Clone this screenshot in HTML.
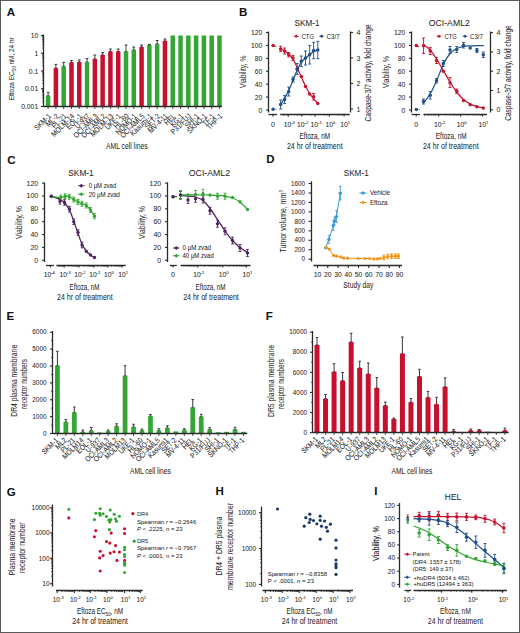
<!DOCTYPE html>
<html><head><meta charset="utf-8"><style>
html,body{margin:0;padding:0;background:#fff;}
svg{display:block;}
text{font-family:"Liberation Sans",sans-serif;stroke:#262626;stroke-width:0.04px;}
</style></head><body>
<svg width="520" height="633" viewBox="0 0 520 633">
<rect x="0" y="0" width="520" height="633" fill="#fff"/>
<text x="6.80" y="16.20" font-size="11.5" text-anchor="start" fill="#111" font-weight="bold">A</text>
<line x1="48.10" y1="92.30" x2="48.10" y2="95.80" stroke="#2a2a2a" stroke-width="0.9"/>
<line x1="46.70" y1="92.30" x2="49.50" y2="92.30" stroke="#2a2a2a" stroke-width="0.9"/>
<line x1="46.70" y1="95.80" x2="49.50" y2="95.80" stroke="#2a2a2a" stroke-width="0.9"/>
<rect x="45.85" y="95.80" width="4.50" height="10.70" fill="#34a634"/>
<line x1="48.10" y1="106.50" x2="48.10" y2="109.00" stroke="#2a2a2a" stroke-width="0.8"/>
<text x="51.50" y="116.70" font-size="7.6" text-anchor="end" fill="#262626" textLength="19.97" lengthAdjust="spacingAndGlyphs" transform="rotate(-45 51.50 116.70)">SKM-1</text>
<line x1="55.89" y1="64.40" x2="55.89" y2="68.10" stroke="#2a2a2a" stroke-width="0.9"/>
<line x1="54.49" y1="64.40" x2="57.29" y2="64.40" stroke="#2a2a2a" stroke-width="0.9"/>
<line x1="54.49" y1="68.10" x2="57.29" y2="68.10" stroke="#2a2a2a" stroke-width="0.9"/>
<rect x="53.64" y="68.10" width="4.50" height="38.40" fill="#c8102e"/>
<line x1="55.89" y1="106.50" x2="55.89" y2="109.00" stroke="#2a2a2a" stroke-width="0.8"/>
<text x="59.29" y="116.70" font-size="7.6" text-anchor="end" fill="#262626" textLength="14.89" lengthAdjust="spacingAndGlyphs" transform="rotate(-45 59.29 116.70)">ML-2</text>
<line x1="63.68" y1="62.30" x2="63.68" y2="66.30" stroke="#2a2a2a" stroke-width="0.9"/>
<line x1="62.28" y1="62.30" x2="65.08" y2="62.30" stroke="#2a2a2a" stroke-width="0.9"/>
<line x1="62.28" y1="66.30" x2="65.08" y2="66.30" stroke="#2a2a2a" stroke-width="0.9"/>
<rect x="61.43" y="66.30" width="4.50" height="40.20" fill="#34a634"/>
<line x1="63.68" y1="106.50" x2="63.68" y2="109.00" stroke="#2a2a2a" stroke-width="0.8"/>
<text x="67.08" y="116.70" font-size="7.6" text-anchor="end" fill="#262626" textLength="17.44" lengthAdjust="spacingAndGlyphs" transform="rotate(-45 67.08 116.70)">PL-21</text>
<line x1="71.47" y1="60.50" x2="71.47" y2="62.50" stroke="#2a2a2a" stroke-width="0.9"/>
<line x1="70.07" y1="60.50" x2="72.87" y2="60.50" stroke="#2a2a2a" stroke-width="0.9"/>
<line x1="70.07" y1="62.50" x2="72.87" y2="62.50" stroke="#2a2a2a" stroke-width="0.9"/>
<rect x="69.22" y="62.50" width="4.50" height="44.00" fill="#c8102e"/>
<line x1="71.47" y1="106.50" x2="71.47" y2="109.00" stroke="#2a2a2a" stroke-width="0.8"/>
<text x="74.87" y="116.70" font-size="7.6" text-anchor="end" fill="#262626" textLength="29.05" lengthAdjust="spacingAndGlyphs" transform="rotate(-45 74.87 116.70)">MOLM-14</text>
<line x1="79.26" y1="60.00" x2="79.26" y2="62.10" stroke="#2a2a2a" stroke-width="0.9"/>
<line x1="77.86" y1="60.00" x2="80.66" y2="60.00" stroke="#2a2a2a" stroke-width="0.9"/>
<line x1="77.86" y1="62.10" x2="80.66" y2="62.10" stroke="#2a2a2a" stroke-width="0.9"/>
<rect x="77.01" y="62.10" width="4.50" height="44.40" fill="#c8102e"/>
<line x1="79.26" y1="106.50" x2="79.26" y2="109.00" stroke="#2a2a2a" stroke-width="0.8"/>
<text x="82.66" y="116.70" font-size="7.6" text-anchor="end" fill="#262626" textLength="18.89" lengthAdjust="spacingAndGlyphs" transform="rotate(-45 82.66 116.70)">EOL-1</text>
<line x1="87.05" y1="58.50" x2="87.05" y2="62.10" stroke="#2a2a2a" stroke-width="0.9"/>
<line x1="85.65" y1="58.50" x2="88.45" y2="58.50" stroke="#2a2a2a" stroke-width="0.9"/>
<line x1="85.65" y1="62.10" x2="88.45" y2="62.10" stroke="#2a2a2a" stroke-width="0.9"/>
<rect x="84.80" y="62.10" width="4.50" height="44.40" fill="#34a634"/>
<line x1="87.05" y1="106.50" x2="87.05" y2="109.00" stroke="#2a2a2a" stroke-width="0.8"/>
<text x="90.45" y="116.70" font-size="7.6" text-anchor="end" fill="#262626" textLength="17.80" lengthAdjust="spacingAndGlyphs" transform="rotate(-45 90.45 116.70)">U-937</text>
<line x1="94.84" y1="55.00" x2="94.84" y2="59.00" stroke="#2a2a2a" stroke-width="0.9"/>
<line x1="93.44" y1="55.00" x2="96.24" y2="55.00" stroke="#2a2a2a" stroke-width="0.9"/>
<line x1="93.44" y1="59.00" x2="96.24" y2="59.00" stroke="#2a2a2a" stroke-width="0.9"/>
<rect x="92.59" y="59.00" width="4.50" height="47.50" fill="#c8102e"/>
<line x1="94.84" y1="106.50" x2="94.84" y2="109.00" stroke="#2a2a2a" stroke-width="0.8"/>
<text x="98.24" y="116.70" font-size="7.6" text-anchor="end" fill="#262626" textLength="30.87" lengthAdjust="spacingAndGlyphs" transform="rotate(-45 98.24 116.70)">OCI-AML3</text>
<line x1="102.63" y1="52.50" x2="102.63" y2="55.00" stroke="#2a2a2a" stroke-width="0.9"/>
<line x1="101.23" y1="52.50" x2="104.03" y2="52.50" stroke="#2a2a2a" stroke-width="0.9"/>
<line x1="101.23" y1="55.00" x2="104.03" y2="55.00" stroke="#2a2a2a" stroke-width="0.9"/>
<rect x="100.38" y="55.00" width="4.50" height="51.50" fill="#c8102e"/>
<line x1="102.63" y1="106.50" x2="102.63" y2="109.00" stroke="#2a2a2a" stroke-width="0.8"/>
<text x="106.03" y="116.70" font-size="7.6" text-anchor="end" fill="#262626" textLength="30.87" lengthAdjust="spacingAndGlyphs" transform="rotate(-45 106.03 116.70)">OCI-AML2</text>
<line x1="110.42" y1="49.00" x2="110.42" y2="51.50" stroke="#2a2a2a" stroke-width="0.9"/>
<line x1="109.02" y1="49.00" x2="111.82" y2="49.00" stroke="#2a2a2a" stroke-width="0.9"/>
<line x1="109.02" y1="51.50" x2="111.82" y2="51.50" stroke="#2a2a2a" stroke-width="0.9"/>
<rect x="108.17" y="51.50" width="4.50" height="55.00" fill="#c8102e"/>
<line x1="110.42" y1="106.50" x2="110.42" y2="109.00" stroke="#2a2a2a" stroke-width="0.8"/>
<text x="113.82" y="116.70" font-size="7.6" text-anchor="end" fill="#262626" textLength="29.05" lengthAdjust="spacingAndGlyphs" transform="rotate(-45 113.82 116.70)">MOLM-13</text>
<line x1="118.21" y1="49.00" x2="118.21" y2="51.50" stroke="#2a2a2a" stroke-width="0.9"/>
<line x1="116.81" y1="49.00" x2="119.61" y2="49.00" stroke="#2a2a2a" stroke-width="0.9"/>
<line x1="116.81" y1="51.50" x2="119.61" y2="51.50" stroke="#2a2a2a" stroke-width="0.9"/>
<rect x="115.96" y="51.50" width="4.50" height="55.00" fill="#c8102e"/>
<line x1="118.21" y1="106.50" x2="118.21" y2="109.00" stroke="#2a2a2a" stroke-width="0.8"/>
<text x="121.61" y="116.70" font-size="7.6" text-anchor="end" fill="#262626" textLength="19.25" lengthAdjust="spacingAndGlyphs" transform="rotate(-45 121.61 116.70)">UKE-1</text>
<line x1="126.00" y1="45.00" x2="126.00" y2="51.50" stroke="#2a2a2a" stroke-width="0.9"/>
<line x1="124.60" y1="45.00" x2="127.40" y2="45.00" stroke="#2a2a2a" stroke-width="0.9"/>
<line x1="124.60" y1="51.50" x2="127.40" y2="51.50" stroke="#2a2a2a" stroke-width="0.9"/>
<rect x="123.75" y="51.50" width="4.50" height="55.00" fill="#34a634"/>
<line x1="126.00" y1="106.50" x2="126.00" y2="109.00" stroke="#2a2a2a" stroke-width="0.8"/>
<text x="129.40" y="116.70" font-size="7.6" text-anchor="end" fill="#262626" textLength="17.80" lengthAdjust="spacingAndGlyphs" transform="rotate(-45 129.40 116.70)">HL-60</text>
<line x1="133.79" y1="47.00" x2="133.79" y2="50.00" stroke="#2a2a2a" stroke-width="0.9"/>
<line x1="132.39" y1="47.00" x2="135.19" y2="47.00" stroke="#2a2a2a" stroke-width="0.9"/>
<line x1="132.39" y1="50.00" x2="135.19" y2="50.00" stroke="#2a2a2a" stroke-width="0.9"/>
<rect x="131.54" y="50.00" width="4.50" height="56.50" fill="#34a634"/>
<line x1="133.79" y1="106.50" x2="133.79" y2="109.00" stroke="#2a2a2a" stroke-width="0.8"/>
<text x="137.19" y="116.70" font-size="7.6" text-anchor="end" fill="#262626" textLength="26.14" lengthAdjust="spacingAndGlyphs" transform="rotate(-45 137.19 116.70)">NOMO-1</text>
<line x1="141.58" y1="45.00" x2="141.58" y2="47.00" stroke="#2a2a2a" stroke-width="0.9"/>
<line x1="140.18" y1="45.00" x2="142.98" y2="45.00" stroke="#2a2a2a" stroke-width="0.9"/>
<line x1="140.18" y1="47.00" x2="142.98" y2="47.00" stroke="#2a2a2a" stroke-width="0.9"/>
<rect x="139.33" y="47.00" width="4.50" height="59.50" fill="#c8102e"/>
<line x1="141.58" y1="106.50" x2="141.58" y2="109.00" stroke="#2a2a2a" stroke-width="0.8"/>
<text x="144.98" y="116.70" font-size="7.6" text-anchor="end" fill="#262626" textLength="30.87" lengthAdjust="spacingAndGlyphs" transform="rotate(-45 144.98 116.70)">OCI-AML5</text>
<line x1="149.37" y1="44.30" x2="149.37" y2="45.00" stroke="#2a2a2a" stroke-width="0.9"/>
<line x1="147.97" y1="44.30" x2="150.77" y2="44.30" stroke="#2a2a2a" stroke-width="0.9"/>
<line x1="147.97" y1="45.00" x2="150.77" y2="45.00" stroke="#2a2a2a" stroke-width="0.9"/>
<rect x="147.12" y="45.00" width="4.50" height="61.50" fill="#34a634"/>
<line x1="149.37" y1="106.50" x2="149.37" y2="109.00" stroke="#2a2a2a" stroke-width="0.8"/>
<text x="152.77" y="116.70" font-size="7.6" text-anchor="end" fill="#262626" textLength="27.60" lengthAdjust="spacingAndGlyphs" transform="rotate(-45 152.77 116.70)">Kasumi-1</text>
<line x1="157.16" y1="40.50" x2="157.16" y2="44.00" stroke="#2a2a2a" stroke-width="0.9"/>
<line x1="155.76" y1="40.50" x2="158.56" y2="40.50" stroke="#2a2a2a" stroke-width="0.9"/>
<line x1="155.76" y1="44.00" x2="158.56" y2="44.00" stroke="#2a2a2a" stroke-width="0.9"/>
<rect x="154.91" y="44.00" width="4.50" height="62.50" fill="#34a634"/>
<line x1="157.16" y1="106.50" x2="157.16" y2="109.00" stroke="#2a2a2a" stroke-width="0.8"/>
<text x="160.56" y="116.70" font-size="7.6" text-anchor="end" fill="#262626" textLength="18.16" lengthAdjust="spacingAndGlyphs" transform="rotate(-45 160.56 116.70)">SET-2</text>
<line x1="164.95" y1="39.00" x2="164.95" y2="41.00" stroke="#2a2a2a" stroke-width="0.9"/>
<line x1="163.55" y1="39.00" x2="166.35" y2="39.00" stroke="#2a2a2a" stroke-width="0.9"/>
<line x1="163.55" y1="41.00" x2="166.35" y2="41.00" stroke="#2a2a2a" stroke-width="0.9"/>
<rect x="162.70" y="41.00" width="4.50" height="65.50" fill="#c8102e"/>
<line x1="164.95" y1="106.50" x2="164.95" y2="109.00" stroke="#2a2a2a" stroke-width="0.8"/>
<text x="168.35" y="116.70" font-size="7.6" text-anchor="end" fill="#262626" textLength="24.21" lengthAdjust="spacingAndGlyphs" transform="rotate(-45 168.35 116.70)">MV-4-11</text>
<rect x="170.49" y="35.50" width="4.50" height="71.00" fill="#34a634"/>
<line x1="172.74" y1="106.50" x2="172.74" y2="109.00" stroke="#2a2a2a" stroke-width="0.8"/>
<text x="176.14" y="116.70" font-size="7.6" text-anchor="end" fill="#262626" textLength="12.71" lengthAdjust="spacingAndGlyphs" transform="rotate(-45 176.14 116.70)">HEL</text>
<rect x="178.28" y="35.50" width="4.50" height="71.00" fill="#34a634"/>
<line x1="180.53" y1="106.50" x2="180.53" y2="109.00" stroke="#2a2a2a" stroke-width="0.8"/>
<text x="183.93" y="116.70" font-size="7.6" text-anchor="end" fill="#262626" textLength="15.25" lengthAdjust="spacingAndGlyphs" transform="rotate(-45 183.93 116.70)">KG-1</text>
<rect x="186.07" y="35.50" width="4.50" height="71.00" fill="#34a634"/>
<line x1="188.32" y1="106.50" x2="188.32" y2="109.00" stroke="#2a2a2a" stroke-width="0.8"/>
<text x="191.72" y="116.70" font-size="7.6" text-anchor="end" fill="#262626" textLength="25.43" lengthAdjust="spacingAndGlyphs" transform="rotate(-45 191.72 116.70)">P31/FUJ</text>
<rect x="193.86" y="35.50" width="4.50" height="71.00" fill="#34a634"/>
<line x1="196.11" y1="106.50" x2="196.11" y2="109.00" stroke="#2a2a2a" stroke-width="0.8"/>
<text x="199.51" y="116.70" font-size="7.6" text-anchor="end" fill="#262626" textLength="16.71" lengthAdjust="spacingAndGlyphs" transform="rotate(-45 199.51 116.70)">SHI-1</text>
<rect x="201.65" y="35.50" width="4.50" height="71.00" fill="#34a634"/>
<line x1="203.90" y1="106.50" x2="203.90" y2="109.00" stroke="#2a2a2a" stroke-width="0.8"/>
<text x="207.30" y="116.70" font-size="7.6" text-anchor="end" fill="#262626" textLength="24.33" lengthAdjust="spacingAndGlyphs" transform="rotate(-45 207.30 116.70)">SKNO-1</text>
<rect x="209.44" y="35.50" width="4.50" height="71.00" fill="#34a634"/>
<line x1="211.69" y1="106.50" x2="211.69" y2="109.00" stroke="#2a2a2a" stroke-width="0.8"/>
<text x="215.09" y="116.70" font-size="7.6" text-anchor="end" fill="#262626" textLength="13.80" lengthAdjust="spacingAndGlyphs" transform="rotate(-45 215.09 116.70)">TF-1</text>
<rect x="217.23" y="35.50" width="4.50" height="71.00" fill="#34a634"/>
<line x1="219.48" y1="106.50" x2="219.48" y2="109.00" stroke="#2a2a2a" stroke-width="0.8"/>
<text x="222.88" y="116.70" font-size="7.6" text-anchor="end" fill="#262626" textLength="18.88" lengthAdjust="spacingAndGlyphs" transform="rotate(-45 222.88 116.70)">THP-1</text>
<line x1="43.50" y1="34.50" x2="43.50" y2="107.00" stroke="#2a2a2a" stroke-width="1.3"/>
<line x1="43.50" y1="106.50" x2="222.00" y2="106.50" stroke="#2a2a2a" stroke-width="1.3"/>
<line x1="41.00" y1="106.50" x2="43.50" y2="106.50" stroke="#2a2a2a" stroke-width="1.1"/>
<text x="38.20" y="109.00" font-size="6.8" text-anchor="end" fill="#262626">0.001</text>
<line x1="42.20" y1="101.16" x2="43.50" y2="101.16" stroke="#2a2a2a" stroke-width="0.8"/>
<line x1="42.20" y1="98.03" x2="43.50" y2="98.03" stroke="#2a2a2a" stroke-width="0.8"/>
<line x1="42.20" y1="95.81" x2="43.50" y2="95.81" stroke="#2a2a2a" stroke-width="0.8"/>
<line x1="42.20" y1="94.09" x2="43.50" y2="94.09" stroke="#2a2a2a" stroke-width="0.8"/>
<line x1="42.20" y1="92.69" x2="43.50" y2="92.69" stroke="#2a2a2a" stroke-width="0.8"/>
<line x1="42.20" y1="91.50" x2="43.50" y2="91.50" stroke="#2a2a2a" stroke-width="0.8"/>
<line x1="42.20" y1="90.47" x2="43.50" y2="90.47" stroke="#2a2a2a" stroke-width="0.8"/>
<line x1="42.20" y1="89.56" x2="43.50" y2="89.56" stroke="#2a2a2a" stroke-width="0.8"/>
<line x1="41.00" y1="88.75" x2="43.50" y2="88.75" stroke="#2a2a2a" stroke-width="1.1"/>
<text x="38.20" y="91.25" font-size="6.8" text-anchor="end" fill="#262626">0.01</text>
<line x1="42.20" y1="83.41" x2="43.50" y2="83.41" stroke="#2a2a2a" stroke-width="0.8"/>
<line x1="42.20" y1="80.28" x2="43.50" y2="80.28" stroke="#2a2a2a" stroke-width="0.8"/>
<line x1="42.20" y1="78.06" x2="43.50" y2="78.06" stroke="#2a2a2a" stroke-width="0.8"/>
<line x1="42.20" y1="76.34" x2="43.50" y2="76.34" stroke="#2a2a2a" stroke-width="0.8"/>
<line x1="42.20" y1="74.94" x2="43.50" y2="74.94" stroke="#2a2a2a" stroke-width="0.8"/>
<line x1="42.20" y1="73.75" x2="43.50" y2="73.75" stroke="#2a2a2a" stroke-width="0.8"/>
<line x1="42.20" y1="72.72" x2="43.50" y2="72.72" stroke="#2a2a2a" stroke-width="0.8"/>
<line x1="42.20" y1="71.81" x2="43.50" y2="71.81" stroke="#2a2a2a" stroke-width="0.8"/>
<line x1="41.00" y1="71.00" x2="43.50" y2="71.00" stroke="#2a2a2a" stroke-width="1.1"/>
<text x="38.20" y="73.50" font-size="6.8" text-anchor="end" fill="#262626">0.1</text>
<line x1="42.20" y1="65.66" x2="43.50" y2="65.66" stroke="#2a2a2a" stroke-width="0.8"/>
<line x1="42.20" y1="62.53" x2="43.50" y2="62.53" stroke="#2a2a2a" stroke-width="0.8"/>
<line x1="42.20" y1="60.31" x2="43.50" y2="60.31" stroke="#2a2a2a" stroke-width="0.8"/>
<line x1="42.20" y1="58.59" x2="43.50" y2="58.59" stroke="#2a2a2a" stroke-width="0.8"/>
<line x1="42.20" y1="57.19" x2="43.50" y2="57.19" stroke="#2a2a2a" stroke-width="0.8"/>
<line x1="42.20" y1="56.00" x2="43.50" y2="56.00" stroke="#2a2a2a" stroke-width="0.8"/>
<line x1="42.20" y1="54.97" x2="43.50" y2="54.97" stroke="#2a2a2a" stroke-width="0.8"/>
<line x1="42.20" y1="54.06" x2="43.50" y2="54.06" stroke="#2a2a2a" stroke-width="0.8"/>
<line x1="41.00" y1="53.25" x2="43.50" y2="53.25" stroke="#2a2a2a" stroke-width="1.1"/>
<text x="38.20" y="55.75" font-size="6.8" text-anchor="end" fill="#262626">1</text>
<line x1="42.20" y1="47.91" x2="43.50" y2="47.91" stroke="#2a2a2a" stroke-width="0.8"/>
<line x1="42.20" y1="44.78" x2="43.50" y2="44.78" stroke="#2a2a2a" stroke-width="0.8"/>
<line x1="42.20" y1="42.56" x2="43.50" y2="42.56" stroke="#2a2a2a" stroke-width="0.8"/>
<line x1="42.20" y1="40.84" x2="43.50" y2="40.84" stroke="#2a2a2a" stroke-width="0.8"/>
<line x1="42.20" y1="39.44" x2="43.50" y2="39.44" stroke="#2a2a2a" stroke-width="0.8"/>
<line x1="42.20" y1="38.25" x2="43.50" y2="38.25" stroke="#2a2a2a" stroke-width="0.8"/>
<line x1="42.20" y1="37.22" x2="43.50" y2="37.22" stroke="#2a2a2a" stroke-width="0.8"/>
<line x1="42.20" y1="36.31" x2="43.50" y2="36.31" stroke="#2a2a2a" stroke-width="0.8"/>
<line x1="41.00" y1="35.50" x2="43.50" y2="35.50" stroke="#2a2a2a" stroke-width="1.1"/>
<text x="38.20" y="38.00" font-size="6.8" text-anchor="end" fill="#262626">10</text>
<text x="14.30" y="68.80" font-size="7.8" text-anchor="middle" fill="#262626" textLength="63.00" lengthAdjust="spacingAndGlyphs" transform="rotate(-90 14.30 68.80)" class="rt">Eftoza EC<tspan font-size="5.6" dy="1.8">50</tspan><tspan dy="-1.8"> nM, 24 hr</tspan></text>
<text x="126.80" y="148.60" font-size="8.6" text-anchor="middle" fill="#262626" textLength="41.50" lengthAdjust="spacingAndGlyphs">AML cell lines</text>
<text x="239.00" y="16.20" font-size="11.5" text-anchor="start" fill="#111" font-weight="bold">B</text>
<line x1="268.50" y1="31.50" x2="268.50" y2="112.50" stroke="#2a2a2a" stroke-width="1.3"/>
<line x1="350.50" y1="31.50" x2="350.50" y2="112.50" stroke="#2a2a2a" stroke-width="1.3"/>
<line x1="266.00" y1="110.00" x2="268.50" y2="110.00" stroke="#2a2a2a" stroke-width="1.1"/>
<text x="262.30" y="112.50" font-size="6.8" text-anchor="end" fill="#262626">0</text>
<line x1="266.00" y1="97.08" x2="268.50" y2="97.08" stroke="#2a2a2a" stroke-width="1.1"/>
<text x="262.30" y="99.58" font-size="6.8" text-anchor="end" fill="#262626">20</text>
<line x1="266.00" y1="84.17" x2="268.50" y2="84.17" stroke="#2a2a2a" stroke-width="1.1"/>
<text x="262.30" y="86.67" font-size="6.8" text-anchor="end" fill="#262626">40</text>
<line x1="266.00" y1="71.25" x2="268.50" y2="71.25" stroke="#2a2a2a" stroke-width="1.1"/>
<text x="262.30" y="73.75" font-size="6.8" text-anchor="end" fill="#262626">60</text>
<line x1="266.00" y1="58.34" x2="268.50" y2="58.34" stroke="#2a2a2a" stroke-width="1.1"/>
<text x="262.30" y="60.84" font-size="6.8" text-anchor="end" fill="#262626">80</text>
<line x1="266.00" y1="45.42" x2="268.50" y2="45.42" stroke="#2a2a2a" stroke-width="1.1"/>
<text x="262.30" y="47.92" font-size="6.8" text-anchor="end" fill="#262626">100</text>
<line x1="266.00" y1="32.50" x2="268.50" y2="32.50" stroke="#2a2a2a" stroke-width="1.1"/>
<text x="262.30" y="35.00" font-size="6.8" text-anchor="end" fill="#262626">120</text>
<line x1="350.50" y1="109.00" x2="353.00" y2="109.00" stroke="#2a2a2a" stroke-width="1.1"/>
<text x="356.50" y="111.50" font-size="7" text-anchor="start" fill="#262626">1</text>
<line x1="350.50" y1="83.50" x2="353.00" y2="83.50" stroke="#2a2a2a" stroke-width="1.1"/>
<text x="356.50" y="86.00" font-size="7" text-anchor="start" fill="#262626">2</text>
<line x1="350.50" y1="58.00" x2="353.00" y2="58.00" stroke="#2a2a2a" stroke-width="1.1"/>
<text x="356.50" y="60.50" font-size="7" text-anchor="start" fill="#262626">3</text>
<line x1="350.50" y1="32.50" x2="353.00" y2="32.50" stroke="#2a2a2a" stroke-width="1.1"/>
<text x="356.50" y="35.00" font-size="7" text-anchor="start" fill="#262626">4</text>
<line x1="268.50" y1="114.50" x2="277.10" y2="114.50" stroke="#2a2a2a" stroke-width="1.3"/>
<line x1="280.20" y1="114.50" x2="349.80" y2="114.50" stroke="#2a2a2a" stroke-width="1.3"/>
<line x1="273.00" y1="114.00" x2="273.00" y2="116.50" stroke="#2a2a2a" stroke-width="1.1"/>
<text x="273.00" y="126.80" font-size="7" text-anchor="middle" fill="#262626">0</text>
<line x1="288.30" y1="114.00" x2="288.30" y2="116.50" stroke="#2a2a2a" stroke-width="1.1"/>
<text x="289.30" y="126.80" font-size="6.8" text-anchor="middle" fill="#262626">10<tspan font-size="4.22" dy="-2.6">-3</tspan></text>
<line x1="301.70" y1="114.00" x2="301.70" y2="116.50" stroke="#2a2a2a" stroke-width="1.1"/>
<text x="302.70" y="126.80" font-size="6.8" text-anchor="middle" fill="#262626">10<tspan font-size="4.22" dy="-2.6">-2</tspan></text>
<line x1="315.10" y1="114.00" x2="315.10" y2="116.50" stroke="#2a2a2a" stroke-width="1.1"/>
<text x="316.10" y="126.80" font-size="6.8" text-anchor="middle" fill="#262626">10<tspan font-size="4.22" dy="-2.6">-1</tspan></text>
<line x1="329.40" y1="114.00" x2="329.40" y2="116.50" stroke="#2a2a2a" stroke-width="1.1"/>
<text x="330.40" y="126.80" font-size="6.8" text-anchor="middle" fill="#262626">10<tspan font-size="4.22" dy="-2.6">0</tspan></text>
<line x1="344.10" y1="114.00" x2="344.10" y2="116.50" stroke="#2a2a2a" stroke-width="1.1"/>
<text x="345.10" y="126.80" font-size="6.8" text-anchor="middle" fill="#262626">10<tspan font-size="4.22" dy="-2.6">1</tspan></text>
<line x1="284.10" y1="114.00" x2="284.10" y2="115.60" stroke="#2a2a2a" stroke-width="0.8"/>
<line x1="287.40" y1="114.00" x2="287.40" y2="115.60" stroke="#2a2a2a" stroke-width="0.8"/>
<line x1="297.60" y1="114.00" x2="297.60" y2="115.60" stroke="#2a2a2a" stroke-width="0.8"/>
<line x1="300.90" y1="114.00" x2="300.90" y2="115.60" stroke="#2a2a2a" stroke-width="0.8"/>
<line x1="311.10" y1="114.00" x2="311.10" y2="115.60" stroke="#2a2a2a" stroke-width="0.8"/>
<line x1="314.40" y1="114.00" x2="314.40" y2="115.60" stroke="#2a2a2a" stroke-width="0.8"/>
<line x1="324.60" y1="114.00" x2="324.60" y2="115.60" stroke="#2a2a2a" stroke-width="0.8"/>
<line x1="327.90" y1="114.00" x2="327.90" y2="115.60" stroke="#2a2a2a" stroke-width="0.8"/>
<line x1="338.10" y1="114.00" x2="338.10" y2="115.60" stroke="#2a2a2a" stroke-width="0.8"/>
<line x1="341.40" y1="114.00" x2="341.40" y2="115.60" stroke="#2a2a2a" stroke-width="0.8"/>
<text x="307.00" y="25.90" font-size="8.8" text-anchor="middle" fill="#262626" textLength="25.00" lengthAdjust="spacingAndGlyphs" stroke="#262626" stroke-width="0.25">SKM-1</text>
<path d="M280.60,48.90 C281.27,49.25 283.25,50.12 284.60,51.00 C285.95,51.88 287.30,52.87 288.70,54.20 C290.10,55.53 291.58,56.78 293.00,59.00 C294.42,61.22 295.82,64.50 297.20,67.50 C298.58,70.50 299.92,73.92 301.30,77.00 C302.68,80.08 304.10,83.25 305.50,86.00 C306.90,88.75 308.35,91.37 309.70,93.50 C311.05,95.63 312.25,97.15 313.60,98.80 C314.95,100.45 317.10,102.63 317.80,103.40" fill="none" stroke="#c8102e" stroke-width="1.25"/>
<path d="M280.60,104.60 C281.27,103.57 283.25,100.73 284.60,98.40 C285.95,96.07 287.30,93.58 288.70,90.60 C290.10,87.62 291.58,83.92 293.00,80.50 C294.42,77.08 295.82,73.13 297.20,70.10 C298.58,67.07 299.92,64.28 301.30,62.30 C302.68,60.32 304.10,59.52 305.50,58.20 C306.90,56.88 308.35,55.50 309.70,54.40 C311.05,53.30 312.25,52.32 313.60,51.60 C314.95,50.88 317.10,50.35 317.80,50.10" fill="none" stroke="#1f4f8c" stroke-width="1.25"/>
<line x1="280.60" y1="46.20" x2="280.60" y2="51.50" stroke="#c8102e" stroke-width="0.9"/>
<line x1="279.10" y1="46.20" x2="282.10" y2="46.20" stroke="#c8102e" stroke-width="0.9"/>
<line x1="279.10" y1="51.50" x2="282.10" y2="51.50" stroke="#c8102e" stroke-width="0.9"/>
<line x1="284.60" y1="48.00" x2="284.60" y2="54.00" stroke="#c8102e" stroke-width="0.9"/>
<line x1="283.10" y1="48.00" x2="286.10" y2="48.00" stroke="#c8102e" stroke-width="0.9"/>
<line x1="283.10" y1="54.00" x2="286.10" y2="54.00" stroke="#c8102e" stroke-width="0.9"/>
<line x1="288.70" y1="52.50" x2="288.70" y2="57.00" stroke="#c8102e" stroke-width="0.9"/>
<line x1="287.20" y1="52.50" x2="290.20" y2="52.50" stroke="#c8102e" stroke-width="0.9"/>
<line x1="287.20" y1="57.00" x2="290.20" y2="57.00" stroke="#c8102e" stroke-width="0.9"/>
<line x1="293.00" y1="55.50" x2="293.00" y2="60.50" stroke="#c8102e" stroke-width="0.9"/>
<line x1="291.50" y1="55.50" x2="294.50" y2="55.50" stroke="#c8102e" stroke-width="0.9"/>
<line x1="291.50" y1="60.50" x2="294.50" y2="60.50" stroke="#c8102e" stroke-width="0.9"/>
<line x1="313.60" y1="93.50" x2="313.60" y2="100.00" stroke="#c8102e" stroke-width="0.9"/>
<line x1="312.10" y1="93.50" x2="315.10" y2="93.50" stroke="#c8102e" stroke-width="0.9"/>
<line x1="312.10" y1="100.00" x2="315.10" y2="100.00" stroke="#c8102e" stroke-width="0.9"/>
<line x1="280.60" y1="100.00" x2="280.60" y2="109.00" stroke="#1f4f8c" stroke-width="0.9"/>
<line x1="279.10" y1="100.00" x2="282.10" y2="100.00" stroke="#1f4f8c" stroke-width="0.9"/>
<line x1="279.10" y1="109.00" x2="282.10" y2="109.00" stroke="#1f4f8c" stroke-width="0.9"/>
<line x1="284.60" y1="95.50" x2="284.60" y2="103.50" stroke="#1f4f8c" stroke-width="0.9"/>
<line x1="283.10" y1="95.50" x2="286.10" y2="95.50" stroke="#1f4f8c" stroke-width="0.9"/>
<line x1="283.10" y1="103.50" x2="286.10" y2="103.50" stroke="#1f4f8c" stroke-width="0.9"/>
<line x1="288.70" y1="87.00" x2="288.70" y2="96.00" stroke="#1f4f8c" stroke-width="0.9"/>
<line x1="287.20" y1="87.00" x2="290.20" y2="87.00" stroke="#1f4f8c" stroke-width="0.9"/>
<line x1="287.20" y1="96.00" x2="290.20" y2="96.00" stroke="#1f4f8c" stroke-width="0.9"/>
<line x1="293.00" y1="77.00" x2="293.00" y2="82.00" stroke="#1f4f8c" stroke-width="0.9"/>
<line x1="291.50" y1="77.00" x2="294.50" y2="77.00" stroke="#1f4f8c" stroke-width="0.9"/>
<line x1="291.50" y1="82.00" x2="294.50" y2="82.00" stroke="#1f4f8c" stroke-width="0.9"/>
<line x1="297.20" y1="63.50" x2="297.20" y2="74.50" stroke="#1f4f8c" stroke-width="0.9"/>
<line x1="295.70" y1="63.50" x2="298.70" y2="63.50" stroke="#1f4f8c" stroke-width="0.9"/>
<line x1="295.70" y1="74.50" x2="298.70" y2="74.50" stroke="#1f4f8c" stroke-width="0.9"/>
<line x1="301.30" y1="56.00" x2="301.30" y2="66.50" stroke="#1f4f8c" stroke-width="0.9"/>
<line x1="299.80" y1="56.00" x2="302.80" y2="56.00" stroke="#1f4f8c" stroke-width="0.9"/>
<line x1="299.80" y1="66.50" x2="302.80" y2="66.50" stroke="#1f4f8c" stroke-width="0.9"/>
<line x1="305.50" y1="51.00" x2="305.50" y2="65.00" stroke="#1f4f8c" stroke-width="0.9"/>
<line x1="304.00" y1="51.00" x2="307.00" y2="51.00" stroke="#1f4f8c" stroke-width="0.9"/>
<line x1="304.00" y1="65.00" x2="307.00" y2="65.00" stroke="#1f4f8c" stroke-width="0.9"/>
<line x1="309.70" y1="45.40" x2="309.70" y2="64.00" stroke="#1f4f8c" stroke-width="0.9"/>
<line x1="308.20" y1="45.40" x2="311.20" y2="45.40" stroke="#1f4f8c" stroke-width="0.9"/>
<line x1="308.20" y1="64.00" x2="311.20" y2="64.00" stroke="#1f4f8c" stroke-width="0.9"/>
<line x1="313.60" y1="42.30" x2="313.60" y2="58.70" stroke="#1f4f8c" stroke-width="0.9"/>
<line x1="312.10" y1="42.30" x2="315.10" y2="42.30" stroke="#1f4f8c" stroke-width="0.9"/>
<line x1="312.10" y1="58.70" x2="315.10" y2="58.70" stroke="#1f4f8c" stroke-width="0.9"/>
<line x1="317.80" y1="41.40" x2="317.80" y2="58.70" stroke="#1f4f8c" stroke-width="0.9"/>
<line x1="316.30" y1="41.40" x2="319.30" y2="41.40" stroke="#1f4f8c" stroke-width="0.9"/>
<line x1="316.30" y1="58.70" x2="319.30" y2="58.70" stroke="#1f4f8c" stroke-width="0.9"/>
<circle cx="273.10" cy="45.40" r="1.75" fill="#c8102e"/>
<circle cx="280.60" cy="48.90" r="1.75" fill="#c8102e"/>
<circle cx="284.60" cy="51.00" r="1.75" fill="#c8102e"/>
<circle cx="288.70" cy="54.80" r="1.75" fill="#c8102e"/>
<circle cx="293.00" cy="57.90" r="1.75" fill="#c8102e"/>
<circle cx="297.20" cy="69.10" r="1.75" fill="#c8102e"/>
<circle cx="301.30" cy="76.40" r="1.75" fill="#c8102e"/>
<circle cx="305.50" cy="86.40" r="1.75" fill="#c8102e"/>
<circle cx="309.70" cy="93.90" r="1.75" fill="#c8102e"/>
<circle cx="313.60" cy="96.80" r="1.75" fill="#c8102e"/>
<circle cx="317.80" cy="103.40" r="1.75" fill="#c8102e"/>
<circle cx="273.10" cy="109.30" r="1.75" fill="#1f4f8c"/>
<circle cx="280.60" cy="104.60" r="1.75" fill="#1f4f8c"/>
<circle cx="284.60" cy="99.40" r="1.75" fill="#1f4f8c"/>
<circle cx="288.70" cy="91.60" r="1.75" fill="#1f4f8c"/>
<circle cx="293.00" cy="79.50" r="1.75" fill="#1f4f8c"/>
<circle cx="297.20" cy="69.10" r="1.75" fill="#1f4f8c"/>
<circle cx="301.30" cy="61.30" r="1.75" fill="#1f4f8c"/>
<circle cx="305.50" cy="57.90" r="1.75" fill="#1f4f8c"/>
<circle cx="309.70" cy="54.40" r="1.75" fill="#1f4f8c"/>
<circle cx="313.60" cy="50.60" r="1.75" fill="#1f4f8c"/>
<circle cx="317.80" cy="50.10" r="1.75" fill="#1f4f8c"/>
<line x1="273.10" y1="45.40" x2="276.10" y2="46.60" stroke="#c8102e" stroke-width="1.0"/>
<line x1="275.60" y1="109.30" x2="276.60" y2="109.30" stroke="#1f4f8c" stroke-width="1.0"/>
<line x1="293.70" y1="36.30" x2="298.70" y2="36.30" stroke="#c8102e" stroke-width="0.8"/>
<path d="M294.40,36.3 L296.20,34.5 L298.00,36.3 L296.20,38.1 Z" fill="#c8102e"/>
<text x="301.70" y="38.60" font-size="6.3" text-anchor="start" fill="#262626" textLength="12.20" lengthAdjust="spacingAndGlyphs">CTG</text>
<line x1="319.10" y1="36.30" x2="324.10" y2="36.30" stroke="#1f4f8c" stroke-width="0.8"/>
<path d="M319.80,36.3 L321.60,34.5 L323.40,36.3 L321.60,38.1 Z" fill="#1f4f8c"/>
<text x="326.60" y="38.60" font-size="6.3" text-anchor="start" fill="#262626" textLength="13.00" lengthAdjust="spacingAndGlyphs">C3/7</text>
<line x1="411.50" y1="31.50" x2="411.50" y2="112.50" stroke="#2a2a2a" stroke-width="1.3"/>
<line x1="490.50" y1="31.50" x2="490.50" y2="112.50" stroke="#2a2a2a" stroke-width="1.3"/>
<line x1="409.00" y1="110.00" x2="411.50" y2="110.00" stroke="#2a2a2a" stroke-width="1.1"/>
<text x="405.30" y="112.50" font-size="6.8" text-anchor="end" fill="#262626">0</text>
<line x1="409.00" y1="97.08" x2="411.50" y2="97.08" stroke="#2a2a2a" stroke-width="1.1"/>
<text x="405.30" y="99.58" font-size="6.8" text-anchor="end" fill="#262626">20</text>
<line x1="409.00" y1="84.17" x2="411.50" y2="84.17" stroke="#2a2a2a" stroke-width="1.1"/>
<text x="405.30" y="86.67" font-size="6.8" text-anchor="end" fill="#262626">40</text>
<line x1="409.00" y1="71.25" x2="411.50" y2="71.25" stroke="#2a2a2a" stroke-width="1.1"/>
<text x="405.30" y="73.75" font-size="6.8" text-anchor="end" fill="#262626">60</text>
<line x1="409.00" y1="58.34" x2="411.50" y2="58.34" stroke="#2a2a2a" stroke-width="1.1"/>
<text x="405.30" y="60.84" font-size="6.8" text-anchor="end" fill="#262626">80</text>
<line x1="409.00" y1="45.42" x2="411.50" y2="45.42" stroke="#2a2a2a" stroke-width="1.1"/>
<text x="405.30" y="47.92" font-size="6.8" text-anchor="end" fill="#262626">100</text>
<line x1="409.00" y1="32.50" x2="411.50" y2="32.50" stroke="#2a2a2a" stroke-width="1.1"/>
<text x="405.30" y="35.00" font-size="6.8" text-anchor="end" fill="#262626">120</text>
<line x1="490.50" y1="109.80" x2="493.00" y2="109.80" stroke="#2a2a2a" stroke-width="1.1"/>
<text x="496.50" y="112.30" font-size="7" text-anchor="start" fill="#262626">0</text>
<line x1="490.50" y1="90.50" x2="493.00" y2="90.50" stroke="#2a2a2a" stroke-width="1.1"/>
<text x="496.50" y="93.00" font-size="7" text-anchor="start" fill="#262626">1</text>
<line x1="490.50" y1="71.20" x2="493.00" y2="71.20" stroke="#2a2a2a" stroke-width="1.1"/>
<text x="496.50" y="73.70" font-size="7" text-anchor="start" fill="#262626">2</text>
<line x1="490.50" y1="51.90" x2="493.00" y2="51.90" stroke="#2a2a2a" stroke-width="1.1"/>
<text x="496.50" y="54.40" font-size="7" text-anchor="start" fill="#262626">3</text>
<line x1="490.50" y1="32.60" x2="493.00" y2="32.60" stroke="#2a2a2a" stroke-width="1.1"/>
<text x="496.50" y="35.10" font-size="7" text-anchor="start" fill="#262626">4</text>
<line x1="411.50" y1="114.50" x2="420.00" y2="114.50" stroke="#2a2a2a" stroke-width="1.3"/>
<line x1="423.50" y1="114.50" x2="487.00" y2="114.50" stroke="#2a2a2a" stroke-width="1.3"/>
<line x1="416.20" y1="114.00" x2="416.20" y2="116.50" stroke="#2a2a2a" stroke-width="1.1"/>
<text x="416.20" y="126.80" font-size="7" text-anchor="middle" fill="#262626">0</text>
<line x1="438.70" y1="114.00" x2="438.70" y2="116.50" stroke="#2a2a2a" stroke-width="1.1"/>
<text x="439.70" y="126.80" font-size="6.8" text-anchor="middle" fill="#262626">10<tspan font-size="4.22" dy="-2.6">-1</tspan></text>
<line x1="460.70" y1="114.00" x2="460.70" y2="116.50" stroke="#2a2a2a" stroke-width="1.1"/>
<text x="461.70" y="126.80" font-size="6.8" text-anchor="middle" fill="#262626">10<tspan font-size="4.22" dy="-2.6">0</tspan></text>
<line x1="482.50" y1="114.00" x2="482.50" y2="116.50" stroke="#2a2a2a" stroke-width="1.1"/>
<text x="483.50" y="126.80" font-size="6.8" text-anchor="middle" fill="#262626">10<tspan font-size="4.22" dy="-2.6">1</tspan></text>
<line x1="424.50" y1="114.00" x2="424.50" y2="115.60" stroke="#2a2a2a" stroke-width="0.8"/>
<line x1="428.50" y1="114.00" x2="428.50" y2="115.60" stroke="#2a2a2a" stroke-width="0.8"/>
<line x1="431.20" y1="114.00" x2="431.20" y2="115.60" stroke="#2a2a2a" stroke-width="0.8"/>
<line x1="433.40" y1="114.00" x2="433.40" y2="115.60" stroke="#2a2a2a" stroke-width="0.8"/>
<line x1="435.50" y1="114.00" x2="435.50" y2="115.60" stroke="#2a2a2a" stroke-width="0.8"/>
<line x1="446.00" y1="114.00" x2="446.00" y2="115.60" stroke="#2a2a2a" stroke-width="0.8"/>
<line x1="450.60" y1="114.00" x2="450.60" y2="115.60" stroke="#2a2a2a" stroke-width="0.8"/>
<line x1="453.70" y1="114.00" x2="453.70" y2="115.60" stroke="#2a2a2a" stroke-width="0.8"/>
<line x1="456.20" y1="114.00" x2="456.20" y2="115.60" stroke="#2a2a2a" stroke-width="0.8"/>
<line x1="458.20" y1="114.00" x2="458.20" y2="115.60" stroke="#2a2a2a" stroke-width="0.8"/>
<line x1="468.50" y1="114.00" x2="468.50" y2="115.60" stroke="#2a2a2a" stroke-width="0.8"/>
<line x1="473.00" y1="114.00" x2="473.00" y2="115.60" stroke="#2a2a2a" stroke-width="0.8"/>
<line x1="476.30" y1="114.00" x2="476.30" y2="115.60" stroke="#2a2a2a" stroke-width="0.8"/>
<line x1="478.80" y1="114.00" x2="478.80" y2="115.60" stroke="#2a2a2a" stroke-width="0.8"/>
<line x1="480.80" y1="114.00" x2="480.80" y2="115.60" stroke="#2a2a2a" stroke-width="0.8"/>
<text x="449.30" y="25.90" font-size="8.8" text-anchor="middle" fill="#262626" textLength="41.00" lengthAdjust="spacingAndGlyphs" stroke="#262626" stroke-width="0.25">OCI-AML2</text>
<path d="M423.50,44.50 C424.62,45.42 428.03,47.58 430.20,50.00 C432.37,52.42 434.32,55.58 436.50,59.00 C438.68,62.42 441.05,66.67 443.30,70.50 C445.55,74.33 447.77,78.42 450.00,82.00 C452.23,85.58 454.45,89.08 456.70,92.00 C458.95,94.92 461.25,97.50 463.50,99.50 C465.75,101.50 467.97,102.82 470.20,104.00 C472.43,105.18 474.72,105.97 476.90,106.60 C479.08,107.23 482.23,107.60 483.30,107.80" fill="none" stroke="#c8102e" stroke-width="1.25"/>
<path d="M423.50,103.00 C424.62,101.50 428.03,97.67 430.20,94.00 C432.37,90.33 434.32,85.92 436.50,81.00 C438.68,76.08 441.05,69.08 443.30,64.50 C445.55,59.92 447.77,56.17 450.00,53.50 C452.23,50.83 454.45,49.67 456.70,48.50 C458.95,47.33 461.25,46.93 463.50,46.50 C465.75,46.07 467.97,46.05 470.20,45.90 C472.43,45.75 474.60,45.67 476.90,45.60 C479.20,45.53 482.82,45.52 484.00,45.50" fill="none" stroke="#1f4f8c" stroke-width="1.25"/>
<line x1="423.50" y1="38.00" x2="423.50" y2="53.50" stroke="#c8102e" stroke-width="0.9"/>
<line x1="422.00" y1="38.00" x2="425.00" y2="38.00" stroke="#c8102e" stroke-width="0.9"/>
<line x1="422.00" y1="53.50" x2="425.00" y2="53.50" stroke="#c8102e" stroke-width="0.9"/>
<line x1="430.20" y1="47.50" x2="430.20" y2="54.50" stroke="#c8102e" stroke-width="0.9"/>
<line x1="428.70" y1="47.50" x2="431.70" y2="47.50" stroke="#c8102e" stroke-width="0.9"/>
<line x1="428.70" y1="54.50" x2="431.70" y2="54.50" stroke="#c8102e" stroke-width="0.9"/>
<line x1="436.50" y1="57.50" x2="436.50" y2="63.50" stroke="#c8102e" stroke-width="0.9"/>
<line x1="435.00" y1="57.50" x2="438.00" y2="57.50" stroke="#c8102e" stroke-width="0.9"/>
<line x1="435.00" y1="63.50" x2="438.00" y2="63.50" stroke="#c8102e" stroke-width="0.9"/>
<line x1="450.00" y1="77.50" x2="450.00" y2="87.50" stroke="#c8102e" stroke-width="0.9"/>
<line x1="448.50" y1="77.50" x2="451.50" y2="77.50" stroke="#c8102e" stroke-width="0.9"/>
<line x1="448.50" y1="87.50" x2="451.50" y2="87.50" stroke="#c8102e" stroke-width="0.9"/>
<line x1="456.70" y1="89.00" x2="456.70" y2="93.50" stroke="#c8102e" stroke-width="0.9"/>
<line x1="455.20" y1="89.00" x2="458.20" y2="89.00" stroke="#c8102e" stroke-width="0.9"/>
<line x1="455.20" y1="93.50" x2="458.20" y2="93.50" stroke="#c8102e" stroke-width="0.9"/>
<line x1="423.50" y1="99.00" x2="423.50" y2="104.00" stroke="#1f4f8c" stroke-width="0.9"/>
<line x1="422.00" y1="99.00" x2="425.00" y2="99.00" stroke="#1f4f8c" stroke-width="0.9"/>
<line x1="422.00" y1="104.00" x2="425.00" y2="104.00" stroke="#1f4f8c" stroke-width="0.9"/>
<line x1="430.20" y1="91.50" x2="430.20" y2="99.00" stroke="#1f4f8c" stroke-width="0.9"/>
<line x1="428.70" y1="91.50" x2="431.70" y2="91.50" stroke="#1f4f8c" stroke-width="0.9"/>
<line x1="428.70" y1="99.00" x2="431.70" y2="99.00" stroke="#1f4f8c" stroke-width="0.9"/>
<line x1="436.50" y1="78.50" x2="436.50" y2="83.00" stroke="#1f4f8c" stroke-width="0.9"/>
<line x1="435.00" y1="78.50" x2="438.00" y2="78.50" stroke="#1f4f8c" stroke-width="0.9"/>
<line x1="435.00" y1="83.00" x2="438.00" y2="83.00" stroke="#1f4f8c" stroke-width="0.9"/>
<line x1="443.30" y1="60.50" x2="443.30" y2="66.50" stroke="#1f4f8c" stroke-width="0.9"/>
<line x1="441.80" y1="60.50" x2="444.80" y2="60.50" stroke="#1f4f8c" stroke-width="0.9"/>
<line x1="441.80" y1="66.50" x2="444.80" y2="66.50" stroke="#1f4f8c" stroke-width="0.9"/>
<line x1="450.00" y1="46.50" x2="450.00" y2="53.50" stroke="#1f4f8c" stroke-width="0.9"/>
<line x1="448.50" y1="46.50" x2="451.50" y2="46.50" stroke="#1f4f8c" stroke-width="0.9"/>
<line x1="448.50" y1="53.50" x2="451.50" y2="53.50" stroke="#1f4f8c" stroke-width="0.9"/>
<line x1="456.70" y1="46.50" x2="456.70" y2="52.50" stroke="#1f4f8c" stroke-width="0.9"/>
<line x1="455.20" y1="46.50" x2="458.20" y2="46.50" stroke="#1f4f8c" stroke-width="0.9"/>
<line x1="455.20" y1="52.50" x2="458.20" y2="52.50" stroke="#1f4f8c" stroke-width="0.9"/>
<line x1="463.50" y1="42.50" x2="463.50" y2="48.00" stroke="#1f4f8c" stroke-width="0.9"/>
<line x1="462.00" y1="42.50" x2="465.00" y2="42.50" stroke="#1f4f8c" stroke-width="0.9"/>
<line x1="462.00" y1="48.00" x2="465.00" y2="48.00" stroke="#1f4f8c" stroke-width="0.9"/>
<line x1="476.90" y1="48.50" x2="476.90" y2="52.70" stroke="#1f4f8c" stroke-width="0.9"/>
<line x1="475.40" y1="48.50" x2="478.40" y2="48.50" stroke="#1f4f8c" stroke-width="0.9"/>
<line x1="475.40" y1="52.70" x2="478.40" y2="52.70" stroke="#1f4f8c" stroke-width="0.9"/>
<line x1="483.30" y1="52.00" x2="483.30" y2="57.50" stroke="#1f4f8c" stroke-width="0.9"/>
<line x1="481.80" y1="52.00" x2="484.80" y2="52.00" stroke="#1f4f8c" stroke-width="0.9"/>
<line x1="481.80" y1="57.50" x2="484.80" y2="57.50" stroke="#1f4f8c" stroke-width="0.9"/>
<circle cx="416.30" cy="45.60" r="1.75" fill="#c8102e"/>
<circle cx="423.50" cy="45.80" r="1.75" fill="#c8102e"/>
<circle cx="430.20" cy="51.00" r="1.75" fill="#c8102e"/>
<circle cx="436.50" cy="60.60" r="1.75" fill="#c8102e"/>
<circle cx="443.30" cy="71.20" r="1.75" fill="#c8102e"/>
<circle cx="450.00" cy="82.70" r="1.75" fill="#c8102e"/>
<circle cx="456.70" cy="91.30" r="1.75" fill="#c8102e"/>
<circle cx="463.50" cy="100.60" r="1.75" fill="#c8102e"/>
<circle cx="470.20" cy="104.80" r="1.75" fill="#c8102e"/>
<circle cx="476.90" cy="106.70" r="1.75" fill="#c8102e"/>
<circle cx="483.30" cy="108.10" r="1.75" fill="#c8102e"/>
<circle cx="416.30" cy="109.60" r="1.75" fill="#1f4f8c"/>
<circle cx="423.50" cy="101.50" r="1.75" fill="#1f4f8c"/>
<circle cx="430.20" cy="95.20" r="1.75" fill="#1f4f8c"/>
<circle cx="436.50" cy="80.80" r="1.75" fill="#1f4f8c"/>
<circle cx="443.30" cy="63.50" r="1.75" fill="#1f4f8c"/>
<circle cx="450.00" cy="50.00" r="1.75" fill="#1f4f8c"/>
<circle cx="456.70" cy="49.40" r="1.75" fill="#1f4f8c"/>
<circle cx="463.50" cy="45.20" r="1.75" fill="#1f4f8c"/>
<circle cx="470.20" cy="48.10" r="1.75" fill="#1f4f8c"/>
<circle cx="476.90" cy="50.60" r="1.75" fill="#1f4f8c"/>
<circle cx="483.30" cy="54.80" r="1.75" fill="#1f4f8c"/>
<line x1="416.30" y1="45.60" x2="419.30" y2="46.80" stroke="#c8102e" stroke-width="1.0"/>
<line x1="418.80" y1="109.60" x2="419.80" y2="109.60" stroke="#1f4f8c" stroke-width="1.0"/>
<line x1="436.50" y1="36.30" x2="441.50" y2="36.30" stroke="#c8102e" stroke-width="0.8"/>
<path d="M437.20,36.3 L439.00,34.5 L440.80,36.3 L439.00,38.1 Z" fill="#c8102e"/>
<text x="444.50" y="38.60" font-size="6.3" text-anchor="start" fill="#262626" textLength="12.20" lengthAdjust="spacingAndGlyphs">CTG</text>
<line x1="462.50" y1="36.30" x2="467.50" y2="36.30" stroke="#1f4f8c" stroke-width="0.8"/>
<path d="M463.20,36.3 L465.00,34.5 L466.80,36.3 L465.00,38.1 Z" fill="#1f4f8c"/>
<text x="470.00" y="38.60" font-size="6.3" text-anchor="start" fill="#262626" textLength="13.00" lengthAdjust="spacingAndGlyphs">C3/7</text>
<text x="245.70" y="71.80" font-size="8.8" text-anchor="middle" fill="#262626" textLength="32.40" lengthAdjust="spacingAndGlyphs" transform="rotate(-90 245.70 71.80)" class="rt">Viability, %</text>
<text x="389.20" y="72.00" font-size="8.8" text-anchor="middle" fill="#262626" textLength="32.20" lengthAdjust="spacingAndGlyphs" transform="rotate(-90 389.20 72.00)" class="rt">Viability, %</text>
<text x="371.00" y="73.00" font-size="8.8" text-anchor="middle" fill="#262626" textLength="97.00" lengthAdjust="spacingAndGlyphs" transform="rotate(-90 371.00 73.00)" class="rt">Caspase-3/7 activity, fold change</text>
<text x="510.60" y="73.00" font-size="8.8" text-anchor="middle" fill="#262626" textLength="95.50" lengthAdjust="spacingAndGlyphs" transform="rotate(-90 510.60 73.00)" class="rt">Caspase-3/7 activity, fold change</text>
<text x="314.80" y="138.80" font-size="8.6" text-anchor="middle" fill="#262626" textLength="30.80" lengthAdjust="spacingAndGlyphs">Eftoza, nM</text>
<text x="314.80" y="148.50" font-size="8.6" text-anchor="middle" fill="#262626" textLength="55.70" lengthAdjust="spacingAndGlyphs">24 hr of treatment</text>
<text x="451.20" y="138.80" font-size="8.6" text-anchor="middle" fill="#262626" textLength="30.80" lengthAdjust="spacingAndGlyphs">Eftoza, nM</text>
<text x="450.80" y="148.50" font-size="8.6" text-anchor="middle" fill="#262626" textLength="55.70" lengthAdjust="spacingAndGlyphs">24 hr of treatment</text>
<text x="7.20" y="164.40" font-size="11.5" text-anchor="start" fill="#111" font-weight="bold">C</text>
<line x1="44.50" y1="182.50" x2="44.50" y2="262.00" stroke="#2a2a2a" stroke-width="1.3"/>
<line x1="42.00" y1="260.30" x2="44.50" y2="260.30" stroke="#2a2a2a" stroke-width="1.1"/>
<text x="38.20" y="262.80" font-size="7" text-anchor="end" fill="#262626">0</text>
<line x1="42.00" y1="247.43" x2="44.50" y2="247.43" stroke="#2a2a2a" stroke-width="1.1"/>
<text x="38.20" y="249.93" font-size="7" text-anchor="end" fill="#262626">20</text>
<line x1="42.00" y1="234.56" x2="44.50" y2="234.56" stroke="#2a2a2a" stroke-width="1.1"/>
<text x="38.20" y="237.06" font-size="7" text-anchor="end" fill="#262626">40</text>
<line x1="42.00" y1="221.69" x2="44.50" y2="221.69" stroke="#2a2a2a" stroke-width="1.1"/>
<text x="38.20" y="224.19" font-size="7" text-anchor="end" fill="#262626">60</text>
<line x1="42.00" y1="208.82" x2="44.50" y2="208.82" stroke="#2a2a2a" stroke-width="1.1"/>
<text x="38.20" y="211.32" font-size="7" text-anchor="end" fill="#262626">80</text>
<line x1="42.00" y1="195.95" x2="44.50" y2="195.95" stroke="#2a2a2a" stroke-width="1.1"/>
<text x="38.20" y="198.45" font-size="7" text-anchor="end" fill="#262626">100</text>
<line x1="42.00" y1="183.08" x2="44.50" y2="183.08" stroke="#2a2a2a" stroke-width="1.1"/>
<text x="38.20" y="185.58" font-size="7" text-anchor="end" fill="#262626">120</text>
<line x1="167.50" y1="182.50" x2="167.50" y2="262.00" stroke="#2a2a2a" stroke-width="1.3"/>
<line x1="165.00" y1="260.30" x2="167.50" y2="260.30" stroke="#2a2a2a" stroke-width="1.1"/>
<text x="161.20" y="262.80" font-size="7" text-anchor="end" fill="#262626">0</text>
<line x1="165.00" y1="247.43" x2="167.50" y2="247.43" stroke="#2a2a2a" stroke-width="1.1"/>
<text x="161.20" y="249.93" font-size="7" text-anchor="end" fill="#262626">20</text>
<line x1="165.00" y1="234.56" x2="167.50" y2="234.56" stroke="#2a2a2a" stroke-width="1.1"/>
<text x="161.20" y="237.06" font-size="7" text-anchor="end" fill="#262626">40</text>
<line x1="165.00" y1="221.69" x2="167.50" y2="221.69" stroke="#2a2a2a" stroke-width="1.1"/>
<text x="161.20" y="224.19" font-size="7" text-anchor="end" fill="#262626">60</text>
<line x1="165.00" y1="208.82" x2="167.50" y2="208.82" stroke="#2a2a2a" stroke-width="1.1"/>
<text x="161.20" y="211.32" font-size="7" text-anchor="end" fill="#262626">80</text>
<line x1="165.00" y1="195.95" x2="167.50" y2="195.95" stroke="#2a2a2a" stroke-width="1.1"/>
<text x="161.20" y="198.45" font-size="7" text-anchor="end" fill="#262626">100</text>
<line x1="165.00" y1="183.08" x2="167.50" y2="183.08" stroke="#2a2a2a" stroke-width="1.1"/>
<text x="161.20" y="185.58" font-size="7" text-anchor="end" fill="#262626">120</text>
<text x="81.00" y="175.90" font-size="8.8" text-anchor="middle" fill="#262626" textLength="25.50" lengthAdjust="spacingAndGlyphs" stroke="#262626" stroke-width="0.25">SKM-1</text>
<text x="209.40" y="176.00" font-size="8.8" text-anchor="middle" fill="#262626" textLength="41.20" lengthAdjust="spacingAndGlyphs" stroke="#262626" stroke-width="0.25">OCI-AML2</text>
<text x="22.10" y="222.50" font-size="8.8" text-anchor="middle" fill="#262626" textLength="33.00" lengthAdjust="spacingAndGlyphs" transform="rotate(-90 22.10 222.50)" class="rt">Viability, %</text>
<text x="144.90" y="222.50" font-size="8.8" text-anchor="middle" fill="#262626" textLength="33.00" lengthAdjust="spacingAndGlyphs" transform="rotate(-90 144.90 222.50)" class="rt">Viability, %</text>
<line x1="46.00" y1="265.50" x2="53.80" y2="265.50" stroke="#2a2a2a" stroke-width="1.3"/>
<line x1="56.40" y1="265.50" x2="125.60" y2="265.50" stroke="#2a2a2a" stroke-width="1.3"/>
<line x1="50.40" y1="265.00" x2="50.40" y2="267.50" stroke="#2a2a2a" stroke-width="1.1"/>
<text x="49.30" y="276.50" font-size="6.8" text-anchor="middle" fill="#262626">10<tspan font-size="4.22" dy="-2.6">-4</tspan></text>
<line x1="64.20" y1="265.00" x2="64.20" y2="267.50" stroke="#2a2a2a" stroke-width="1.1"/>
<text x="65.20" y="276.50" font-size="6.8" text-anchor="middle" fill="#262626">10<tspan font-size="4.22" dy="-2.6">-3</tspan></text>
<line x1="58.23" y1="265.00" x2="58.23" y2="266.60" stroke="#2a2a2a" stroke-width="0.8"/>
<line x1="59.68" y1="265.00" x2="59.68" y2="266.60" stroke="#2a2a2a" stroke-width="0.8"/>
<line x1="60.87" y1="265.00" x2="60.87" y2="266.60" stroke="#2a2a2a" stroke-width="0.8"/>
<line x1="61.88" y1="265.00" x2="61.88" y2="266.60" stroke="#2a2a2a" stroke-width="0.8"/>
<line x1="62.75" y1="265.00" x2="62.75" y2="266.60" stroke="#2a2a2a" stroke-width="0.8"/>
<line x1="63.51" y1="265.00" x2="63.51" y2="266.60" stroke="#2a2a2a" stroke-width="0.8"/>
<line x1="78.90" y1="265.00" x2="78.90" y2="267.50" stroke="#2a2a2a" stroke-width="1.1"/>
<text x="79.90" y="276.50" font-size="6.8" text-anchor="middle" fill="#262626">10<tspan font-size="4.22" dy="-2.6">-2</tspan></text>
<line x1="68.42" y1="265.00" x2="68.42" y2="266.60" stroke="#2a2a2a" stroke-width="0.8"/>
<line x1="71.06" y1="265.00" x2="71.06" y2="266.60" stroke="#2a2a2a" stroke-width="0.8"/>
<line x1="72.93" y1="265.00" x2="72.93" y2="266.60" stroke="#2a2a2a" stroke-width="0.8"/>
<line x1="74.38" y1="265.00" x2="74.38" y2="266.60" stroke="#2a2a2a" stroke-width="0.8"/>
<line x1="75.57" y1="265.00" x2="75.57" y2="266.60" stroke="#2a2a2a" stroke-width="0.8"/>
<line x1="76.58" y1="265.00" x2="76.58" y2="266.60" stroke="#2a2a2a" stroke-width="0.8"/>
<line x1="77.45" y1="265.00" x2="77.45" y2="266.60" stroke="#2a2a2a" stroke-width="0.8"/>
<line x1="78.21" y1="265.00" x2="78.21" y2="266.60" stroke="#2a2a2a" stroke-width="0.8"/>
<line x1="94.00" y1="265.00" x2="94.00" y2="267.50" stroke="#2a2a2a" stroke-width="1.1"/>
<text x="95.00" y="276.50" font-size="6.8" text-anchor="middle" fill="#262626">10<tspan font-size="4.22" dy="-2.6">-1</tspan></text>
<line x1="83.52" y1="265.00" x2="83.52" y2="266.60" stroke="#2a2a2a" stroke-width="0.8"/>
<line x1="86.16" y1="265.00" x2="86.16" y2="266.60" stroke="#2a2a2a" stroke-width="0.8"/>
<line x1="88.03" y1="265.00" x2="88.03" y2="266.60" stroke="#2a2a2a" stroke-width="0.8"/>
<line x1="89.48" y1="265.00" x2="89.48" y2="266.60" stroke="#2a2a2a" stroke-width="0.8"/>
<line x1="90.67" y1="265.00" x2="90.67" y2="266.60" stroke="#2a2a2a" stroke-width="0.8"/>
<line x1="91.68" y1="265.00" x2="91.68" y2="266.60" stroke="#2a2a2a" stroke-width="0.8"/>
<line x1="92.55" y1="265.00" x2="92.55" y2="266.60" stroke="#2a2a2a" stroke-width="0.8"/>
<line x1="93.31" y1="265.00" x2="93.31" y2="266.60" stroke="#2a2a2a" stroke-width="0.8"/>
<line x1="107.90" y1="265.00" x2="107.90" y2="267.50" stroke="#2a2a2a" stroke-width="1.1"/>
<text x="108.90" y="276.50" font-size="6.8" text-anchor="middle" fill="#262626">10<tspan font-size="4.22" dy="-2.6">0</tspan></text>
<line x1="97.42" y1="265.00" x2="97.42" y2="266.60" stroke="#2a2a2a" stroke-width="0.8"/>
<line x1="100.06" y1="265.00" x2="100.06" y2="266.60" stroke="#2a2a2a" stroke-width="0.8"/>
<line x1="101.93" y1="265.00" x2="101.93" y2="266.60" stroke="#2a2a2a" stroke-width="0.8"/>
<line x1="103.38" y1="265.00" x2="103.38" y2="266.60" stroke="#2a2a2a" stroke-width="0.8"/>
<line x1="104.57" y1="265.00" x2="104.57" y2="266.60" stroke="#2a2a2a" stroke-width="0.8"/>
<line x1="105.58" y1="265.00" x2="105.58" y2="266.60" stroke="#2a2a2a" stroke-width="0.8"/>
<line x1="106.45" y1="265.00" x2="106.45" y2="266.60" stroke="#2a2a2a" stroke-width="0.8"/>
<line x1="107.21" y1="265.00" x2="107.21" y2="266.60" stroke="#2a2a2a" stroke-width="0.8"/>
<line x1="122.10" y1="265.00" x2="122.10" y2="267.50" stroke="#2a2a2a" stroke-width="1.1"/>
<text x="123.10" y="276.50" font-size="6.8" text-anchor="middle" fill="#262626">10<tspan font-size="4.22" dy="-2.6">1</tspan></text>
<line x1="111.62" y1="265.00" x2="111.62" y2="266.60" stroke="#2a2a2a" stroke-width="0.8"/>
<line x1="114.26" y1="265.00" x2="114.26" y2="266.60" stroke="#2a2a2a" stroke-width="0.8"/>
<line x1="116.13" y1="265.00" x2="116.13" y2="266.60" stroke="#2a2a2a" stroke-width="0.8"/>
<line x1="117.58" y1="265.00" x2="117.58" y2="266.60" stroke="#2a2a2a" stroke-width="0.8"/>
<line x1="118.77" y1="265.00" x2="118.77" y2="266.60" stroke="#2a2a2a" stroke-width="0.8"/>
<line x1="119.78" y1="265.00" x2="119.78" y2="266.60" stroke="#2a2a2a" stroke-width="0.8"/>
<line x1="120.65" y1="265.00" x2="120.65" y2="266.60" stroke="#2a2a2a" stroke-width="0.8"/>
<line x1="121.41" y1="265.00" x2="121.41" y2="266.60" stroke="#2a2a2a" stroke-width="0.8"/>
<text x="84.50" y="289.60" font-size="8.6" text-anchor="middle" fill="#262626" textLength="30.00" lengthAdjust="spacingAndGlyphs">Eftoza, nM</text>
<text x="84.90" y="299.50" font-size="8.6" text-anchor="middle" fill="#262626" textLength="55.70" lengthAdjust="spacingAndGlyphs">24 hr of treatment</text>
<path d="M51.25,196.25 C52.71,196.79 57.79,198.46 60.00,199.50 C62.21,200.54 62.92,200.75 64.50,202.50 C66.08,204.25 67.96,206.92 69.50,210.00 C71.04,213.08 72.33,217.08 73.75,221.00 C75.17,224.92 76.62,229.67 78.00,233.50 C79.38,237.33 80.62,241.08 82.00,244.00 C83.38,246.92 84.83,249.17 86.25,251.00 C87.67,252.83 89.12,253.92 90.50,255.00 C91.88,256.08 93.83,257.08 94.50,257.50" fill="none" stroke="#4e225f" stroke-width="1.25"/>
<path d="M51.25,196.25 C52.83,196.46 58.46,197.50 60.75,197.50 C63.04,197.50 63.58,196.38 65.00,196.25 C66.42,196.12 67.79,196.21 69.25,196.75 C70.71,197.29 72.29,198.62 73.75,199.50 C75.21,200.38 76.62,201.29 78.00,202.00 C79.38,202.71 80.62,203.17 82.00,203.75 C83.38,204.33 84.83,204.46 86.25,205.50 C87.67,206.54 89.12,208.21 90.50,210.00 C91.88,211.79 93.83,215.21 94.50,216.25" fill="none" stroke="#34a634" stroke-width="1.25"/>
<line x1="60.75" y1="195.00" x2="60.75" y2="200.00" stroke="#34a634" stroke-width="0.9"/>
<line x1="59.35" y1="195.00" x2="62.15" y2="195.00" stroke="#34a634" stroke-width="0.9"/>
<line x1="59.35" y1="200.00" x2="62.15" y2="200.00" stroke="#34a634" stroke-width="0.9"/>
<line x1="65.00" y1="193.75" x2="65.00" y2="198.75" stroke="#34a634" stroke-width="0.9"/>
<line x1="63.60" y1="193.75" x2="66.40" y2="193.75" stroke="#34a634" stroke-width="0.9"/>
<line x1="63.60" y1="198.75" x2="66.40" y2="198.75" stroke="#34a634" stroke-width="0.9"/>
<line x1="69.25" y1="194.25" x2="69.25" y2="199.25" stroke="#34a634" stroke-width="0.9"/>
<line x1="67.85" y1="194.25" x2="70.65" y2="194.25" stroke="#34a634" stroke-width="0.9"/>
<line x1="67.85" y1="199.25" x2="70.65" y2="199.25" stroke="#34a634" stroke-width="0.9"/>
<line x1="73.75" y1="197.00" x2="73.75" y2="202.00" stroke="#34a634" stroke-width="0.9"/>
<line x1="72.35" y1="197.00" x2="75.15" y2="197.00" stroke="#34a634" stroke-width="0.9"/>
<line x1="72.35" y1="202.00" x2="75.15" y2="202.00" stroke="#34a634" stroke-width="0.9"/>
<line x1="78.00" y1="199.50" x2="78.00" y2="204.50" stroke="#34a634" stroke-width="0.9"/>
<line x1="76.60" y1="199.50" x2="79.40" y2="199.50" stroke="#34a634" stroke-width="0.9"/>
<line x1="76.60" y1="204.50" x2="79.40" y2="204.50" stroke="#34a634" stroke-width="0.9"/>
<line x1="82.00" y1="201.25" x2="82.00" y2="206.25" stroke="#34a634" stroke-width="0.9"/>
<line x1="80.60" y1="201.25" x2="83.40" y2="201.25" stroke="#34a634" stroke-width="0.9"/>
<line x1="80.60" y1="206.25" x2="83.40" y2="206.25" stroke="#34a634" stroke-width="0.9"/>
<line x1="86.25" y1="203.00" x2="86.25" y2="208.00" stroke="#34a634" stroke-width="0.9"/>
<line x1="84.85" y1="203.00" x2="87.65" y2="203.00" stroke="#34a634" stroke-width="0.9"/>
<line x1="84.85" y1="208.00" x2="87.65" y2="208.00" stroke="#34a634" stroke-width="0.9"/>
<line x1="90.50" y1="207.50" x2="90.50" y2="212.50" stroke="#34a634" stroke-width="0.9"/>
<line x1="89.10" y1="207.50" x2="91.90" y2="207.50" stroke="#34a634" stroke-width="0.9"/>
<line x1="89.10" y1="212.50" x2="91.90" y2="212.50" stroke="#34a634" stroke-width="0.9"/>
<line x1="94.50" y1="213.75" x2="94.50" y2="218.75" stroke="#34a634" stroke-width="0.9"/>
<line x1="93.10" y1="213.75" x2="95.90" y2="213.75" stroke="#34a634" stroke-width="0.9"/>
<line x1="93.10" y1="218.75" x2="95.90" y2="218.75" stroke="#34a634" stroke-width="0.9"/>
<line x1="60.00" y1="198.45" x2="60.00" y2="204.05" stroke="#4e225f" stroke-width="0.9"/>
<line x1="58.60" y1="198.45" x2="61.40" y2="198.45" stroke="#4e225f" stroke-width="0.9"/>
<line x1="58.60" y1="204.05" x2="61.40" y2="204.05" stroke="#4e225f" stroke-width="0.9"/>
<line x1="64.50" y1="199.70" x2="64.50" y2="205.30" stroke="#4e225f" stroke-width="0.9"/>
<line x1="63.10" y1="199.70" x2="65.90" y2="199.70" stroke="#4e225f" stroke-width="0.9"/>
<line x1="63.10" y1="205.30" x2="65.90" y2="205.30" stroke="#4e225f" stroke-width="0.9"/>
<line x1="69.50" y1="206.45" x2="69.50" y2="212.05" stroke="#4e225f" stroke-width="0.9"/>
<line x1="68.10" y1="206.45" x2="70.90" y2="206.45" stroke="#4e225f" stroke-width="0.9"/>
<line x1="68.10" y1="212.05" x2="70.90" y2="212.05" stroke="#4e225f" stroke-width="0.9"/>
<line x1="73.75" y1="218.95" x2="73.75" y2="224.55" stroke="#4e225f" stroke-width="0.9"/>
<line x1="72.35" y1="218.95" x2="75.15" y2="218.95" stroke="#4e225f" stroke-width="0.9"/>
<line x1="72.35" y1="224.55" x2="75.15" y2="224.55" stroke="#4e225f" stroke-width="0.9"/>
<line x1="78.00" y1="229.70" x2="78.00" y2="235.30" stroke="#4e225f" stroke-width="0.9"/>
<line x1="76.60" y1="229.70" x2="79.40" y2="229.70" stroke="#4e225f" stroke-width="0.9"/>
<line x1="76.60" y1="235.30" x2="79.40" y2="235.30" stroke="#4e225f" stroke-width="0.9"/>
<line x1="82.00" y1="242.20" x2="82.00" y2="247.80" stroke="#4e225f" stroke-width="0.9"/>
<line x1="80.60" y1="242.20" x2="83.40" y2="242.20" stroke="#4e225f" stroke-width="0.9"/>
<line x1="80.60" y1="247.80" x2="83.40" y2="247.80" stroke="#4e225f" stroke-width="0.9"/>
<circle cx="51.25" cy="196.25" r="1.65" fill="#34a634"/>
<circle cx="60.75" cy="197.50" r="1.65" fill="#34a634"/>
<circle cx="65.00" cy="196.25" r="1.65" fill="#34a634"/>
<circle cx="69.25" cy="196.75" r="1.65" fill="#34a634"/>
<circle cx="73.75" cy="199.50" r="1.65" fill="#34a634"/>
<circle cx="78.00" cy="202.00" r="1.65" fill="#34a634"/>
<circle cx="82.00" cy="203.75" r="1.65" fill="#34a634"/>
<circle cx="86.25" cy="205.50" r="1.65" fill="#34a634"/>
<circle cx="90.50" cy="210.00" r="1.65" fill="#34a634"/>
<circle cx="94.50" cy="216.25" r="1.65" fill="#34a634"/>
<circle cx="51.25" cy="196.25" r="1.65" fill="#4e225f"/>
<circle cx="60.00" cy="201.25" r="1.65" fill="#4e225f"/>
<circle cx="64.50" cy="202.50" r="1.65" fill="#4e225f"/>
<circle cx="69.50" cy="209.25" r="1.65" fill="#4e225f"/>
<circle cx="73.75" cy="221.75" r="1.65" fill="#4e225f"/>
<circle cx="78.00" cy="232.50" r="1.65" fill="#4e225f"/>
<circle cx="82.00" cy="245.00" r="1.65" fill="#4e225f"/>
<circle cx="86.25" cy="251.25" r="1.65" fill="#4e225f"/>
<circle cx="90.50" cy="255.00" r="1.65" fill="#4e225f"/>
<circle cx="94.50" cy="257.50" r="1.65" fill="#4e225f"/>
<line x1="78.00" y1="185.70" x2="84.50" y2="185.70" stroke="#4e225f" stroke-width="1.0"/>
<path d="M79.25,185.70 L81.25,183.70 L83.25,185.70 L81.25,187.70 Z" fill="#4e225f"/>
<text x="88.70" y="188.10" font-size="6.3" text-anchor="start" fill="#262626" textLength="27.50" lengthAdjust="spacingAndGlyphs">0 μM zvad</text>
<line x1="78.00" y1="194.20" x2="84.50" y2="194.20" stroke="#34a634" stroke-width="1.0"/>
<path d="M79.25,194.20 L81.25,192.20 L83.25,194.20 L81.25,196.20 Z" fill="#34a634"/>
<text x="88.70" y="196.60" font-size="6.3" text-anchor="start" fill="#262626" textLength="31.30" lengthAdjust="spacingAndGlyphs">20 μM zvad</text>
<line x1="169.80" y1="265.50" x2="176.80" y2="265.50" stroke="#2a2a2a" stroke-width="1.3"/>
<line x1="180.60" y1="265.50" x2="250.60" y2="265.50" stroke="#2a2a2a" stroke-width="1.3"/>
<line x1="173.00" y1="265.00" x2="173.00" y2="267.50" stroke="#2a2a2a" stroke-width="1.1"/>
<text x="173.00" y="276.50" font-size="7" text-anchor="middle" fill="#262626">0</text>
<line x1="197.80" y1="265.00" x2="197.80" y2="267.50" stroke="#2a2a2a" stroke-width="1.1"/>
<text x="198.80" y="276.50" font-size="6.8" text-anchor="middle" fill="#262626">10<tspan font-size="4.22" dy="-2.6">-1</tspan></text>
<line x1="222.70" y1="265.00" x2="222.70" y2="267.50" stroke="#2a2a2a" stroke-width="1.1"/>
<text x="223.70" y="276.50" font-size="6.8" text-anchor="middle" fill="#262626">10<tspan font-size="4.22" dy="-2.6">0</tspan></text>
<line x1="246.50" y1="265.00" x2="246.50" y2="267.50" stroke="#2a2a2a" stroke-width="1.1"/>
<text x="247.50" y="276.50" font-size="6.8" text-anchor="middle" fill="#262626">10<tspan font-size="4.22" dy="-2.6">1</tspan></text>
<line x1="184.03" y1="265.00" x2="184.03" y2="266.60" stroke="#2a2a2a" stroke-width="0.8"/>
<line x1="187.13" y1="265.00" x2="187.13" y2="266.60" stroke="#2a2a2a" stroke-width="0.8"/>
<line x1="189.53" y1="265.00" x2="189.53" y2="266.60" stroke="#2a2a2a" stroke-width="0.8"/>
<line x1="191.50" y1="265.00" x2="191.50" y2="266.60" stroke="#2a2a2a" stroke-width="0.8"/>
<line x1="193.16" y1="265.00" x2="193.16" y2="266.60" stroke="#2a2a2a" stroke-width="0.8"/>
<line x1="194.60" y1="265.00" x2="194.60" y2="266.60" stroke="#2a2a2a" stroke-width="0.8"/>
<line x1="195.87" y1="265.00" x2="195.87" y2="266.60" stroke="#2a2a2a" stroke-width="0.8"/>
<line x1="204.47" y1="265.00" x2="204.47" y2="266.60" stroke="#2a2a2a" stroke-width="0.8"/>
<line x1="208.83" y1="265.00" x2="208.83" y2="266.60" stroke="#2a2a2a" stroke-width="0.8"/>
<line x1="211.93" y1="265.00" x2="211.93" y2="266.60" stroke="#2a2a2a" stroke-width="0.8"/>
<line x1="214.33" y1="265.00" x2="214.33" y2="266.60" stroke="#2a2a2a" stroke-width="0.8"/>
<line x1="216.30" y1="265.00" x2="216.30" y2="266.60" stroke="#2a2a2a" stroke-width="0.8"/>
<line x1="217.96" y1="265.00" x2="217.96" y2="266.60" stroke="#2a2a2a" stroke-width="0.8"/>
<line x1="219.40" y1="265.00" x2="219.40" y2="266.60" stroke="#2a2a2a" stroke-width="0.8"/>
<line x1="220.67" y1="265.00" x2="220.67" y2="266.60" stroke="#2a2a2a" stroke-width="0.8"/>
<line x1="229.27" y1="265.00" x2="229.27" y2="266.60" stroke="#2a2a2a" stroke-width="0.8"/>
<line x1="233.63" y1="265.00" x2="233.63" y2="266.60" stroke="#2a2a2a" stroke-width="0.8"/>
<line x1="236.73" y1="265.00" x2="236.73" y2="266.60" stroke="#2a2a2a" stroke-width="0.8"/>
<line x1="239.13" y1="265.00" x2="239.13" y2="266.60" stroke="#2a2a2a" stroke-width="0.8"/>
<line x1="241.10" y1="265.00" x2="241.10" y2="266.60" stroke="#2a2a2a" stroke-width="0.8"/>
<line x1="242.76" y1="265.00" x2="242.76" y2="266.60" stroke="#2a2a2a" stroke-width="0.8"/>
<line x1="244.20" y1="265.00" x2="244.20" y2="266.60" stroke="#2a2a2a" stroke-width="0.8"/>
<line x1="245.47" y1="265.00" x2="245.47" y2="266.60" stroke="#2a2a2a" stroke-width="0.8"/>
<text x="210.50" y="289.60" font-size="8.6" text-anchor="middle" fill="#262626" textLength="30.00" lengthAdjust="spacingAndGlyphs">Eftoza, nM</text>
<text x="211.00" y="299.50" font-size="8.6" text-anchor="middle" fill="#262626" textLength="55.70" lengthAdjust="spacingAndGlyphs">24 hr of treatment</text>
<path d="M180.50,195.50 C181.75,195.58 185.50,195.75 188.00,196.00 C190.50,196.25 193.00,196.25 195.50,197.00 C198.00,197.75 200.58,198.58 203.00,200.50 C205.42,202.42 207.58,205.33 210.00,208.50 C212.42,211.67 215.00,215.75 217.50,219.50 C220.00,223.25 222.50,227.50 225.00,231.00 C227.50,234.50 230.00,237.75 232.50,240.50 C235.00,243.25 237.50,245.50 240.00,247.50 C242.50,249.50 246.25,251.67 247.50,252.50" fill="none" stroke="#4e225f" stroke-width="1.25"/>
<path d="M180.50,194.80 C181.75,194.80 185.50,194.80 188.00,194.80 C190.50,194.80 193.00,194.80 195.50,194.80 C198.00,194.80 200.58,194.77 203.00,194.80 C205.42,194.83 207.58,194.90 210.00,195.00 C212.42,195.10 215.00,195.20 217.50,195.40 C220.00,195.60 222.50,195.77 225.00,196.20 C227.50,196.63 230.00,197.03 232.50,198.00 C235.00,198.97 237.50,200.08 240.00,202.00 C242.50,203.92 246.25,208.25 247.50,209.50" fill="none" stroke="#34a634" stroke-width="1.25"/>
<line x1="180.50" y1="191.50" x2="180.50" y2="198.50" stroke="#4e225f" stroke-width="0.9"/>
<line x1="179.10" y1="191.50" x2="181.90" y2="191.50" stroke="#4e225f" stroke-width="0.9"/>
<line x1="179.10" y1="198.50" x2="181.90" y2="198.50" stroke="#4e225f" stroke-width="0.9"/>
<line x1="188.00" y1="196.50" x2="188.00" y2="203.50" stroke="#4e225f" stroke-width="0.9"/>
<line x1="186.60" y1="196.50" x2="189.40" y2="196.50" stroke="#4e225f" stroke-width="0.9"/>
<line x1="186.60" y1="203.50" x2="189.40" y2="203.50" stroke="#4e225f" stroke-width="0.9"/>
<line x1="195.50" y1="195.25" x2="195.50" y2="202.25" stroke="#4e225f" stroke-width="0.9"/>
<line x1="194.10" y1="195.25" x2="196.90" y2="195.25" stroke="#4e225f" stroke-width="0.9"/>
<line x1="194.10" y1="202.25" x2="196.90" y2="202.25" stroke="#4e225f" stroke-width="0.9"/>
<line x1="203.00" y1="196.00" x2="203.00" y2="203.00" stroke="#4e225f" stroke-width="0.9"/>
<line x1="201.60" y1="196.00" x2="204.40" y2="196.00" stroke="#4e225f" stroke-width="0.9"/>
<line x1="201.60" y1="203.00" x2="204.40" y2="203.00" stroke="#4e225f" stroke-width="0.9"/>
<line x1="210.00" y1="207.25" x2="210.00" y2="214.25" stroke="#4e225f" stroke-width="0.9"/>
<line x1="208.60" y1="207.25" x2="211.40" y2="207.25" stroke="#4e225f" stroke-width="0.9"/>
<line x1="208.60" y1="214.25" x2="211.40" y2="214.25" stroke="#4e225f" stroke-width="0.9"/>
<line x1="217.50" y1="220.25" x2="217.50" y2="227.25" stroke="#4e225f" stroke-width="0.9"/>
<line x1="216.10" y1="220.25" x2="218.90" y2="220.25" stroke="#4e225f" stroke-width="0.9"/>
<line x1="216.10" y1="227.25" x2="218.90" y2="227.25" stroke="#4e225f" stroke-width="0.9"/>
<line x1="225.00" y1="227.75" x2="225.00" y2="234.75" stroke="#4e225f" stroke-width="0.9"/>
<line x1="223.60" y1="227.75" x2="226.40" y2="227.75" stroke="#4e225f" stroke-width="0.9"/>
<line x1="223.60" y1="234.75" x2="226.40" y2="234.75" stroke="#4e225f" stroke-width="0.9"/>
<line x1="232.50" y1="237.00" x2="232.50" y2="244.00" stroke="#4e225f" stroke-width="0.9"/>
<line x1="231.10" y1="237.00" x2="233.90" y2="237.00" stroke="#4e225f" stroke-width="0.9"/>
<line x1="231.10" y1="244.00" x2="233.90" y2="244.00" stroke="#4e225f" stroke-width="0.9"/>
<line x1="240.00" y1="244.50" x2="240.00" y2="251.50" stroke="#4e225f" stroke-width="0.9"/>
<line x1="238.60" y1="244.50" x2="241.40" y2="244.50" stroke="#4e225f" stroke-width="0.9"/>
<line x1="238.60" y1="251.50" x2="241.40" y2="251.50" stroke="#4e225f" stroke-width="0.9"/>
<line x1="247.50" y1="249.50" x2="247.50" y2="256.50" stroke="#4e225f" stroke-width="0.9"/>
<line x1="246.10" y1="249.50" x2="248.90" y2="249.50" stroke="#4e225f" stroke-width="0.9"/>
<line x1="246.10" y1="256.50" x2="248.90" y2="256.50" stroke="#4e225f" stroke-width="0.9"/>
<line x1="180.50" y1="190.50" x2="180.50" y2="199.50" stroke="#34a634" stroke-width="0.9"/>
<line x1="179.10" y1="190.50" x2="181.90" y2="190.50" stroke="#34a634" stroke-width="0.9"/>
<line x1="179.10" y1="199.50" x2="181.90" y2="199.50" stroke="#34a634" stroke-width="0.9"/>
<line x1="195.50" y1="190.50" x2="195.50" y2="198.50" stroke="#34a634" stroke-width="0.9"/>
<line x1="194.10" y1="190.50" x2="196.90" y2="190.50" stroke="#34a634" stroke-width="0.9"/>
<line x1="194.10" y1="198.50" x2="196.90" y2="198.50" stroke="#34a634" stroke-width="0.9"/>
<line x1="203.00" y1="189.25" x2="203.00" y2="198.25" stroke="#34a634" stroke-width="0.9"/>
<line x1="201.60" y1="189.25" x2="204.40" y2="189.25" stroke="#34a634" stroke-width="0.9"/>
<line x1="201.60" y1="198.25" x2="204.40" y2="198.25" stroke="#34a634" stroke-width="0.9"/>
<line x1="217.50" y1="193.25" x2="217.50" y2="199.25" stroke="#34a634" stroke-width="0.9"/>
<line x1="216.10" y1="193.25" x2="218.90" y2="193.25" stroke="#34a634" stroke-width="0.9"/>
<line x1="216.10" y1="199.25" x2="218.90" y2="199.25" stroke="#34a634" stroke-width="0.9"/>
<line x1="225.00" y1="193.25" x2="225.00" y2="199.25" stroke="#34a634" stroke-width="0.9"/>
<line x1="223.60" y1="193.25" x2="226.40" y2="193.25" stroke="#34a634" stroke-width="0.9"/>
<line x1="223.60" y1="199.25" x2="226.40" y2="199.25" stroke="#34a634" stroke-width="0.9"/>
<circle cx="173.00" cy="196.75" r="1.65" fill="#34a634"/>
<circle cx="180.50" cy="195.00" r="1.65" fill="#34a634"/>
<circle cx="188.00" cy="195.00" r="1.65" fill="#34a634"/>
<circle cx="195.50" cy="194.50" r="1.65" fill="#34a634"/>
<circle cx="203.00" cy="193.75" r="1.65" fill="#34a634"/>
<circle cx="210.00" cy="195.00" r="1.65" fill="#34a634"/>
<circle cx="217.50" cy="196.25" r="1.65" fill="#34a634"/>
<circle cx="225.00" cy="196.25" r="1.65" fill="#34a634"/>
<circle cx="232.50" cy="197.50" r="1.65" fill="#34a634"/>
<circle cx="240.00" cy="201.75" r="1.65" fill="#34a634"/>
<circle cx="247.50" cy="209.50" r="1.65" fill="#34a634"/>
<circle cx="173.00" cy="196.75" r="1.65" fill="#4e225f"/>
<circle cx="180.50" cy="195.00" r="1.65" fill="#4e225f"/>
<circle cx="188.00" cy="200.00" r="1.65" fill="#4e225f"/>
<circle cx="195.50" cy="198.75" r="1.65" fill="#4e225f"/>
<circle cx="203.00" cy="199.50" r="1.65" fill="#4e225f"/>
<circle cx="210.00" cy="210.75" r="1.65" fill="#4e225f"/>
<circle cx="217.50" cy="223.75" r="1.65" fill="#4e225f"/>
<circle cx="225.00" cy="231.25" r="1.65" fill="#4e225f"/>
<circle cx="232.50" cy="240.50" r="1.65" fill="#4e225f"/>
<circle cx="240.00" cy="248.00" r="1.65" fill="#4e225f"/>
<circle cx="247.50" cy="253.00" r="1.65" fill="#4e225f"/>
<line x1="173.00" y1="196.75" x2="177.00" y2="196.50" stroke="#333" stroke-width="1.0"/>
<line x1="173.00" y1="248.00" x2="179.50" y2="248.00" stroke="#4e225f" stroke-width="1.0"/>
<path d="M174.25,248.00 L176.25,246.00 L178.25,248.00 L176.25,250.00 Z" fill="#4e225f"/>
<text x="182.50" y="250.40" font-size="6.3" text-anchor="start" fill="#262626" textLength="28.50" lengthAdjust="spacingAndGlyphs">0 μM zvad</text>
<line x1="173.00" y1="255.75" x2="179.50" y2="255.75" stroke="#34a634" stroke-width="1.0"/>
<path d="M174.25,255.75 L176.25,253.75 L178.25,255.75 L176.25,257.75 Z" fill="#34a634"/>
<text x="182.50" y="258.20" font-size="6.3" text-anchor="start" fill="#262626" textLength="31.30" lengthAdjust="spacingAndGlyphs">40 μM zvad</text>
<text x="266.20" y="163.20" font-size="11.5" text-anchor="start" fill="#111" font-weight="bold">D</text>
<text x="356.20" y="175.50" font-size="8.8" text-anchor="middle" fill="#262626" textLength="25.00" lengthAdjust="spacingAndGlyphs" stroke="#262626" stroke-width="0.25">SKM-1</text>
<line x1="311.50" y1="181.20" x2="311.50" y2="261.50" stroke="#2a2a2a" stroke-width="1.3"/>
<line x1="308.50" y1="259.20" x2="311.70" y2="259.20" stroke="#2a2a2a" stroke-width="1.1"/>
<text x="305.00" y="261.40" font-size="6.3" text-anchor="end" fill="#262626">0</text>
<line x1="308.50" y1="249.74" x2="311.70" y2="249.74" stroke="#2a2a2a" stroke-width="1.1"/>
<text x="305.00" y="251.94" font-size="6.3" text-anchor="end" fill="#262626">200</text>
<line x1="308.50" y1="240.28" x2="311.70" y2="240.28" stroke="#2a2a2a" stroke-width="1.1"/>
<text x="305.00" y="242.48" font-size="6.3" text-anchor="end" fill="#262626">400</text>
<line x1="308.50" y1="230.82" x2="311.70" y2="230.82" stroke="#2a2a2a" stroke-width="1.1"/>
<text x="305.00" y="233.02" font-size="6.3" text-anchor="end" fill="#262626">600</text>
<line x1="308.50" y1="221.36" x2="311.70" y2="221.36" stroke="#2a2a2a" stroke-width="1.1"/>
<text x="305.00" y="223.56" font-size="6.3" text-anchor="end" fill="#262626">800</text>
<line x1="308.50" y1="211.90" x2="311.70" y2="211.90" stroke="#2a2a2a" stroke-width="1.1"/>
<text x="305.00" y="214.10" font-size="6.3" text-anchor="end" fill="#262626">1000</text>
<line x1="308.50" y1="202.44" x2="311.70" y2="202.44" stroke="#2a2a2a" stroke-width="1.1"/>
<text x="305.00" y="204.64" font-size="6.3" text-anchor="end" fill="#262626">1200</text>
<line x1="308.50" y1="192.98" x2="311.70" y2="192.98" stroke="#2a2a2a" stroke-width="1.1"/>
<text x="305.00" y="195.18" font-size="6.3" text-anchor="end" fill="#262626">1400</text>
<line x1="308.50" y1="183.52" x2="311.70" y2="183.52" stroke="#2a2a2a" stroke-width="1.1"/>
<text x="305.00" y="185.72" font-size="6.3" text-anchor="end" fill="#262626">1600</text>
<text x="285.65" y="221.5" font-size="9.2" text-anchor="middle" fill="#262626" transform="rotate(-90 285.65 221.5)" textLength="62" lengthAdjust="spacingAndGlyphs">Tumor volume, mm<tspan font-size="5" dy="-3">3</tspan></text>
<line x1="313.50" y1="265.50" x2="402.00" y2="265.50" stroke="#2a2a2a" stroke-width="1.3"/>
<line x1="317.50" y1="265.50" x2="317.50" y2="268.00" stroke="#2a2a2a" stroke-width="1.1"/>
<text x="317.50" y="277.00" font-size="6.8" text-anchor="middle" fill="#262626">10</text>
<line x1="327.75" y1="265.50" x2="327.75" y2="268.00" stroke="#2a2a2a" stroke-width="1.1"/>
<text x="327.75" y="277.00" font-size="6.8" text-anchor="middle" fill="#262626">20</text>
<line x1="338.00" y1="265.50" x2="338.00" y2="268.00" stroke="#2a2a2a" stroke-width="1.1"/>
<text x="338.00" y="277.00" font-size="6.8" text-anchor="middle" fill="#262626">30</text>
<line x1="348.25" y1="265.50" x2="348.25" y2="268.00" stroke="#2a2a2a" stroke-width="1.1"/>
<text x="348.25" y="277.00" font-size="6.8" text-anchor="middle" fill="#262626">40</text>
<line x1="358.50" y1="265.50" x2="358.50" y2="268.00" stroke="#2a2a2a" stroke-width="1.1"/>
<text x="358.50" y="277.00" font-size="6.8" text-anchor="middle" fill="#262626">50</text>
<line x1="368.75" y1="265.50" x2="368.75" y2="268.00" stroke="#2a2a2a" stroke-width="1.1"/>
<text x="368.75" y="277.00" font-size="6.8" text-anchor="middle" fill="#262626">60</text>
<line x1="379.00" y1="265.50" x2="379.00" y2="268.00" stroke="#2a2a2a" stroke-width="1.1"/>
<text x="379.00" y="277.00" font-size="6.8" text-anchor="middle" fill="#262626">70</text>
<line x1="389.25" y1="265.50" x2="389.25" y2="268.00" stroke="#2a2a2a" stroke-width="1.1"/>
<text x="389.25" y="277.00" font-size="6.8" text-anchor="middle" fill="#262626">80</text>
<line x1="399.50" y1="265.50" x2="399.50" y2="268.00" stroke="#2a2a2a" stroke-width="1.1"/>
<text x="399.50" y="277.00" font-size="6.8" text-anchor="middle" fill="#262626">90</text>
<text x="358.30" y="288.30" font-size="9.4" text-anchor="middle" fill="#262626" textLength="30.00" lengthAdjust="spacingAndGlyphs">Study day</text>
<polyline points="325.70,247.70 328.90,239.40 333.30,225.50 334.50,221.00 336.50,216.60 340.30,193.20" fill="none" stroke="#3a9ad9" stroke-width="1.0" stroke-linejoin="round"/>
<line x1="328.90" y1="235.40" x2="328.90" y2="243.40" stroke="#3a9ad9" stroke-width="0.8"/>
<line x1="327.70" y1="235.40" x2="330.10" y2="235.40" stroke="#3a9ad9" stroke-width="0.8"/>
<line x1="327.70" y1="243.40" x2="330.10" y2="243.40" stroke="#3a9ad9" stroke-width="0.8"/>
<line x1="333.30" y1="220.50" x2="333.30" y2="230.50" stroke="#3a9ad9" stroke-width="0.8"/>
<line x1="332.10" y1="220.50" x2="334.50" y2="220.50" stroke="#3a9ad9" stroke-width="0.8"/>
<line x1="332.10" y1="230.50" x2="334.50" y2="230.50" stroke="#3a9ad9" stroke-width="0.8"/>
<line x1="334.50" y1="217.00" x2="334.50" y2="225.00" stroke="#3a9ad9" stroke-width="0.8"/>
<line x1="333.30" y1="217.00" x2="335.70" y2="217.00" stroke="#3a9ad9" stroke-width="0.8"/>
<line x1="333.30" y1="225.00" x2="335.70" y2="225.00" stroke="#3a9ad9" stroke-width="0.8"/>
<line x1="336.50" y1="210.60" x2="336.50" y2="222.60" stroke="#3a9ad9" stroke-width="0.8"/>
<line x1="335.30" y1="210.60" x2="337.70" y2="210.60" stroke="#3a9ad9" stroke-width="0.8"/>
<line x1="335.30" y1="222.60" x2="337.70" y2="222.60" stroke="#3a9ad9" stroke-width="0.8"/>
<line x1="340.30" y1="193.20" x2="340.30" y2="193.20" stroke="#3a9ad9" stroke-width="0.8"/>
<line x1="339.10" y1="193.20" x2="341.50" y2="193.20" stroke="#3a9ad9" stroke-width="0.8"/>
<line x1="339.10" y1="193.20" x2="341.50" y2="193.20" stroke="#3a9ad9" stroke-width="0.8"/>
<line x1="340.30" y1="186.30" x2="340.30" y2="200.00" stroke="#3a9ad9" stroke-width="0.9"/>
<line x1="338.90" y1="186.30" x2="341.70" y2="186.30" stroke="#3a9ad9" stroke-width="0.9"/>
<line x1="338.90" y1="200.00" x2="341.70" y2="200.00" stroke="#3a9ad9" stroke-width="0.9"/>
<circle cx="325.70" cy="247.70" r="1.7" fill="#3a9ad9"/>
<circle cx="328.90" cy="239.40" r="1.7" fill="#3a9ad9"/>
<circle cx="333.30" cy="225.50" r="1.7" fill="#3a9ad9"/>
<circle cx="334.50" cy="221.00" r="1.7" fill="#3a9ad9"/>
<circle cx="336.50" cy="216.60" r="1.7" fill="#3a9ad9"/>
<circle cx="340.30" cy="193.20" r="1.7" fill="#3a9ad9"/>
<polyline points="326.20,247.20 329.20,249.20 333.50,255.40 336.60,256.20 340.80,256.90 343.80,258.20 347.70,258.20 358.20,258.50 364.90,258.50 369.50,258.50 373.80,258.90 377.20,258.90 380.00,258.50 383.80,257.40 387.70,256.50 391.50,256.20 395.40,256.20 398.50,256.20" fill="none" stroke="#f0961e" stroke-width="1.0" stroke-linejoin="round"/>
<circle cx="326.20" cy="247.20" r="1.6" fill="#f0961e"/>
<circle cx="329.20" cy="249.20" r="1.6" fill="#f0961e"/>
<circle cx="333.50" cy="255.40" r="1.6" fill="#f0961e"/>
<circle cx="336.60" cy="256.20" r="1.6" fill="#f0961e"/>
<circle cx="340.80" cy="256.90" r="1.6" fill="#f0961e"/>
<circle cx="343.80" cy="258.20" r="1.6" fill="#f0961e"/>
<circle cx="347.70" cy="258.20" r="1.6" fill="#f0961e"/>
<circle cx="358.20" cy="258.50" r="1.6" fill="#f0961e"/>
<circle cx="364.90" cy="258.50" r="1.6" fill="#f0961e"/>
<circle cx="369.50" cy="258.50" r="1.6" fill="#f0961e"/>
<circle cx="373.80" cy="258.90" r="1.6" fill="#f0961e"/>
<circle cx="377.20" cy="258.90" r="1.6" fill="#f0961e"/>
<circle cx="380.00" cy="258.50" r="1.6" fill="#f0961e"/>
<circle cx="383.80" cy="257.40" r="1.6" fill="#f0961e"/>
<circle cx="387.70" cy="256.50" r="1.6" fill="#f0961e"/>
<circle cx="391.50" cy="256.20" r="1.6" fill="#f0961e"/>
<circle cx="395.40" cy="256.20" r="1.6" fill="#f0961e"/>
<circle cx="398.50" cy="256.20" r="1.6" fill="#f0961e"/>
<line x1="383.80" y1="255.10" x2="383.80" y2="259.70" stroke="#f0961e" stroke-width="1.0"/>
<line x1="382.50" y1="255.10" x2="385.10" y2="255.10" stroke="#f0961e" stroke-width="1.0"/>
<line x1="382.50" y1="259.70" x2="385.10" y2="259.70" stroke="#f0961e" stroke-width="1.0"/>
<line x1="387.70" y1="254.20" x2="387.70" y2="258.80" stroke="#f0961e" stroke-width="1.0"/>
<line x1="386.40" y1="254.20" x2="389.00" y2="254.20" stroke="#f0961e" stroke-width="1.0"/>
<line x1="386.40" y1="258.80" x2="389.00" y2="258.80" stroke="#f0961e" stroke-width="1.0"/>
<line x1="391.50" y1="253.90" x2="391.50" y2="258.50" stroke="#f0961e" stroke-width="1.0"/>
<line x1="390.20" y1="253.90" x2="392.80" y2="253.90" stroke="#f0961e" stroke-width="1.0"/>
<line x1="390.20" y1="258.50" x2="392.80" y2="258.50" stroke="#f0961e" stroke-width="1.0"/>
<line x1="395.40" y1="253.90" x2="395.40" y2="258.50" stroke="#f0961e" stroke-width="1.0"/>
<line x1="394.10" y1="253.90" x2="396.70" y2="253.90" stroke="#f0961e" stroke-width="1.0"/>
<line x1="394.10" y1="258.50" x2="396.70" y2="258.50" stroke="#f0961e" stroke-width="1.0"/>
<line x1="398.50" y1="253.90" x2="398.50" y2="258.50" stroke="#f0961e" stroke-width="1.0"/>
<line x1="397.20" y1="253.90" x2="399.80" y2="253.90" stroke="#f0961e" stroke-width="1.0"/>
<line x1="397.20" y1="258.50" x2="399.80" y2="258.50" stroke="#f0961e" stroke-width="1.0"/>
<line x1="359.50" y1="193.00" x2="366.50" y2="193.00" stroke="#3a9ad9" stroke-width="1.0"/>
<path d="M361.00,193.00 L363.00,191.00 L365.00,193.00 L363.00,195.00 Z" fill="#3a9ad9"/>
<text x="370.00" y="195.30" font-size="6.3" text-anchor="start" fill="#262626" textLength="20.00" lengthAdjust="spacingAndGlyphs">Vehicle</text>
<line x1="359.50" y1="202.50" x2="366.50" y2="202.50" stroke="#f0961e" stroke-width="1.0"/>
<path d="M361.00,202.50 L363.00,200.50 L365.00,202.50 L363.00,204.50 Z" fill="#f0961e"/>
<text x="370.00" y="204.80" font-size="6.3" text-anchor="start" fill="#262626" textLength="17.50" lengthAdjust="spacingAndGlyphs">Eftoza</text>
<text x="6.50" y="320.30" font-size="11.5" text-anchor="start" fill="#111" font-weight="bold">E</text>
<text x="265.80" y="320.30" font-size="11.5" text-anchor="start" fill="#111" font-weight="bold">F</text>
<line x1="57.40" y1="351.25" x2="57.40" y2="365.50" stroke="#3a3a3a" stroke-width="1.0"/>
<line x1="56.10" y1="351.25" x2="58.70" y2="351.25" stroke="#3a3a3a" stroke-width="1.0"/>
<line x1="56.10" y1="365.50" x2="58.70" y2="365.50" stroke="#3a3a3a" stroke-width="1.0"/>
<rect x="55.02" y="365.50" width="4.75" height="68.00" fill="#34a634"/>
<line x1="57.40" y1="433.50" x2="57.40" y2="436.00" stroke="#2a2a2a" stroke-width="0.8"/>
<text x="58.70" y="440.80" font-size="7.5" text-anchor="end" fill="#262626" textLength="19.71" lengthAdjust="spacingAndGlyphs" transform="rotate(-45 58.70 440.80)">SKM-1</text>
<line x1="65.86" y1="419.50" x2="65.86" y2="422.00" stroke="#3a3a3a" stroke-width="1.0"/>
<line x1="64.56" y1="419.50" x2="67.16" y2="419.50" stroke="#3a3a3a" stroke-width="1.0"/>
<line x1="64.56" y1="422.00" x2="67.16" y2="422.00" stroke="#3a3a3a" stroke-width="1.0"/>
<rect x="63.48" y="422.00" width="4.75" height="11.50" fill="#34a634"/>
<line x1="65.86" y1="433.50" x2="65.86" y2="436.00" stroke="#2a2a2a" stroke-width="0.8"/>
<text x="67.16" y="440.80" font-size="7.5" text-anchor="end" fill="#262626" textLength="12.55" lengthAdjust="spacingAndGlyphs" transform="rotate(-45 67.16 440.80)">ML2</text>
<line x1="74.32" y1="407.00" x2="74.32" y2="412.50" stroke="#3a3a3a" stroke-width="1.0"/>
<line x1="73.02" y1="407.00" x2="75.62" y2="407.00" stroke="#3a3a3a" stroke-width="1.0"/>
<line x1="73.02" y1="412.50" x2="75.62" y2="412.50" stroke="#3a3a3a" stroke-width="1.0"/>
<rect x="71.94" y="412.50" width="4.75" height="21.00" fill="#34a634"/>
<line x1="74.32" y1="433.50" x2="74.32" y2="436.00" stroke="#2a2a2a" stroke-width="0.8"/>
<text x="75.62" y="440.80" font-size="7.5" text-anchor="end" fill="#262626" textLength="17.21" lengthAdjust="spacingAndGlyphs" transform="rotate(-45 75.62 440.80)">PL-21</text>
<line x1="82.78" y1="430.00" x2="82.78" y2="432.00" stroke="#3a3a3a" stroke-width="1.0"/>
<line x1="81.48" y1="430.00" x2="84.08" y2="430.00" stroke="#3a3a3a" stroke-width="1.0"/>
<line x1="81.48" y1="432.00" x2="84.08" y2="432.00" stroke="#3a3a3a" stroke-width="1.0"/>
<rect x="80.41" y="432.00" width="4.75" height="1.50" fill="#34a634"/>
<line x1="82.78" y1="433.50" x2="82.78" y2="436.00" stroke="#2a2a2a" stroke-width="0.8"/>
<text x="84.08" y="440.80" font-size="7.5" text-anchor="end" fill="#262626" textLength="26.52" lengthAdjust="spacingAndGlyphs" transform="rotate(-45 84.08 440.80)">MOLM14</text>
<line x1="91.24" y1="427.50" x2="91.24" y2="430.50" stroke="#3a3a3a" stroke-width="1.0"/>
<line x1="89.94" y1="427.50" x2="92.54" y2="427.50" stroke="#3a3a3a" stroke-width="1.0"/>
<line x1="89.94" y1="430.50" x2="92.54" y2="430.50" stroke="#3a3a3a" stroke-width="1.0"/>
<rect x="88.87" y="430.50" width="4.75" height="3.00" fill="#34a634"/>
<line x1="91.24" y1="433.50" x2="91.24" y2="436.00" stroke="#2a2a2a" stroke-width="0.8"/>
<text x="92.54" y="440.80" font-size="7.5" text-anchor="end" fill="#262626" textLength="18.64" lengthAdjust="spacingAndGlyphs" transform="rotate(-45 92.54 440.80)">EOL-1</text>
<rect x="97.33" y="432.50" width="4.75" height="1.00" fill="#34a634"/>
<line x1="99.70" y1="433.50" x2="99.70" y2="436.00" stroke="#2a2a2a" stroke-width="0.8"/>
<text x="101.00" y="440.80" font-size="7.5" text-anchor="end" fill="#262626" textLength="17.57" lengthAdjust="spacingAndGlyphs" transform="rotate(-45 101.00 440.80)">U-937</text>
<line x1="108.16" y1="430.00" x2="108.16" y2="431.25" stroke="#3a3a3a" stroke-width="1.0"/>
<line x1="106.86" y1="430.00" x2="109.46" y2="430.00" stroke="#3a3a3a" stroke-width="1.0"/>
<line x1="106.86" y1="431.25" x2="109.46" y2="431.25" stroke="#3a3a3a" stroke-width="1.0"/>
<rect x="105.78" y="431.25" width="4.75" height="2.25" fill="#34a634"/>
<line x1="108.16" y1="433.50" x2="108.16" y2="436.00" stroke="#2a2a2a" stroke-width="0.8"/>
<text x="109.46" y="440.80" font-size="7.5" text-anchor="end" fill="#262626" textLength="30.46" lengthAdjust="spacingAndGlyphs" transform="rotate(-45 109.46 440.80)">OCI-AML3</text>
<line x1="116.62" y1="423.75" x2="116.62" y2="426.25" stroke="#3a3a3a" stroke-width="1.0"/>
<line x1="115.32" y1="423.75" x2="117.92" y2="423.75" stroke="#3a3a3a" stroke-width="1.0"/>
<line x1="115.32" y1="426.25" x2="117.92" y2="426.25" stroke="#3a3a3a" stroke-width="1.0"/>
<rect x="114.25" y="426.25" width="4.75" height="7.25" fill="#34a634"/>
<line x1="116.62" y1="433.50" x2="116.62" y2="436.00" stroke="#2a2a2a" stroke-width="0.8"/>
<text x="117.92" y="440.80" font-size="7.5" text-anchor="end" fill="#262626" textLength="30.46" lengthAdjust="spacingAndGlyphs" transform="rotate(-45 117.92 440.80)">OCI-AML2</text>
<line x1="125.08" y1="365.75" x2="125.08" y2="375.75" stroke="#3a3a3a" stroke-width="1.0"/>
<line x1="123.78" y1="365.75" x2="126.38" y2="365.75" stroke="#3a3a3a" stroke-width="1.0"/>
<line x1="123.78" y1="375.75" x2="126.38" y2="375.75" stroke="#3a3a3a" stroke-width="1.0"/>
<rect x="122.71" y="375.75" width="4.75" height="57.75" fill="#34a634"/>
<line x1="125.08" y1="433.50" x2="125.08" y2="436.00" stroke="#2a2a2a" stroke-width="0.8"/>
<text x="126.38" y="440.80" font-size="7.5" text-anchor="end" fill="#262626" textLength="26.52" lengthAdjust="spacingAndGlyphs" transform="rotate(-45 126.38 440.80)">MOLM13</text>
<line x1="133.54" y1="424.25" x2="133.54" y2="427.00" stroke="#3a3a3a" stroke-width="1.0"/>
<line x1="132.24" y1="424.25" x2="134.84" y2="424.25" stroke="#3a3a3a" stroke-width="1.0"/>
<line x1="132.24" y1="427.00" x2="134.84" y2="427.00" stroke="#3a3a3a" stroke-width="1.0"/>
<rect x="131.17" y="427.00" width="4.75" height="6.50" fill="#34a634"/>
<line x1="133.54" y1="433.50" x2="133.54" y2="436.00" stroke="#2a2a2a" stroke-width="0.8"/>
<text x="134.84" y="440.80" font-size="7.5" text-anchor="end" fill="#262626" textLength="19.00" lengthAdjust="spacingAndGlyphs" transform="rotate(-45 134.84 440.80)">UKE-1</text>
<line x1="142.00" y1="429.00" x2="142.00" y2="430.50" stroke="#3a3a3a" stroke-width="1.0"/>
<line x1="140.70" y1="429.00" x2="143.30" y2="429.00" stroke="#3a3a3a" stroke-width="1.0"/>
<line x1="140.70" y1="430.50" x2="143.30" y2="430.50" stroke="#3a3a3a" stroke-width="1.0"/>
<rect x="139.62" y="430.50" width="4.75" height="3.00" fill="#34a634"/>
<line x1="142.00" y1="433.50" x2="142.00" y2="436.00" stroke="#2a2a2a" stroke-width="0.8"/>
<text x="143.30" y="440.80" font-size="7.5" text-anchor="end" fill="#262626" textLength="17.57" lengthAdjust="spacingAndGlyphs" transform="rotate(-45 143.30 440.80)">HL-60</text>
<line x1="150.46" y1="414.50" x2="150.46" y2="416.25" stroke="#3a3a3a" stroke-width="1.0"/>
<line x1="149.16" y1="414.50" x2="151.76" y2="414.50" stroke="#3a3a3a" stroke-width="1.0"/>
<line x1="149.16" y1="416.25" x2="151.76" y2="416.25" stroke="#3a3a3a" stroke-width="1.0"/>
<rect x="148.09" y="416.25" width="4.75" height="17.25" fill="#34a634"/>
<line x1="150.46" y1="433.50" x2="150.46" y2="436.00" stroke="#2a2a2a" stroke-width="0.8"/>
<text x="151.76" y="440.80" font-size="7.5" text-anchor="end" fill="#262626" textLength="25.80" lengthAdjust="spacingAndGlyphs" transform="rotate(-45 151.76 440.80)">NOMO-1</text>
<line x1="158.92" y1="428.75" x2="158.92" y2="430.50" stroke="#3a3a3a" stroke-width="1.0"/>
<line x1="157.62" y1="428.75" x2="160.22" y2="428.75" stroke="#3a3a3a" stroke-width="1.0"/>
<line x1="157.62" y1="430.50" x2="160.22" y2="430.50" stroke="#3a3a3a" stroke-width="1.0"/>
<rect x="156.55" y="430.50" width="4.75" height="3.00" fill="#34a634"/>
<line x1="158.92" y1="433.50" x2="158.92" y2="436.00" stroke="#2a2a2a" stroke-width="0.8"/>
<text x="160.22" y="440.80" font-size="7.5" text-anchor="end" fill="#262626" textLength="30.46" lengthAdjust="spacingAndGlyphs" transform="rotate(-45 160.22 440.80)">OCI-AML5</text>
<line x1="167.38" y1="425.75" x2="167.38" y2="428.00" stroke="#3a3a3a" stroke-width="1.0"/>
<line x1="166.08" y1="425.75" x2="168.68" y2="425.75" stroke="#3a3a3a" stroke-width="1.0"/>
<line x1="166.08" y1="428.00" x2="168.68" y2="428.00" stroke="#3a3a3a" stroke-width="1.0"/>
<rect x="165.01" y="428.00" width="4.75" height="5.50" fill="#34a634"/>
<line x1="167.38" y1="433.50" x2="167.38" y2="436.00" stroke="#2a2a2a" stroke-width="0.8"/>
<text x="168.68" y="440.80" font-size="7.5" text-anchor="end" fill="#262626" textLength="25.09" lengthAdjust="spacingAndGlyphs" transform="rotate(-45 168.68 440.80)">Kasumi1</text>
<rect x="173.47" y="431.40" width="4.75" height="2.10" fill="#34a634"/>
<line x1="175.84" y1="433.50" x2="175.84" y2="436.00" stroke="#2a2a2a" stroke-width="0.8"/>
<text x="177.14" y="440.80" font-size="7.5" text-anchor="end" fill="#262626" textLength="17.92" lengthAdjust="spacingAndGlyphs" transform="rotate(-45 177.14 440.80)">SET-2</text>
<line x1="184.30" y1="428.80" x2="184.30" y2="430.00" stroke="#3a3a3a" stroke-width="1.0"/>
<line x1="183.00" y1="428.80" x2="185.60" y2="428.80" stroke="#3a3a3a" stroke-width="1.0"/>
<line x1="183.00" y1="430.00" x2="185.60" y2="430.00" stroke="#3a3a3a" stroke-width="1.0"/>
<rect x="181.93" y="430.00" width="4.75" height="3.50" fill="#34a634"/>
<line x1="184.30" y1="433.50" x2="184.30" y2="436.00" stroke="#2a2a2a" stroke-width="0.8"/>
<text x="185.60" y="440.80" font-size="7.5" text-anchor="end" fill="#262626" textLength="23.90" lengthAdjust="spacingAndGlyphs" transform="rotate(-45 185.60 440.80)">MV-4-11</text>
<line x1="192.76" y1="399.50" x2="192.76" y2="407.40" stroke="#3a3a3a" stroke-width="1.0"/>
<line x1="191.46" y1="399.50" x2="194.06" y2="399.50" stroke="#3a3a3a" stroke-width="1.0"/>
<line x1="191.46" y1="407.40" x2="194.06" y2="407.40" stroke="#3a3a3a" stroke-width="1.0"/>
<rect x="190.39" y="407.40" width="4.75" height="26.10" fill="#34a634"/>
<line x1="192.76" y1="433.50" x2="192.76" y2="436.00" stroke="#2a2a2a" stroke-width="0.8"/>
<text x="194.06" y="440.80" font-size="7.5" text-anchor="end" fill="#262626" textLength="12.55" lengthAdjust="spacingAndGlyphs" transform="rotate(-45 194.06 440.80)">HEL</text>
<line x1="201.22" y1="414.30" x2="201.22" y2="416.60" stroke="#3a3a3a" stroke-width="1.0"/>
<line x1="199.92" y1="414.30" x2="202.52" y2="414.30" stroke="#3a3a3a" stroke-width="1.0"/>
<line x1="199.92" y1="416.60" x2="202.52" y2="416.60" stroke="#3a3a3a" stroke-width="1.0"/>
<rect x="198.85" y="416.60" width="4.75" height="16.90" fill="#34a634"/>
<line x1="201.22" y1="433.50" x2="201.22" y2="436.00" stroke="#2a2a2a" stroke-width="0.8"/>
<text x="202.52" y="440.80" font-size="7.5" text-anchor="end" fill="#262626" textLength="15.05" lengthAdjust="spacingAndGlyphs" transform="rotate(-45 202.52 440.80)">KG-1</text>
<line x1="209.68" y1="427.70" x2="209.68" y2="429.50" stroke="#3a3a3a" stroke-width="1.0"/>
<line x1="208.38" y1="427.70" x2="210.98" y2="427.70" stroke="#3a3a3a" stroke-width="1.0"/>
<line x1="208.38" y1="429.50" x2="210.98" y2="429.50" stroke="#3a3a3a" stroke-width="1.0"/>
<rect x="207.31" y="429.50" width="4.75" height="4.00" fill="#34a634"/>
<line x1="209.68" y1="433.50" x2="209.68" y2="436.00" stroke="#2a2a2a" stroke-width="0.8"/>
<text x="210.98" y="440.80" font-size="7.5" text-anchor="end" fill="#262626" textLength="25.09" lengthAdjust="spacingAndGlyphs" transform="rotate(-45 210.98 440.80)">P31/FUJ</text>
<rect x="215.77" y="432.30" width="4.75" height="1.20" fill="#34a634"/>
<line x1="218.14" y1="433.50" x2="218.14" y2="436.00" stroke="#2a2a2a" stroke-width="0.8"/>
<text x="219.44" y="440.80" font-size="7.5" text-anchor="end" fill="#262626" textLength="16.49" lengthAdjust="spacingAndGlyphs" transform="rotate(-45 219.44 440.80)">SHI-1</text>
<rect x="224.23" y="431.80" width="4.75" height="1.70" fill="#34a634"/>
<line x1="226.60" y1="433.50" x2="226.60" y2="436.00" stroke="#2a2a2a" stroke-width="0.8"/>
<text x="227.90" y="440.80" font-size="7.5" text-anchor="end" fill="#262626" textLength="24.01" lengthAdjust="spacingAndGlyphs" transform="rotate(-45 227.90 440.80)">SKNO-1</text>
<line x1="235.06" y1="427.20" x2="235.06" y2="429.50" stroke="#3a3a3a" stroke-width="1.0"/>
<line x1="233.76" y1="427.20" x2="236.36" y2="427.20" stroke="#3a3a3a" stroke-width="1.0"/>
<line x1="233.76" y1="429.50" x2="236.36" y2="429.50" stroke="#3a3a3a" stroke-width="1.0"/>
<rect x="232.69" y="429.50" width="4.75" height="4.00" fill="#34a634"/>
<line x1="235.06" y1="433.50" x2="235.06" y2="436.00" stroke="#2a2a2a" stroke-width="0.8"/>
<text x="236.36" y="440.80" font-size="7.5" text-anchor="end" fill="#262626" textLength="13.61" lengthAdjust="spacingAndGlyphs" transform="rotate(-45 236.36 440.80)">TF-1</text>
<rect x="241.15" y="431.80" width="4.75" height="1.70" fill="#34a634"/>
<line x1="243.52" y1="433.50" x2="243.52" y2="436.00" stroke="#2a2a2a" stroke-width="0.8"/>
<text x="244.82" y="440.80" font-size="7.5" text-anchor="end" fill="#262626" textLength="18.63" lengthAdjust="spacingAndGlyphs" transform="rotate(-45 244.82 440.80)">THP-1</text>
<line x1="52.50" y1="331.00" x2="52.50" y2="434.00" stroke="#2a2a2a" stroke-width="1.3"/>
<line x1="52.50" y1="433.50" x2="247.30" y2="433.50" stroke="#2a2a2a" stroke-width="1.3"/>
<line x1="50.00" y1="433.50" x2="52.50" y2="433.50" stroke="#2a2a2a" stroke-width="1.1"/>
<text x="46.50" y="435.70" font-size="6.4" text-anchor="end" fill="#262626">0</text>
<line x1="50.00" y1="416.63" x2="52.50" y2="416.63" stroke="#2a2a2a" stroke-width="1.1"/>
<text x="46.50" y="418.83" font-size="6.4" text-anchor="end" fill="#262626">1000</text>
<line x1="50.00" y1="399.76" x2="52.50" y2="399.76" stroke="#2a2a2a" stroke-width="1.1"/>
<text x="46.50" y="401.96" font-size="6.4" text-anchor="end" fill="#262626">2000</text>
<line x1="50.00" y1="382.89" x2="52.50" y2="382.89" stroke="#2a2a2a" stroke-width="1.1"/>
<text x="46.50" y="385.09" font-size="6.4" text-anchor="end" fill="#262626">3000</text>
<line x1="50.00" y1="366.02" x2="52.50" y2="366.02" stroke="#2a2a2a" stroke-width="1.1"/>
<text x="46.50" y="368.22" font-size="6.4" text-anchor="end" fill="#262626">4000</text>
<line x1="50.00" y1="349.15" x2="52.50" y2="349.15" stroke="#2a2a2a" stroke-width="1.1"/>
<text x="46.50" y="351.35" font-size="6.4" text-anchor="end" fill="#262626">5000</text>
<line x1="50.00" y1="332.28" x2="52.50" y2="332.28" stroke="#2a2a2a" stroke-width="1.1"/>
<text x="46.50" y="334.48" font-size="6.4" text-anchor="end" fill="#262626">6000</text>
<line x1="51.00" y1="425.07" x2="52.50" y2="425.07" stroke="#2a2a2a" stroke-width="0.8"/>
<line x1="51.00" y1="408.20" x2="52.50" y2="408.20" stroke="#2a2a2a" stroke-width="0.8"/>
<line x1="51.00" y1="391.33" x2="52.50" y2="391.33" stroke="#2a2a2a" stroke-width="0.8"/>
<line x1="51.00" y1="374.46" x2="52.50" y2="374.46" stroke="#2a2a2a" stroke-width="0.8"/>
<line x1="51.00" y1="357.59" x2="52.50" y2="357.59" stroke="#2a2a2a" stroke-width="0.8"/>
<line x1="51.00" y1="340.72" x2="52.50" y2="340.72" stroke="#2a2a2a" stroke-width="0.8"/>
<line x1="317.00" y1="337.50" x2="317.00" y2="345.00" stroke="#3a3a3a" stroke-width="1.0"/>
<line x1="315.70" y1="337.50" x2="318.30" y2="337.50" stroke="#3a3a3a" stroke-width="1.0"/>
<line x1="315.70" y1="345.00" x2="318.30" y2="345.00" stroke="#3a3a3a" stroke-width="1.0"/>
<rect x="314.50" y="345.00" width="5.00" height="87.50" fill="#c8102e"/>
<line x1="317.00" y1="432.50" x2="317.00" y2="435.00" stroke="#2a2a2a" stroke-width="0.8"/>
<text x="318.30" y="439.80" font-size="7.5" text-anchor="end" fill="#262626" textLength="19.71" lengthAdjust="spacingAndGlyphs" transform="rotate(-45 318.30 439.80)">SKM-1</text>
<line x1="325.54" y1="394.50" x2="325.54" y2="398.75" stroke="#3a3a3a" stroke-width="1.0"/>
<line x1="324.24" y1="394.50" x2="326.84" y2="394.50" stroke="#3a3a3a" stroke-width="1.0"/>
<line x1="324.24" y1="398.75" x2="326.84" y2="398.75" stroke="#3a3a3a" stroke-width="1.0"/>
<rect x="323.04" y="398.75" width="5.00" height="33.75" fill="#c8102e"/>
<line x1="325.54" y1="432.50" x2="325.54" y2="435.00" stroke="#2a2a2a" stroke-width="0.8"/>
<text x="326.84" y="439.80" font-size="7.5" text-anchor="end" fill="#262626" textLength="12.55" lengthAdjust="spacingAndGlyphs" transform="rotate(-45 326.84 439.80)">ML2</text>
<line x1="334.08" y1="363.75" x2="334.08" y2="371.75" stroke="#3a3a3a" stroke-width="1.0"/>
<line x1="332.78" y1="363.75" x2="335.38" y2="363.75" stroke="#3a3a3a" stroke-width="1.0"/>
<line x1="332.78" y1="371.75" x2="335.38" y2="371.75" stroke="#3a3a3a" stroke-width="1.0"/>
<rect x="331.58" y="371.75" width="5.00" height="60.75" fill="#c8102e"/>
<line x1="334.08" y1="432.50" x2="334.08" y2="435.00" stroke="#2a2a2a" stroke-width="0.8"/>
<text x="335.38" y="439.80" font-size="7.5" text-anchor="end" fill="#262626" textLength="17.21" lengthAdjust="spacingAndGlyphs" transform="rotate(-45 335.38 439.80)">PL-21</text>
<line x1="342.62" y1="372.50" x2="342.62" y2="380.75" stroke="#3a3a3a" stroke-width="1.0"/>
<line x1="341.32" y1="372.50" x2="343.92" y2="372.50" stroke="#3a3a3a" stroke-width="1.0"/>
<line x1="341.32" y1="380.75" x2="343.92" y2="380.75" stroke="#3a3a3a" stroke-width="1.0"/>
<rect x="340.12" y="380.75" width="5.00" height="51.75" fill="#c8102e"/>
<line x1="342.62" y1="432.50" x2="342.62" y2="435.00" stroke="#2a2a2a" stroke-width="0.8"/>
<text x="343.92" y="439.80" font-size="7.5" text-anchor="end" fill="#262626" textLength="26.52" lengthAdjust="spacingAndGlyphs" transform="rotate(-45 343.92 439.80)">MOLM14</text>
<line x1="351.16" y1="333.25" x2="351.16" y2="342.00" stroke="#3a3a3a" stroke-width="1.0"/>
<line x1="349.86" y1="333.25" x2="352.46" y2="333.25" stroke="#3a3a3a" stroke-width="1.0"/>
<line x1="349.86" y1="342.00" x2="352.46" y2="342.00" stroke="#3a3a3a" stroke-width="1.0"/>
<rect x="348.66" y="342.00" width="5.00" height="90.50" fill="#c8102e"/>
<line x1="351.16" y1="432.50" x2="351.16" y2="435.00" stroke="#2a2a2a" stroke-width="0.8"/>
<text x="352.46" y="439.80" font-size="7.5" text-anchor="end" fill="#262626" textLength="18.64" lengthAdjust="spacingAndGlyphs" transform="rotate(-45 352.46 439.80)">EOL-1</text>
<line x1="359.70" y1="361.25" x2="359.70" y2="368.00" stroke="#3a3a3a" stroke-width="1.0"/>
<line x1="358.40" y1="361.25" x2="361.00" y2="361.25" stroke="#3a3a3a" stroke-width="1.0"/>
<line x1="358.40" y1="368.00" x2="361.00" y2="368.00" stroke="#3a3a3a" stroke-width="1.0"/>
<rect x="357.20" y="368.00" width="5.00" height="64.50" fill="#c8102e"/>
<line x1="359.70" y1="432.50" x2="359.70" y2="435.00" stroke="#2a2a2a" stroke-width="0.8"/>
<text x="361.00" y="439.80" font-size="7.5" text-anchor="end" fill="#262626" textLength="17.57" lengthAdjust="spacingAndGlyphs" transform="rotate(-45 361.00 439.80)">U-937</text>
<line x1="368.24" y1="363.00" x2="368.24" y2="374.00" stroke="#3a3a3a" stroke-width="1.0"/>
<line x1="366.94" y1="363.00" x2="369.54" y2="363.00" stroke="#3a3a3a" stroke-width="1.0"/>
<line x1="366.94" y1="374.00" x2="369.54" y2="374.00" stroke="#3a3a3a" stroke-width="1.0"/>
<rect x="365.74" y="374.00" width="5.00" height="58.50" fill="#c8102e"/>
<line x1="368.24" y1="432.50" x2="368.24" y2="435.00" stroke="#2a2a2a" stroke-width="0.8"/>
<text x="369.54" y="439.80" font-size="7.5" text-anchor="end" fill="#262626" textLength="30.46" lengthAdjust="spacingAndGlyphs" transform="rotate(-45 369.54 439.80)">OCI-AML3</text>
<line x1="376.78" y1="377.50" x2="376.78" y2="388.00" stroke="#3a3a3a" stroke-width="1.0"/>
<line x1="375.48" y1="377.50" x2="378.08" y2="377.50" stroke="#3a3a3a" stroke-width="1.0"/>
<line x1="375.48" y1="388.00" x2="378.08" y2="388.00" stroke="#3a3a3a" stroke-width="1.0"/>
<rect x="374.28" y="388.00" width="5.00" height="44.50" fill="#c8102e"/>
<line x1="376.78" y1="432.50" x2="376.78" y2="435.00" stroke="#2a2a2a" stroke-width="0.8"/>
<text x="378.08" y="439.80" font-size="7.5" text-anchor="end" fill="#262626" textLength="30.46" lengthAdjust="spacingAndGlyphs" transform="rotate(-45 378.08 439.80)">OCI-AML2</text>
<line x1="385.32" y1="402.10" x2="385.32" y2="405.60" stroke="#3a3a3a" stroke-width="1.0"/>
<line x1="384.02" y1="402.10" x2="386.62" y2="402.10" stroke="#3a3a3a" stroke-width="1.0"/>
<line x1="384.02" y1="405.60" x2="386.62" y2="405.60" stroke="#3a3a3a" stroke-width="1.0"/>
<rect x="382.82" y="405.60" width="5.00" height="26.90" fill="#c8102e"/>
<line x1="385.32" y1="432.50" x2="385.32" y2="435.00" stroke="#2a2a2a" stroke-width="0.8"/>
<text x="386.62" y="439.80" font-size="7.5" text-anchor="end" fill="#262626" textLength="26.52" lengthAdjust="spacingAndGlyphs" transform="rotate(-45 386.62 439.80)">MOLM13</text>
<line x1="393.86" y1="418.00" x2="393.86" y2="419.00" stroke="#3a3a3a" stroke-width="1.0"/>
<line x1="392.56" y1="418.00" x2="395.16" y2="418.00" stroke="#3a3a3a" stroke-width="1.0"/>
<line x1="392.56" y1="419.00" x2="395.16" y2="419.00" stroke="#3a3a3a" stroke-width="1.0"/>
<rect x="391.36" y="419.00" width="5.00" height="13.50" fill="#c8102e"/>
<line x1="393.86" y1="432.50" x2="393.86" y2="435.00" stroke="#2a2a2a" stroke-width="0.8"/>
<text x="395.16" y="439.80" font-size="7.5" text-anchor="end" fill="#262626" textLength="19.00" lengthAdjust="spacingAndGlyphs" transform="rotate(-45 395.16 439.80)">UKE-1</text>
<line x1="402.40" y1="337.00" x2="402.40" y2="353.70" stroke="#3a3a3a" stroke-width="1.0"/>
<line x1="401.10" y1="337.00" x2="403.70" y2="337.00" stroke="#3a3a3a" stroke-width="1.0"/>
<line x1="401.10" y1="353.70" x2="403.70" y2="353.70" stroke="#3a3a3a" stroke-width="1.0"/>
<rect x="399.90" y="353.70" width="5.00" height="78.80" fill="#c8102e"/>
<line x1="402.40" y1="432.50" x2="402.40" y2="435.00" stroke="#2a2a2a" stroke-width="0.8"/>
<text x="403.70" y="439.80" font-size="7.5" text-anchor="end" fill="#262626" textLength="17.57" lengthAdjust="spacingAndGlyphs" transform="rotate(-45 403.70 439.80)">HL-60</text>
<line x1="410.94" y1="398.60" x2="410.94" y2="402.10" stroke="#3a3a3a" stroke-width="1.0"/>
<line x1="409.64" y1="398.60" x2="412.24" y2="398.60" stroke="#3a3a3a" stroke-width="1.0"/>
<line x1="409.64" y1="402.10" x2="412.24" y2="402.10" stroke="#3a3a3a" stroke-width="1.0"/>
<rect x="408.44" y="402.10" width="5.00" height="30.40" fill="#c8102e"/>
<line x1="410.94" y1="432.50" x2="410.94" y2="435.00" stroke="#2a2a2a" stroke-width="0.8"/>
<text x="412.24" y="439.80" font-size="7.5" text-anchor="end" fill="#262626" textLength="25.80" lengthAdjust="spacingAndGlyphs" transform="rotate(-45 412.24 439.80)">NOMO-1</text>
<line x1="419.48" y1="369.30" x2="419.48" y2="376.50" stroke="#3a3a3a" stroke-width="1.0"/>
<line x1="418.18" y1="369.30" x2="420.78" y2="369.30" stroke="#3a3a3a" stroke-width="1.0"/>
<line x1="418.18" y1="376.50" x2="420.78" y2="376.50" stroke="#3a3a3a" stroke-width="1.0"/>
<rect x="416.98" y="376.50" width="5.00" height="56.00" fill="#c8102e"/>
<line x1="419.48" y1="432.50" x2="419.48" y2="435.00" stroke="#2a2a2a" stroke-width="0.8"/>
<text x="420.78" y="439.80" font-size="7.5" text-anchor="end" fill="#262626" textLength="30.46" lengthAdjust="spacingAndGlyphs" transform="rotate(-45 420.78 439.80)">OCI-AML5</text>
<line x1="428.02" y1="391.40" x2="428.02" y2="397.50" stroke="#3a3a3a" stroke-width="1.0"/>
<line x1="426.72" y1="391.40" x2="429.32" y2="391.40" stroke="#3a3a3a" stroke-width="1.0"/>
<line x1="426.72" y1="397.50" x2="429.32" y2="397.50" stroke="#3a3a3a" stroke-width="1.0"/>
<rect x="425.52" y="397.50" width="5.00" height="35.00" fill="#c8102e"/>
<line x1="428.02" y1="432.50" x2="428.02" y2="435.00" stroke="#2a2a2a" stroke-width="0.8"/>
<text x="429.32" y="439.80" font-size="7.5" text-anchor="end" fill="#262626" textLength="25.09" lengthAdjust="spacingAndGlyphs" transform="rotate(-45 429.32 439.80)">Kasumi1</text>
<line x1="436.56" y1="397.30" x2="436.56" y2="404.30" stroke="#3a3a3a" stroke-width="1.0"/>
<line x1="435.26" y1="397.30" x2="437.86" y2="397.30" stroke="#3a3a3a" stroke-width="1.0"/>
<line x1="435.26" y1="404.30" x2="437.86" y2="404.30" stroke="#3a3a3a" stroke-width="1.0"/>
<rect x="434.06" y="404.30" width="5.00" height="28.20" fill="#c8102e"/>
<line x1="436.56" y1="432.50" x2="436.56" y2="435.00" stroke="#2a2a2a" stroke-width="0.8"/>
<text x="437.86" y="439.80" font-size="7.5" text-anchor="end" fill="#262626" textLength="17.92" lengthAdjust="spacingAndGlyphs" transform="rotate(-45 437.86 439.80)">SET-2</text>
<line x1="445.10" y1="377.90" x2="445.10" y2="386.80" stroke="#3a3a3a" stroke-width="1.0"/>
<line x1="443.80" y1="377.90" x2="446.40" y2="377.90" stroke="#3a3a3a" stroke-width="1.0"/>
<line x1="443.80" y1="386.80" x2="446.40" y2="386.80" stroke="#3a3a3a" stroke-width="1.0"/>
<rect x="442.60" y="386.80" width="5.00" height="45.70" fill="#c8102e"/>
<line x1="445.10" y1="432.50" x2="445.10" y2="435.00" stroke="#2a2a2a" stroke-width="0.8"/>
<text x="446.40" y="439.80" font-size="7.5" text-anchor="end" fill="#262626" textLength="23.90" lengthAdjust="spacingAndGlyphs" transform="rotate(-45 446.40 439.80)">MV-4-11</text>
<line x1="453.64" y1="429.50" x2="453.64" y2="431.20" stroke="#3a3a3a" stroke-width="1.0"/>
<line x1="452.34" y1="429.50" x2="454.94" y2="429.50" stroke="#3a3a3a" stroke-width="1.0"/>
<line x1="452.34" y1="431.20" x2="454.94" y2="431.20" stroke="#3a3a3a" stroke-width="1.0"/>
<rect x="451.14" y="431.20" width="5.00" height="1.30" fill="#c8102e"/>
<line x1="453.64" y1="432.50" x2="453.64" y2="435.00" stroke="#2a2a2a" stroke-width="0.8"/>
<text x="454.94" y="439.80" font-size="7.5" text-anchor="end" fill="#262626" textLength="12.55" lengthAdjust="spacingAndGlyphs" transform="rotate(-45 454.94 439.80)">HEL</text>
<rect x="459.68" y="432.50" width="5.00" height="0.00" fill="#c8102e"/>
<line x1="462.18" y1="432.50" x2="462.18" y2="435.00" stroke="#2a2a2a" stroke-width="0.8"/>
<text x="463.48" y="439.80" font-size="7.5" text-anchor="end" fill="#262626" textLength="15.05" lengthAdjust="spacingAndGlyphs" transform="rotate(-45 463.48 439.80)">KG-1</text>
<line x1="470.72" y1="429.00" x2="470.72" y2="430.40" stroke="#3a3a3a" stroke-width="1.0"/>
<line x1="469.42" y1="429.00" x2="472.02" y2="429.00" stroke="#3a3a3a" stroke-width="1.0"/>
<line x1="469.42" y1="430.40" x2="472.02" y2="430.40" stroke="#3a3a3a" stroke-width="1.0"/>
<rect x="468.22" y="430.40" width="5.00" height="2.10" fill="#c8102e"/>
<line x1="470.72" y1="432.50" x2="470.72" y2="435.00" stroke="#2a2a2a" stroke-width="0.8"/>
<text x="472.02" y="439.80" font-size="7.5" text-anchor="end" fill="#262626" textLength="25.09" lengthAdjust="spacingAndGlyphs" transform="rotate(-45 472.02 439.80)">P31/FUJ</text>
<line x1="479.26" y1="429.50" x2="479.26" y2="430.40" stroke="#3a3a3a" stroke-width="1.0"/>
<line x1="477.96" y1="429.50" x2="480.56" y2="429.50" stroke="#3a3a3a" stroke-width="1.0"/>
<line x1="477.96" y1="430.40" x2="480.56" y2="430.40" stroke="#3a3a3a" stroke-width="1.0"/>
<rect x="476.76" y="430.40" width="5.00" height="2.10" fill="#c8102e"/>
<line x1="479.26" y1="432.50" x2="479.26" y2="435.00" stroke="#2a2a2a" stroke-width="0.8"/>
<text x="480.56" y="439.80" font-size="7.5" text-anchor="end" fill="#262626" textLength="16.49" lengthAdjust="spacingAndGlyphs" transform="rotate(-45 480.56 439.80)">SHI-1</text>
<rect x="485.30" y="431.70" width="5.00" height="0.80" fill="#c8102e"/>
<line x1="487.80" y1="432.50" x2="487.80" y2="435.00" stroke="#2a2a2a" stroke-width="0.8"/>
<text x="489.10" y="439.80" font-size="7.5" text-anchor="end" fill="#262626" textLength="24.01" lengthAdjust="spacingAndGlyphs" transform="rotate(-45 489.10 439.80)">SKNO-1</text>
<rect x="493.84" y="432.50" width="5.00" height="0.00" fill="#c8102e"/>
<line x1="496.34" y1="432.50" x2="496.34" y2="435.00" stroke="#2a2a2a" stroke-width="0.8"/>
<text x="497.64" y="439.80" font-size="7.5" text-anchor="end" fill="#262626" textLength="13.61" lengthAdjust="spacingAndGlyphs" transform="rotate(-45 497.64 439.80)">TF-1</text>
<line x1="504.88" y1="428.20" x2="504.88" y2="430.40" stroke="#3a3a3a" stroke-width="1.0"/>
<line x1="503.58" y1="428.20" x2="506.18" y2="428.20" stroke="#3a3a3a" stroke-width="1.0"/>
<line x1="503.58" y1="430.40" x2="506.18" y2="430.40" stroke="#3a3a3a" stroke-width="1.0"/>
<rect x="502.38" y="430.40" width="5.00" height="2.10" fill="#c8102e"/>
<line x1="504.88" y1="432.50" x2="504.88" y2="435.00" stroke="#2a2a2a" stroke-width="0.8"/>
<text x="506.18" y="439.80" font-size="7.5" text-anchor="end" fill="#262626" textLength="18.63" lengthAdjust="spacingAndGlyphs" transform="rotate(-45 506.18 439.80)">THP-1</text>
<line x1="312.50" y1="331.00" x2="312.50" y2="433.00" stroke="#2a2a2a" stroke-width="1.3"/>
<line x1="312.50" y1="432.50" x2="508.70" y2="432.50" stroke="#2a2a2a" stroke-width="1.3"/>
<line x1="310.00" y1="432.60" x2="312.50" y2="432.60" stroke="#2a2a2a" stroke-width="1.1"/>
<text x="307.00" y="434.80" font-size="6.4" text-anchor="end" fill="#262626">0</text>
<line x1="310.00" y1="412.50" x2="312.50" y2="412.50" stroke="#2a2a2a" stroke-width="1.1"/>
<text x="307.00" y="414.70" font-size="6.4" text-anchor="end" fill="#262626">2000</text>
<line x1="310.00" y1="392.40" x2="312.50" y2="392.40" stroke="#2a2a2a" stroke-width="1.1"/>
<text x="307.00" y="394.60" font-size="6.4" text-anchor="end" fill="#262626">4000</text>
<line x1="310.00" y1="372.30" x2="312.50" y2="372.30" stroke="#2a2a2a" stroke-width="1.1"/>
<text x="307.00" y="374.50" font-size="6.4" text-anchor="end" fill="#262626">6000</text>
<line x1="310.00" y1="352.20" x2="312.50" y2="352.20" stroke="#2a2a2a" stroke-width="1.1"/>
<text x="307.00" y="354.40" font-size="6.4" text-anchor="end" fill="#262626">8000</text>
<line x1="310.00" y1="332.10" x2="312.50" y2="332.10" stroke="#2a2a2a" stroke-width="1.1"/>
<text x="307.00" y="334.30" font-size="6.4" text-anchor="end" fill="#262626">10000</text>
<line x1="311.00" y1="422.55" x2="312.50" y2="422.55" stroke="#2a2a2a" stroke-width="0.8"/>
<line x1="311.00" y1="402.45" x2="312.50" y2="402.45" stroke="#2a2a2a" stroke-width="0.8"/>
<line x1="311.00" y1="382.35" x2="312.50" y2="382.35" stroke="#2a2a2a" stroke-width="0.8"/>
<line x1="311.00" y1="362.25" x2="312.50" y2="362.25" stroke="#2a2a2a" stroke-width="0.8"/>
<line x1="311.00" y1="342.15" x2="312.50" y2="342.15" stroke="#2a2a2a" stroke-width="0.8"/>
<text x="16.65" y="380.80" font-size="8.8" text-anchor="middle" fill="#262626" textLength="72.00" lengthAdjust="spacingAndGlyphs" transform="rotate(-90 16.65 380.80)" class="rt">DR4 plasma membrane</text>
<text x="27.45" y="384.00" font-size="8.8" text-anchor="middle" fill="#262626" textLength="50.00" lengthAdjust="spacingAndGlyphs" transform="rotate(-90 27.45 384.00)" class="rt">receptor numbers</text>
<text x="273.50" y="381.00" font-size="8.8" text-anchor="middle" fill="#262626" textLength="72.00" lengthAdjust="spacingAndGlyphs" transform="rotate(-90 273.50 381.00)" class="rt">DR5 plasma membrane</text>
<text x="283.60" y="384.00" font-size="8.8" text-anchor="middle" fill="#262626" textLength="50.00" lengthAdjust="spacingAndGlyphs" transform="rotate(-90 283.60 384.00)" class="rt">receptor numbers</text>
<text x="150.40" y="474.00" font-size="8.6" text-anchor="middle" fill="#262626" textLength="40.80" lengthAdjust="spacingAndGlyphs">AML cell lines</text>
<text x="412.00" y="474.00" font-size="8.6" text-anchor="middle" fill="#262626" textLength="40.80" lengthAdjust="spacingAndGlyphs">AML cell lines</text>
<text x="6.80" y="495.70" font-size="11.5" text-anchor="start" fill="#111" font-weight="bold">G</text>
<text x="215.50" y="495.20" font-size="11.5" text-anchor="start" fill="#111" font-weight="bold">H</text>
<text x="374.20" y="495.20" font-size="11.5" text-anchor="start" fill="#111" font-weight="bold">I</text>
<line x1="52.50" y1="504.50" x2="52.50" y2="586.50" stroke="#2a2a2a" stroke-width="1.3"/>
<line x1="50.00" y1="507.80" x2="52.50" y2="507.80" stroke="#2a2a2a" stroke-width="1.1"/>
<text x="49.60" y="510.10" font-size="6.5" text-anchor="end" fill="#262626">10000</text>
<line x1="50.00" y1="532.90" x2="52.50" y2="532.90" stroke="#2a2a2a" stroke-width="1.1"/>
<text x="49.60" y="535.20" font-size="6.5" text-anchor="end" fill="#262626">1000</text>
<line x1="50.00" y1="558.30" x2="52.50" y2="558.30" stroke="#2a2a2a" stroke-width="1.1"/>
<text x="49.60" y="560.60" font-size="6.5" text-anchor="end" fill="#262626">100</text>
<line x1="50.00" y1="583.70" x2="52.50" y2="583.70" stroke="#2a2a2a" stroke-width="1.1"/>
<text x="49.60" y="586.00" font-size="6.5" text-anchor="end" fill="#262626">10</text>
<line x1="51.10" y1="576.08" x2="52.50" y2="576.08" stroke="#2a2a2a" stroke-width="0.8"/>
<line x1="51.10" y1="571.63" x2="52.50" y2="571.63" stroke="#2a2a2a" stroke-width="0.8"/>
<line x1="51.10" y1="568.47" x2="52.50" y2="568.47" stroke="#2a2a2a" stroke-width="0.8"/>
<line x1="51.10" y1="566.02" x2="52.50" y2="566.02" stroke="#2a2a2a" stroke-width="0.8"/>
<line x1="51.10" y1="564.01" x2="52.50" y2="564.01" stroke="#2a2a2a" stroke-width="0.8"/>
<line x1="51.10" y1="562.32" x2="52.50" y2="562.32" stroke="#2a2a2a" stroke-width="0.8"/>
<line x1="51.10" y1="560.85" x2="52.50" y2="560.85" stroke="#2a2a2a" stroke-width="0.8"/>
<line x1="51.10" y1="559.56" x2="52.50" y2="559.56" stroke="#2a2a2a" stroke-width="0.8"/>
<line x1="51.10" y1="550.68" x2="52.50" y2="550.68" stroke="#2a2a2a" stroke-width="0.8"/>
<line x1="51.10" y1="546.23" x2="52.50" y2="546.23" stroke="#2a2a2a" stroke-width="0.8"/>
<line x1="51.10" y1="543.07" x2="52.50" y2="543.07" stroke="#2a2a2a" stroke-width="0.8"/>
<line x1="51.10" y1="540.62" x2="52.50" y2="540.62" stroke="#2a2a2a" stroke-width="0.8"/>
<line x1="51.10" y1="538.61" x2="52.50" y2="538.61" stroke="#2a2a2a" stroke-width="0.8"/>
<line x1="51.10" y1="536.92" x2="52.50" y2="536.92" stroke="#2a2a2a" stroke-width="0.8"/>
<line x1="51.10" y1="535.45" x2="52.50" y2="535.45" stroke="#2a2a2a" stroke-width="0.8"/>
<line x1="51.10" y1="534.16" x2="52.50" y2="534.16" stroke="#2a2a2a" stroke-width="0.8"/>
<line x1="51.10" y1="525.28" x2="52.50" y2="525.28" stroke="#2a2a2a" stroke-width="0.8"/>
<line x1="51.10" y1="520.83" x2="52.50" y2="520.83" stroke="#2a2a2a" stroke-width="0.8"/>
<line x1="51.10" y1="517.67" x2="52.50" y2="517.67" stroke="#2a2a2a" stroke-width="0.8"/>
<line x1="51.10" y1="515.22" x2="52.50" y2="515.22" stroke="#2a2a2a" stroke-width="0.8"/>
<line x1="51.10" y1="513.21" x2="52.50" y2="513.21" stroke="#2a2a2a" stroke-width="0.8"/>
<line x1="51.10" y1="511.52" x2="52.50" y2="511.52" stroke="#2a2a2a" stroke-width="0.8"/>
<line x1="51.10" y1="510.05" x2="52.50" y2="510.05" stroke="#2a2a2a" stroke-width="0.8"/>
<line x1="51.10" y1="508.76" x2="52.50" y2="508.76" stroke="#2a2a2a" stroke-width="0.8"/>
<line x1="56.00" y1="590.50" x2="142.70" y2="590.50" stroke="#2a2a2a" stroke-width="1.3"/>
<line x1="57.20" y1="590.50" x2="57.20" y2="593.00" stroke="#2a2a2a" stroke-width="1.1"/>
<text x="58.20" y="602.00" font-size="6.6" text-anchor="middle" fill="#262626">10<tspan font-size="4.09" dy="-2.6">-3</tspan></text>
<line x1="62.14" y1="590.50" x2="62.14" y2="592.00" stroke="#2a2a2a" stroke-width="0.8"/>
<line x1="65.02" y1="590.50" x2="65.02" y2="592.00" stroke="#2a2a2a" stroke-width="0.8"/>
<line x1="67.07" y1="590.50" x2="67.07" y2="592.00" stroke="#2a2a2a" stroke-width="0.8"/>
<line x1="68.66" y1="590.50" x2="68.66" y2="592.00" stroke="#2a2a2a" stroke-width="0.8"/>
<line x1="69.96" y1="590.50" x2="69.96" y2="592.00" stroke="#2a2a2a" stroke-width="0.8"/>
<line x1="71.06" y1="590.50" x2="71.06" y2="592.00" stroke="#2a2a2a" stroke-width="0.8"/>
<line x1="72.01" y1="590.50" x2="72.01" y2="592.00" stroke="#2a2a2a" stroke-width="0.8"/>
<line x1="72.85" y1="590.50" x2="72.85" y2="592.00" stroke="#2a2a2a" stroke-width="0.8"/>
<line x1="74.40" y1="590.50" x2="74.40" y2="593.00" stroke="#2a2a2a" stroke-width="1.1"/>
<text x="75.40" y="602.00" font-size="6.6" text-anchor="middle" fill="#262626">10<tspan font-size="4.09" dy="-2.6">-2</tspan></text>
<line x1="79.34" y1="590.50" x2="79.34" y2="592.00" stroke="#2a2a2a" stroke-width="0.8"/>
<line x1="82.22" y1="590.50" x2="82.22" y2="592.00" stroke="#2a2a2a" stroke-width="0.8"/>
<line x1="84.27" y1="590.50" x2="84.27" y2="592.00" stroke="#2a2a2a" stroke-width="0.8"/>
<line x1="85.86" y1="590.50" x2="85.86" y2="592.00" stroke="#2a2a2a" stroke-width="0.8"/>
<line x1="87.16" y1="590.50" x2="87.16" y2="592.00" stroke="#2a2a2a" stroke-width="0.8"/>
<line x1="88.26" y1="590.50" x2="88.26" y2="592.00" stroke="#2a2a2a" stroke-width="0.8"/>
<line x1="89.21" y1="590.50" x2="89.21" y2="592.00" stroke="#2a2a2a" stroke-width="0.8"/>
<line x1="90.05" y1="590.50" x2="90.05" y2="592.00" stroke="#2a2a2a" stroke-width="0.8"/>
<line x1="90.20" y1="590.50" x2="90.20" y2="593.00" stroke="#2a2a2a" stroke-width="1.1"/>
<text x="91.20" y="602.00" font-size="6.6" text-anchor="middle" fill="#262626">10<tspan font-size="4.09" dy="-2.6">-1</tspan></text>
<line x1="95.14" y1="590.50" x2="95.14" y2="592.00" stroke="#2a2a2a" stroke-width="0.8"/>
<line x1="98.02" y1="590.50" x2="98.02" y2="592.00" stroke="#2a2a2a" stroke-width="0.8"/>
<line x1="100.07" y1="590.50" x2="100.07" y2="592.00" stroke="#2a2a2a" stroke-width="0.8"/>
<line x1="101.66" y1="590.50" x2="101.66" y2="592.00" stroke="#2a2a2a" stroke-width="0.8"/>
<line x1="102.96" y1="590.50" x2="102.96" y2="592.00" stroke="#2a2a2a" stroke-width="0.8"/>
<line x1="104.06" y1="590.50" x2="104.06" y2="592.00" stroke="#2a2a2a" stroke-width="0.8"/>
<line x1="105.01" y1="590.50" x2="105.01" y2="592.00" stroke="#2a2a2a" stroke-width="0.8"/>
<line x1="105.85" y1="590.50" x2="105.85" y2="592.00" stroke="#2a2a2a" stroke-width="0.8"/>
<line x1="106.90" y1="590.50" x2="106.90" y2="593.00" stroke="#2a2a2a" stroke-width="1.1"/>
<text x="107.90" y="602.00" font-size="6.6" text-anchor="middle" fill="#262626">10<tspan font-size="4.09" dy="-2.6">0</tspan></text>
<line x1="111.84" y1="590.50" x2="111.84" y2="592.00" stroke="#2a2a2a" stroke-width="0.8"/>
<line x1="114.72" y1="590.50" x2="114.72" y2="592.00" stroke="#2a2a2a" stroke-width="0.8"/>
<line x1="116.77" y1="590.50" x2="116.77" y2="592.00" stroke="#2a2a2a" stroke-width="0.8"/>
<line x1="118.36" y1="590.50" x2="118.36" y2="592.00" stroke="#2a2a2a" stroke-width="0.8"/>
<line x1="119.66" y1="590.50" x2="119.66" y2="592.00" stroke="#2a2a2a" stroke-width="0.8"/>
<line x1="120.76" y1="590.50" x2="120.76" y2="592.00" stroke="#2a2a2a" stroke-width="0.8"/>
<line x1="121.71" y1="590.50" x2="121.71" y2="592.00" stroke="#2a2a2a" stroke-width="0.8"/>
<line x1="122.55" y1="590.50" x2="122.55" y2="592.00" stroke="#2a2a2a" stroke-width="0.8"/>
<line x1="124.60" y1="590.50" x2="124.60" y2="593.00" stroke="#2a2a2a" stroke-width="1.1"/>
<text x="125.60" y="602.00" font-size="6.6" text-anchor="middle" fill="#262626">10<tspan font-size="4.09" dy="-2.6">1</tspan></text>
<line x1="129.54" y1="590.50" x2="129.54" y2="592.00" stroke="#2a2a2a" stroke-width="0.8"/>
<line x1="132.42" y1="590.50" x2="132.42" y2="592.00" stroke="#2a2a2a" stroke-width="0.8"/>
<line x1="134.47" y1="590.50" x2="134.47" y2="592.00" stroke="#2a2a2a" stroke-width="0.8"/>
<line x1="136.06" y1="590.50" x2="136.06" y2="592.00" stroke="#2a2a2a" stroke-width="0.8"/>
<line x1="137.36" y1="590.50" x2="137.36" y2="592.00" stroke="#2a2a2a" stroke-width="0.8"/>
<line x1="138.46" y1="590.50" x2="138.46" y2="592.00" stroke="#2a2a2a" stroke-width="0.8"/>
<line x1="139.41" y1="590.50" x2="139.41" y2="592.00" stroke="#2a2a2a" stroke-width="0.8"/>
<line x1="140.25" y1="590.50" x2="140.25" y2="592.00" stroke="#2a2a2a" stroke-width="0.8"/>
<line x1="140.30" y1="590.50" x2="140.30" y2="593.00" stroke="#2a2a2a" stroke-width="1.1"/>
<text x="141.30" y="602.00" font-size="6.6" text-anchor="middle" fill="#262626">10<tspan font-size="4.09" dy="-2.6">2</tspan></text>
<text x="15.40" y="547.00" font-size="8.8" text-anchor="middle" fill="#262626" textLength="57.00" lengthAdjust="spacingAndGlyphs" transform="rotate(-90 15.40 547.00)" class="rt">Plasma membrane</text>
<text x="25.35" y="547.70" font-size="8.8" text-anchor="middle" fill="#262626" textLength="50.70" lengthAdjust="spacingAndGlyphs" transform="rotate(-90 25.35 547.70)" class="rt">receptor number</text>
<text x="100.00" y="614.00" font-size="8.6" text-anchor="middle" fill="#262626" textLength="46.00" lengthAdjust="spacingAndGlyphs">Eftoza EC<tspan font-size="6" dy="1.9">50</tspan><tspan dy="-1.9">, nM</tspan></text>
<text x="100.00" y="624.00" font-size="8.6" text-anchor="middle" fill="#262626" textLength="55.70" lengthAdjust="spacingAndGlyphs">24 hr of treatment</text>
<circle cx="68.80" cy="517.90" r="1.55" fill="#c8102e"/>
<circle cx="95.80" cy="530.60" r="1.55" fill="#c8102e"/>
<circle cx="94.40" cy="536.70" r="1.55" fill="#c8102e"/>
<circle cx="111.20" cy="533.10" r="1.55" fill="#c8102e"/>
<circle cx="124.60" cy="528.70" r="1.55" fill="#c8102e"/>
<circle cx="124.60" cy="533.50" r="1.55" fill="#c8102e"/>
<circle cx="106.50" cy="541.50" r="1.55" fill="#c8102e"/>
<circle cx="109.80" cy="543.10" r="1.55" fill="#c8102e"/>
<circle cx="115.60" cy="545.60" r="1.55" fill="#c8102e"/>
<circle cx="100.20" cy="551.20" r="1.55" fill="#c8102e"/>
<circle cx="114.00" cy="551.70" r="1.55" fill="#c8102e"/>
<circle cx="119.40" cy="552.10" r="1.55" fill="#c8102e"/>
<circle cx="110.20" cy="553.10" r="1.55" fill="#c8102e"/>
<circle cx="103.10" cy="555.60" r="1.55" fill="#c8102e"/>
<circle cx="99.60" cy="557.90" r="1.55" fill="#c8102e"/>
<circle cx="116.90" cy="560.40" r="1.55" fill="#c8102e"/>
<circle cx="124.60" cy="560.40" r="1.55" fill="#c8102e"/>
<circle cx="124.60" cy="563.30" r="1.55" fill="#c8102e"/>
<circle cx="100.20" cy="571.00" r="1.55" fill="#c8102e"/>
<circle cx="68.80" cy="509.20" r="1.55" fill="#34a634"/>
<circle cx="100.20" cy="508.80" r="1.55" fill="#34a634"/>
<circle cx="95.80" cy="513.30" r="1.55" fill="#34a634"/>
<circle cx="99.60" cy="513.30" r="1.55" fill="#34a634"/>
<circle cx="100.20" cy="515.20" r="1.55" fill="#34a634"/>
<circle cx="103.10" cy="513.70" r="1.55" fill="#34a634"/>
<circle cx="110.20" cy="510.00" r="1.55" fill="#34a634"/>
<circle cx="106.50" cy="516.50" r="1.55" fill="#34a634"/>
<circle cx="114.20" cy="514.20" r="1.55" fill="#34a634"/>
<circle cx="119.40" cy="516.20" r="1.55" fill="#34a634"/>
<circle cx="94.40" cy="519.60" r="1.55" fill="#34a634"/>
<circle cx="108.80" cy="520.00" r="1.55" fill="#34a634"/>
<circle cx="110.80" cy="519.60" r="1.55" fill="#34a634"/>
<circle cx="115.60" cy="519.00" r="1.55" fill="#34a634"/>
<circle cx="116.50" cy="521.30" r="1.55" fill="#34a634"/>
<circle cx="109.80" cy="521.90" r="1.55" fill="#34a634"/>
<circle cx="109.40" cy="529.60" r="1.55" fill="#34a634"/>
<circle cx="124.60" cy="547.30" r="1.55" fill="#34a634"/>
<circle cx="124.60" cy="549.80" r="1.55" fill="#34a634"/>
<circle cx="124.60" cy="554.60" r="1.55" fill="#34a634"/>
<circle cx="124.60" cy="556.50" r="1.55" fill="#34a634"/>
<circle cx="124.60" cy="563.30" r="1.55" fill="#34a634"/>
<circle cx="124.60" cy="565.20" r="1.55" fill="#34a634"/>
<circle cx="124.60" cy="572.50" r="1.55" fill="#34a634"/>
<circle cx="132.90" cy="513.70" r="1.6" fill="#c8102e"/>
<text x="136.90" y="516.30" font-size="6" text-anchor="start" fill="#262626" textLength="11.20" lengthAdjust="spacingAndGlyphs">DR4</text>
<text x="136.90" y="523.80" font-size="6" text-anchor="start" fill="#262626" textLength="59.30" lengthAdjust="spacingAndGlyphs">Spearman <tspan font-style="italic">r</tspan> = −0.2646</text>
<text x="136.90" y="531.30" font-size="6" text-anchor="start" fill="#262626" textLength="45.80" lengthAdjust="spacingAndGlyphs"><tspan font-style="italic">P</tspan> &lt; .2225, n = 23</text>
<circle cx="134.20" cy="541.20" r="1.6" fill="#34a634"/>
<text x="136.90" y="543.40" font-size="6" text-anchor="start" fill="#262626" textLength="11.20" lengthAdjust="spacingAndGlyphs">DR5</text>
<text x="136.90" y="550.40" font-size="6" text-anchor="start" fill="#262626" textLength="59.30" lengthAdjust="spacingAndGlyphs">Spearman <tspan font-style="italic">r</tspan> = −0.7967</text>
<text x="136.90" y="557.60" font-size="6" text-anchor="start" fill="#262626" textLength="45.80" lengthAdjust="spacingAndGlyphs"><tspan font-style="italic">P</tspan> &lt; .0001, n = 23</text>
<line x1="261.50" y1="506.60" x2="261.50" y2="586.40" stroke="#2a2a2a" stroke-width="1.3"/>
<line x1="259.00" y1="512.60" x2="261.50" y2="512.60" stroke="#2a2a2a" stroke-width="1.1"/>
<text x="256.10" y="514.90" font-size="6.5" text-anchor="end" fill="#262626">10000</text>
<line x1="259.00" y1="548.50" x2="261.50" y2="548.50" stroke="#2a2a2a" stroke-width="1.1"/>
<text x="256.10" y="550.80" font-size="6.5" text-anchor="end" fill="#262626">1000</text>
<line x1="259.00" y1="584.40" x2="261.50" y2="584.40" stroke="#2a2a2a" stroke-width="1.1"/>
<text x="256.10" y="586.70" font-size="6.5" text-anchor="end" fill="#262626">100</text>
<line x1="260.10" y1="573.59" x2="261.50" y2="573.59" stroke="#2a2a2a" stroke-width="0.8"/>
<line x1="260.10" y1="567.27" x2="261.50" y2="567.27" stroke="#2a2a2a" stroke-width="0.8"/>
<line x1="260.10" y1="562.79" x2="261.50" y2="562.79" stroke="#2a2a2a" stroke-width="0.8"/>
<line x1="260.10" y1="559.31" x2="261.50" y2="559.31" stroke="#2a2a2a" stroke-width="0.8"/>
<line x1="260.10" y1="556.46" x2="261.50" y2="556.46" stroke="#2a2a2a" stroke-width="0.8"/>
<line x1="260.10" y1="554.06" x2="261.50" y2="554.06" stroke="#2a2a2a" stroke-width="0.8"/>
<line x1="260.10" y1="551.98" x2="261.50" y2="551.98" stroke="#2a2a2a" stroke-width="0.8"/>
<line x1="260.10" y1="550.14" x2="261.50" y2="550.14" stroke="#2a2a2a" stroke-width="0.8"/>
<line x1="260.10" y1="537.69" x2="261.50" y2="537.69" stroke="#2a2a2a" stroke-width="0.8"/>
<line x1="260.10" y1="531.37" x2="261.50" y2="531.37" stroke="#2a2a2a" stroke-width="0.8"/>
<line x1="260.10" y1="526.89" x2="261.50" y2="526.89" stroke="#2a2a2a" stroke-width="0.8"/>
<line x1="260.10" y1="523.41" x2="261.50" y2="523.41" stroke="#2a2a2a" stroke-width="0.8"/>
<line x1="260.10" y1="520.56" x2="261.50" y2="520.56" stroke="#2a2a2a" stroke-width="0.8"/>
<line x1="260.10" y1="518.16" x2="261.50" y2="518.16" stroke="#2a2a2a" stroke-width="0.8"/>
<line x1="260.10" y1="516.08" x2="261.50" y2="516.08" stroke="#2a2a2a" stroke-width="0.8"/>
<line x1="260.10" y1="514.24" x2="261.50" y2="514.24" stroke="#2a2a2a" stroke-width="0.8"/>
<line x1="262.50" y1="590.50" x2="353.00" y2="590.50" stroke="#2a2a2a" stroke-width="1.3"/>
<line x1="265.30" y1="590.50" x2="265.30" y2="593.00" stroke="#2a2a2a" stroke-width="1.1"/>
<text x="266.30" y="602.00" font-size="6.6" text-anchor="middle" fill="#262626">10<tspan font-size="4.09" dy="-2.6">-3</tspan></text>
<line x1="270.40" y1="590.50" x2="270.40" y2="592.00" stroke="#2a2a2a" stroke-width="0.8"/>
<line x1="273.38" y1="590.50" x2="273.38" y2="592.00" stroke="#2a2a2a" stroke-width="0.8"/>
<line x1="275.49" y1="590.50" x2="275.49" y2="592.00" stroke="#2a2a2a" stroke-width="0.8"/>
<line x1="277.13" y1="590.50" x2="277.13" y2="592.00" stroke="#2a2a2a" stroke-width="0.8"/>
<line x1="278.47" y1="590.50" x2="278.47" y2="592.00" stroke="#2a2a2a" stroke-width="0.8"/>
<line x1="279.61" y1="590.50" x2="279.61" y2="592.00" stroke="#2a2a2a" stroke-width="0.8"/>
<line x1="280.59" y1="590.50" x2="280.59" y2="592.00" stroke="#2a2a2a" stroke-width="0.8"/>
<line x1="281.46" y1="590.50" x2="281.46" y2="592.00" stroke="#2a2a2a" stroke-width="0.8"/>
<line x1="282.20" y1="590.50" x2="282.20" y2="593.00" stroke="#2a2a2a" stroke-width="1.1"/>
<text x="283.20" y="602.00" font-size="6.6" text-anchor="middle" fill="#262626">10<tspan font-size="4.09" dy="-2.6">-2</tspan></text>
<line x1="287.30" y1="590.50" x2="287.30" y2="592.00" stroke="#2a2a2a" stroke-width="0.8"/>
<line x1="290.28" y1="590.50" x2="290.28" y2="592.00" stroke="#2a2a2a" stroke-width="0.8"/>
<line x1="292.39" y1="590.50" x2="292.39" y2="592.00" stroke="#2a2a2a" stroke-width="0.8"/>
<line x1="294.03" y1="590.50" x2="294.03" y2="592.00" stroke="#2a2a2a" stroke-width="0.8"/>
<line x1="295.37" y1="590.50" x2="295.37" y2="592.00" stroke="#2a2a2a" stroke-width="0.8"/>
<line x1="296.51" y1="590.50" x2="296.51" y2="592.00" stroke="#2a2a2a" stroke-width="0.8"/>
<line x1="297.49" y1="590.50" x2="297.49" y2="592.00" stroke="#2a2a2a" stroke-width="0.8"/>
<line x1="298.36" y1="590.50" x2="298.36" y2="592.00" stroke="#2a2a2a" stroke-width="0.8"/>
<line x1="299.20" y1="590.50" x2="299.20" y2="593.00" stroke="#2a2a2a" stroke-width="1.1"/>
<text x="300.20" y="602.00" font-size="6.6" text-anchor="middle" fill="#262626">10<tspan font-size="4.09" dy="-2.6">-1</tspan></text>
<line x1="304.30" y1="590.50" x2="304.30" y2="592.00" stroke="#2a2a2a" stroke-width="0.8"/>
<line x1="307.28" y1="590.50" x2="307.28" y2="592.00" stroke="#2a2a2a" stroke-width="0.8"/>
<line x1="309.39" y1="590.50" x2="309.39" y2="592.00" stroke="#2a2a2a" stroke-width="0.8"/>
<line x1="311.03" y1="590.50" x2="311.03" y2="592.00" stroke="#2a2a2a" stroke-width="0.8"/>
<line x1="312.37" y1="590.50" x2="312.37" y2="592.00" stroke="#2a2a2a" stroke-width="0.8"/>
<line x1="313.51" y1="590.50" x2="313.51" y2="592.00" stroke="#2a2a2a" stroke-width="0.8"/>
<line x1="314.49" y1="590.50" x2="314.49" y2="592.00" stroke="#2a2a2a" stroke-width="0.8"/>
<line x1="315.36" y1="590.50" x2="315.36" y2="592.00" stroke="#2a2a2a" stroke-width="0.8"/>
<line x1="316.10" y1="590.50" x2="316.10" y2="593.00" stroke="#2a2a2a" stroke-width="1.1"/>
<text x="317.10" y="602.00" font-size="6.6" text-anchor="middle" fill="#262626">10<tspan font-size="4.09" dy="-2.6">0</tspan></text>
<line x1="321.20" y1="590.50" x2="321.20" y2="592.00" stroke="#2a2a2a" stroke-width="0.8"/>
<line x1="324.18" y1="590.50" x2="324.18" y2="592.00" stroke="#2a2a2a" stroke-width="0.8"/>
<line x1="326.29" y1="590.50" x2="326.29" y2="592.00" stroke="#2a2a2a" stroke-width="0.8"/>
<line x1="327.93" y1="590.50" x2="327.93" y2="592.00" stroke="#2a2a2a" stroke-width="0.8"/>
<line x1="329.27" y1="590.50" x2="329.27" y2="592.00" stroke="#2a2a2a" stroke-width="0.8"/>
<line x1="330.41" y1="590.50" x2="330.41" y2="592.00" stroke="#2a2a2a" stroke-width="0.8"/>
<line x1="331.39" y1="590.50" x2="331.39" y2="592.00" stroke="#2a2a2a" stroke-width="0.8"/>
<line x1="332.26" y1="590.50" x2="332.26" y2="592.00" stroke="#2a2a2a" stroke-width="0.8"/>
<line x1="333.00" y1="590.50" x2="333.00" y2="593.00" stroke="#2a2a2a" stroke-width="1.1"/>
<text x="334.00" y="602.00" font-size="6.6" text-anchor="middle" fill="#262626">10<tspan font-size="4.09" dy="-2.6">1</tspan></text>
<line x1="338.10" y1="590.50" x2="338.10" y2="592.00" stroke="#2a2a2a" stroke-width="0.8"/>
<line x1="341.08" y1="590.50" x2="341.08" y2="592.00" stroke="#2a2a2a" stroke-width="0.8"/>
<line x1="343.19" y1="590.50" x2="343.19" y2="592.00" stroke="#2a2a2a" stroke-width="0.8"/>
<line x1="344.83" y1="590.50" x2="344.83" y2="592.00" stroke="#2a2a2a" stroke-width="0.8"/>
<line x1="346.17" y1="590.50" x2="346.17" y2="592.00" stroke="#2a2a2a" stroke-width="0.8"/>
<line x1="347.31" y1="590.50" x2="347.31" y2="592.00" stroke="#2a2a2a" stroke-width="0.8"/>
<line x1="348.29" y1="590.50" x2="348.29" y2="592.00" stroke="#2a2a2a" stroke-width="0.8"/>
<line x1="349.16" y1="590.50" x2="349.16" y2="592.00" stroke="#2a2a2a" stroke-width="0.8"/>
<line x1="349.90" y1="590.50" x2="349.90" y2="593.00" stroke="#2a2a2a" stroke-width="1.1"/>
<text x="350.90" y="602.00" font-size="6.6" text-anchor="middle" fill="#262626">10<tspan font-size="4.09" dy="-2.6">2</tspan></text>
<text x="222.10" y="546.00" font-size="8.8" text-anchor="middle" fill="#262626" textLength="59.00" lengthAdjust="spacingAndGlyphs" transform="rotate(-90 222.10 546.00)" class="rt">DR4 + DR5 plasma</text>
<text x="232.90" y="546.50" font-size="8.8" text-anchor="middle" fill="#262626" textLength="87.00" lengthAdjust="spacingAndGlyphs" transform="rotate(-90 232.90 546.50)" class="rt">membrane receptor number</text>
<text x="309.50" y="614.00" font-size="8.6" text-anchor="middle" fill="#262626" textLength="46.00" lengthAdjust="spacingAndGlyphs">Eftoza EC<tspan font-size="6" dy="1.9">50</tspan><tspan dy="-1.9">, nM</tspan></text>
<text x="309.50" y="624.00" font-size="8.6" text-anchor="middle" fill="#262626" textLength="55.70" lengthAdjust="spacingAndGlyphs">24 hr of treatment</text>
<circle cx="277.50" cy="509.00" r="1.6" fill="#1c3a6a"/>
<circle cx="309.80" cy="514.20" r="1.6" fill="#1c3a6a"/>
<circle cx="305.80" cy="517.70" r="1.6" fill="#1c3a6a"/>
<circle cx="310.20" cy="519.40" r="1.6" fill="#1c3a6a"/>
<circle cx="313.50" cy="520.60" r="1.6" fill="#1c3a6a"/>
<circle cx="320.20" cy="516.20" r="1.6" fill="#1c3a6a"/>
<circle cx="320.20" cy="520.40" r="1.6" fill="#1c3a6a"/>
<circle cx="324.60" cy="521.00" r="1.6" fill="#1c3a6a"/>
<circle cx="309.20" cy="522.50" r="1.6" fill="#1c3a6a"/>
<circle cx="316.90" cy="523.80" r="1.6" fill="#1c3a6a"/>
<circle cx="304.20" cy="526.20" r="1.6" fill="#1c3a6a"/>
<circle cx="321.50" cy="526.20" r="1.6" fill="#1c3a6a"/>
<circle cx="326.30" cy="527.30" r="1.6" fill="#1c3a6a"/>
<circle cx="330.40" cy="524.20" r="1.6" fill="#1c3a6a"/>
<circle cx="327.50" cy="531.20" r="1.6" fill="#1c3a6a"/>
<circle cx="320.20" cy="539.20" r="1.6" fill="#1c3a6a"/>
<circle cx="336.00" cy="540.20" r="1.6" fill="#1c3a6a"/>
<circle cx="336.00" cy="547.90" r="1.6" fill="#1c3a6a"/>
<circle cx="336.00" cy="560.00" r="1.6" fill="#1c3a6a"/>
<circle cx="336.00" cy="563.80" r="1.6" fill="#1c3a6a"/>
<circle cx="336.00" cy="565.80" r="1.6" fill="#1c3a6a"/>
<circle cx="336.00" cy="567.70" r="1.6" fill="#1c3a6a"/>
<circle cx="336.00" cy="574.40" r="1.6" fill="#1c3a6a"/>
<text x="267.80" y="575.80" font-size="6" text-anchor="start" fill="#262626" textLength="59.20" lengthAdjust="spacingAndGlyphs">Spearman r = −0.8358</text>
<text x="267.80" y="583.20" font-size="6" text-anchor="start" fill="#262626" textLength="46.20" lengthAdjust="spacingAndGlyphs">P &lt; .0001, n = 23</text>
<text x="453.00" y="499.70" font-size="8.8" text-anchor="middle" fill="#262626" textLength="16.30" lengthAdjust="spacingAndGlyphs" stroke="#262626" stroke-width="0.25">HEL</text>
<line x1="399.50" y1="503.00" x2="399.50" y2="587.60" stroke="#2a2a2a" stroke-width="1.3"/>
<line x1="397.20" y1="584.40" x2="399.70" y2="584.40" stroke="#2a2a2a" stroke-width="1.1"/>
<text x="395.00" y="586.70" font-size="6.5" text-anchor="end" fill="#262626">0</text>
<line x1="397.20" y1="571.23" x2="399.70" y2="571.23" stroke="#2a2a2a" stroke-width="1.1"/>
<text x="395.00" y="573.53" font-size="6.5" text-anchor="end" fill="#262626">20</text>
<line x1="397.20" y1="558.06" x2="399.70" y2="558.06" stroke="#2a2a2a" stroke-width="1.1"/>
<text x="395.00" y="560.36" font-size="6.5" text-anchor="end" fill="#262626">40</text>
<line x1="397.20" y1="544.89" x2="399.70" y2="544.89" stroke="#2a2a2a" stroke-width="1.1"/>
<text x="395.00" y="547.19" font-size="6.5" text-anchor="end" fill="#262626">60</text>
<line x1="397.20" y1="531.72" x2="399.70" y2="531.72" stroke="#2a2a2a" stroke-width="1.1"/>
<text x="395.00" y="534.02" font-size="6.5" text-anchor="end" fill="#262626">80</text>
<line x1="397.20" y1="518.55" x2="399.70" y2="518.55" stroke="#2a2a2a" stroke-width="1.1"/>
<text x="395.00" y="520.85" font-size="6.5" text-anchor="end" fill="#262626">100</text>
<line x1="397.20" y1="505.38" x2="399.70" y2="505.38" stroke="#2a2a2a" stroke-width="1.1"/>
<text x="395.00" y="507.68" font-size="6.5" text-anchor="end" fill="#262626">120</text>
<text x="379.20" y="543.50" font-size="8.8" text-anchor="middle" fill="#262626" textLength="35.00" lengthAdjust="spacingAndGlyphs" transform="rotate(-90 379.20 543.50)" class="rt">Viability, %</text>
<line x1="404.50" y1="590.50" x2="411.20" y2="590.50" stroke="#2a2a2a" stroke-width="1.3"/>
<line x1="408.00" y1="590.20" x2="408.00" y2="592.50" stroke="#2a2a2a" stroke-width="1.1"/>
<text x="408.80" y="602.40" font-size="6.6" text-anchor="middle" fill="#262626">10<tspan font-size="4.09" dy="-2.6">-2</tspan></text>
<line x1="413.50" y1="590.50" x2="507.00" y2="590.50" stroke="#2a2a2a" stroke-width="1.3"/>
<line x1="441.50" y1="590.20" x2="441.50" y2="592.70" stroke="#2a2a2a" stroke-width="1.1"/>
<text x="442.50" y="602.40" font-size="6.6" text-anchor="middle" fill="#262626">10<tspan font-size="4.09" dy="-2.6">-1</tspan></text>
<line x1="471.80" y1="590.20" x2="471.80" y2="592.70" stroke="#2a2a2a" stroke-width="1.1"/>
<text x="472.80" y="602.40" font-size="6.6" text-anchor="middle" fill="#262626">10<tspan font-size="4.09" dy="-2.6">0</tspan></text>
<line x1="502.50" y1="590.20" x2="502.50" y2="592.70" stroke="#2a2a2a" stroke-width="1.1"/>
<text x="503.50" y="602.40" font-size="6.6" text-anchor="middle" fill="#262626">10<tspan font-size="4.09" dy="-2.6">1</tspan></text>
<line x1="419.48" y1="590.20" x2="419.48" y2="591.70" stroke="#2a2a2a" stroke-width="0.8"/>
<line x1="425.03" y1="590.20" x2="425.03" y2="591.70" stroke="#2a2a2a" stroke-width="0.8"/>
<line x1="428.96" y1="590.20" x2="428.96" y2="591.70" stroke="#2a2a2a" stroke-width="0.8"/>
<line x1="432.02" y1="590.20" x2="432.02" y2="591.70" stroke="#2a2a2a" stroke-width="0.8"/>
<line x1="434.51" y1="590.20" x2="434.51" y2="591.70" stroke="#2a2a2a" stroke-width="0.8"/>
<line x1="436.62" y1="590.20" x2="436.62" y2="591.70" stroke="#2a2a2a" stroke-width="0.8"/>
<line x1="438.45" y1="590.20" x2="438.45" y2="591.70" stroke="#2a2a2a" stroke-width="0.8"/>
<line x1="440.06" y1="590.20" x2="440.06" y2="591.70" stroke="#2a2a2a" stroke-width="0.8"/>
<line x1="450.98" y1="590.20" x2="450.98" y2="591.70" stroke="#2a2a2a" stroke-width="0.8"/>
<line x1="456.53" y1="590.20" x2="456.53" y2="591.70" stroke="#2a2a2a" stroke-width="0.8"/>
<line x1="460.46" y1="590.20" x2="460.46" y2="591.70" stroke="#2a2a2a" stroke-width="0.8"/>
<line x1="463.52" y1="590.20" x2="463.52" y2="591.70" stroke="#2a2a2a" stroke-width="0.8"/>
<line x1="466.01" y1="590.20" x2="466.01" y2="591.70" stroke="#2a2a2a" stroke-width="0.8"/>
<line x1="468.12" y1="590.20" x2="468.12" y2="591.70" stroke="#2a2a2a" stroke-width="0.8"/>
<line x1="469.95" y1="590.20" x2="469.95" y2="591.70" stroke="#2a2a2a" stroke-width="0.8"/>
<line x1="471.56" y1="590.20" x2="471.56" y2="591.70" stroke="#2a2a2a" stroke-width="0.8"/>
<line x1="482.48" y1="590.20" x2="482.48" y2="591.70" stroke="#2a2a2a" stroke-width="0.8"/>
<line x1="488.03" y1="590.20" x2="488.03" y2="591.70" stroke="#2a2a2a" stroke-width="0.8"/>
<line x1="491.96" y1="590.20" x2="491.96" y2="591.70" stroke="#2a2a2a" stroke-width="0.8"/>
<line x1="495.02" y1="590.20" x2="495.02" y2="591.70" stroke="#2a2a2a" stroke-width="0.8"/>
<line x1="497.51" y1="590.20" x2="497.51" y2="591.70" stroke="#2a2a2a" stroke-width="0.8"/>
<line x1="499.62" y1="590.20" x2="499.62" y2="591.70" stroke="#2a2a2a" stroke-width="0.8"/>
<line x1="501.45" y1="590.20" x2="501.45" y2="591.70" stroke="#2a2a2a" stroke-width="0.8"/>
<line x1="503.06" y1="590.20" x2="503.06" y2="591.70" stroke="#2a2a2a" stroke-width="0.8"/>
<text x="455.40" y="614.00" font-size="8.6" text-anchor="middle" fill="#262626" textLength="30.80" lengthAdjust="spacingAndGlyphs">Eftoza, nM</text>
<text x="455.40" y="624.00" font-size="8.6" text-anchor="middle" fill="#262626" textLength="55.30" lengthAdjust="spacingAndGlyphs">24 hr of treatment</text>
<path d="M413.50,516.60 C417.92,516.60 431.25,516.57 440.00,516.60 C448.75,516.63 459.33,516.63 466.00,516.80 C472.67,516.97 476.00,517.07 480.00,517.60 C484.00,518.13 487.17,519.02 490.00,520.00 C492.83,520.98 494.67,522.08 497.00,523.50 C499.33,524.92 502.83,527.67 504.00,528.50" fill="none" stroke="#c8102e" stroke-width="1.25"/>
<path d="M413.50,518.70 C416.25,518.80 424.75,518.75 430.00,519.30 C435.25,519.85 440.33,520.38 445.00,522.00 C449.67,523.62 453.83,526.25 458.00,529.00 C462.17,531.75 466.00,535.17 470.00,538.50 C474.00,541.83 478.00,545.58 482.00,549.00 C486.00,552.42 490.33,555.92 494.00,559.00 C497.67,562.08 502.33,566.08 504.00,567.50" fill="none" stroke="#1f4f8c" stroke-width="1.25"/>
<path d="M413.50,526.00 C415.42,526.75 421.08,528.50 425.00,530.50 C428.92,532.50 433.00,535.33 437.00,538.00 C441.00,540.67 445.00,543.92 449.00,546.50 C453.00,549.08 457.00,551.45 461.00,553.50 C465.00,555.55 469.00,557.38 473.00,558.80 C477.00,560.22 481.00,561.05 485.00,562.00 C489.00,562.95 493.83,563.87 497.00,564.50 C500.17,565.13 502.83,565.58 504.00,565.80" fill="none" stroke="#34a634" stroke-width="1.25"/>
<line x1="419.20" y1="512.30" x2="419.20" y2="519.30" stroke="#c8102e" stroke-width="0.9"/>
<line x1="417.70" y1="512.30" x2="420.70" y2="512.30" stroke="#c8102e" stroke-width="0.9"/>
<line x1="417.70" y1="519.30" x2="420.70" y2="519.30" stroke="#c8102e" stroke-width="0.9"/>
<line x1="429.20" y1="511.60" x2="429.20" y2="520.80" stroke="#c8102e" stroke-width="0.9"/>
<line x1="427.70" y1="511.60" x2="430.70" y2="511.60" stroke="#c8102e" stroke-width="0.9"/>
<line x1="427.70" y1="520.80" x2="430.70" y2="520.80" stroke="#c8102e" stroke-width="0.9"/>
<line x1="438.40" y1="511.30" x2="438.40" y2="519.30" stroke="#c8102e" stroke-width="0.9"/>
<line x1="436.90" y1="511.30" x2="439.90" y2="511.30" stroke="#c8102e" stroke-width="0.9"/>
<line x1="436.90" y1="519.30" x2="439.90" y2="519.30" stroke="#c8102e" stroke-width="0.9"/>
<line x1="447.60" y1="513.40" x2="447.60" y2="520.40" stroke="#c8102e" stroke-width="0.9"/>
<line x1="446.10" y1="513.40" x2="449.10" y2="513.40" stroke="#c8102e" stroke-width="0.9"/>
<line x1="446.10" y1="520.40" x2="449.10" y2="520.40" stroke="#c8102e" stroke-width="0.9"/>
<line x1="456.80" y1="513.00" x2="456.80" y2="520.80" stroke="#c8102e" stroke-width="0.9"/>
<line x1="455.30" y1="513.00" x2="458.30" y2="513.00" stroke="#c8102e" stroke-width="0.9"/>
<line x1="455.30" y1="520.80" x2="458.30" y2="520.80" stroke="#c8102e" stroke-width="0.9"/>
<line x1="466.50" y1="513.40" x2="466.50" y2="520.40" stroke="#c8102e" stroke-width="0.9"/>
<line x1="465.00" y1="513.40" x2="468.00" y2="513.40" stroke="#c8102e" stroke-width="0.9"/>
<line x1="465.00" y1="520.40" x2="468.00" y2="520.40" stroke="#c8102e" stroke-width="0.9"/>
<line x1="475.80" y1="515.10" x2="475.80" y2="519.70" stroke="#c8102e" stroke-width="0.9"/>
<line x1="474.30" y1="515.10" x2="477.30" y2="515.10" stroke="#c8102e" stroke-width="0.9"/>
<line x1="474.30" y1="519.70" x2="477.30" y2="519.70" stroke="#c8102e" stroke-width="0.9"/>
<line x1="485.00" y1="515.30" x2="485.00" y2="522.30" stroke="#c8102e" stroke-width="0.9"/>
<line x1="483.50" y1="515.30" x2="486.50" y2="515.30" stroke="#c8102e" stroke-width="0.9"/>
<line x1="483.50" y1="522.30" x2="486.50" y2="522.30" stroke="#c8102e" stroke-width="0.9"/>
<line x1="494.70" y1="519.10" x2="494.70" y2="524.90" stroke="#c8102e" stroke-width="0.9"/>
<line x1="493.20" y1="519.10" x2="496.20" y2="519.10" stroke="#c8102e" stroke-width="0.9"/>
<line x1="493.20" y1="524.90" x2="496.20" y2="524.90" stroke="#c8102e" stroke-width="0.9"/>
<line x1="503.90" y1="523.40" x2="503.90" y2="532.60" stroke="#c8102e" stroke-width="0.9"/>
<line x1="502.40" y1="523.40" x2="505.40" y2="523.40" stroke="#c8102e" stroke-width="0.9"/>
<line x1="502.40" y1="532.60" x2="505.40" y2="532.60" stroke="#c8102e" stroke-width="0.9"/>
<line x1="419.20" y1="516.60" x2="419.20" y2="521.80" stroke="#1f4f8c" stroke-width="0.9"/>
<line x1="417.70" y1="516.60" x2="420.70" y2="516.60" stroke="#1f4f8c" stroke-width="0.9"/>
<line x1="417.70" y1="521.80" x2="420.70" y2="521.80" stroke="#1f4f8c" stroke-width="0.9"/>
<line x1="429.20" y1="513.20" x2="429.20" y2="525.20" stroke="#1f4f8c" stroke-width="0.9"/>
<line x1="427.70" y1="513.20" x2="430.70" y2="513.20" stroke="#1f4f8c" stroke-width="0.9"/>
<line x1="427.70" y1="525.20" x2="430.70" y2="525.20" stroke="#1f4f8c" stroke-width="0.9"/>
<line x1="438.40" y1="516.40" x2="438.40" y2="524.40" stroke="#1f4f8c" stroke-width="0.9"/>
<line x1="436.90" y1="516.40" x2="439.90" y2="516.40" stroke="#1f4f8c" stroke-width="0.9"/>
<line x1="436.90" y1="524.40" x2="439.90" y2="524.40" stroke="#1f4f8c" stroke-width="0.9"/>
<line x1="447.60" y1="520.90" x2="447.60" y2="526.70" stroke="#1f4f8c" stroke-width="0.9"/>
<line x1="446.10" y1="520.90" x2="449.10" y2="520.90" stroke="#1f4f8c" stroke-width="0.9"/>
<line x1="446.10" y1="526.70" x2="449.10" y2="526.70" stroke="#1f4f8c" stroke-width="0.9"/>
<line x1="456.80" y1="522.10" x2="456.80" y2="532.50" stroke="#1f4f8c" stroke-width="0.9"/>
<line x1="455.30" y1="522.10" x2="458.30" y2="522.10" stroke="#1f4f8c" stroke-width="0.9"/>
<line x1="455.30" y1="532.50" x2="458.30" y2="532.50" stroke="#1f4f8c" stroke-width="0.9"/>
<line x1="466.50" y1="533.20" x2="466.50" y2="541.20" stroke="#1f4f8c" stroke-width="0.9"/>
<line x1="465.00" y1="533.20" x2="468.00" y2="533.20" stroke="#1f4f8c" stroke-width="0.9"/>
<line x1="465.00" y1="541.20" x2="468.00" y2="541.20" stroke="#1f4f8c" stroke-width="0.9"/>
<line x1="475.80" y1="536.00" x2="475.80" y2="548.60" stroke="#1f4f8c" stroke-width="0.9"/>
<line x1="474.30" y1="536.00" x2="477.30" y2="536.00" stroke="#1f4f8c" stroke-width="0.9"/>
<line x1="474.30" y1="548.60" x2="477.30" y2="548.60" stroke="#1f4f8c" stroke-width="0.9"/>
<line x1="485.00" y1="543.50" x2="485.00" y2="557.30" stroke="#1f4f8c" stroke-width="0.9"/>
<line x1="483.50" y1="543.50" x2="486.50" y2="543.50" stroke="#1f4f8c" stroke-width="0.9"/>
<line x1="483.50" y1="557.30" x2="486.50" y2="557.30" stroke="#1f4f8c" stroke-width="0.9"/>
<line x1="494.70" y1="554.40" x2="494.70" y2="564.80" stroke="#1f4f8c" stroke-width="0.9"/>
<line x1="493.20" y1="554.40" x2="496.20" y2="554.40" stroke="#1f4f8c" stroke-width="0.9"/>
<line x1="493.20" y1="564.80" x2="496.20" y2="564.80" stroke="#1f4f8c" stroke-width="0.9"/>
<line x1="503.90" y1="563.20" x2="503.90" y2="573.60" stroke="#1f4f8c" stroke-width="0.9"/>
<line x1="502.40" y1="563.20" x2="505.40" y2="563.20" stroke="#1f4f8c" stroke-width="0.9"/>
<line x1="502.40" y1="573.60" x2="505.40" y2="573.60" stroke="#1f4f8c" stroke-width="0.9"/>
<line x1="419.20" y1="529.10" x2="419.20" y2="537.10" stroke="#34a634" stroke-width="0.9"/>
<line x1="417.70" y1="529.10" x2="420.70" y2="529.10" stroke="#34a634" stroke-width="0.9"/>
<line x1="417.70" y1="537.10" x2="420.70" y2="537.10" stroke="#34a634" stroke-width="0.9"/>
<line x1="429.20" y1="528.90" x2="429.20" y2="540.50" stroke="#34a634" stroke-width="0.9"/>
<line x1="427.70" y1="528.90" x2="430.70" y2="528.90" stroke="#34a634" stroke-width="0.9"/>
<line x1="427.70" y1="540.50" x2="430.70" y2="540.50" stroke="#34a634" stroke-width="0.9"/>
<line x1="438.40" y1="536.50" x2="438.40" y2="543.50" stroke="#34a634" stroke-width="0.9"/>
<line x1="436.90" y1="536.50" x2="439.90" y2="536.50" stroke="#34a634" stroke-width="0.9"/>
<line x1="436.90" y1="543.50" x2="439.90" y2="543.50" stroke="#34a634" stroke-width="0.9"/>
<line x1="447.60" y1="544.70" x2="447.60" y2="550.50" stroke="#34a634" stroke-width="0.9"/>
<line x1="446.10" y1="544.70" x2="449.10" y2="544.70" stroke="#34a634" stroke-width="0.9"/>
<line x1="446.10" y1="550.50" x2="449.10" y2="550.50" stroke="#34a634" stroke-width="0.9"/>
<line x1="456.80" y1="544.60" x2="456.80" y2="556.20" stroke="#34a634" stroke-width="0.9"/>
<line x1="455.30" y1="544.60" x2="458.30" y2="544.60" stroke="#34a634" stroke-width="0.9"/>
<line x1="455.30" y1="556.20" x2="458.30" y2="556.20" stroke="#34a634" stroke-width="0.9"/>
<line x1="494.70" y1="562.10" x2="494.70" y2="565.50" stroke="#34a634" stroke-width="0.9"/>
<line x1="493.20" y1="562.10" x2="496.20" y2="562.10" stroke="#34a634" stroke-width="0.9"/>
<line x1="493.20" y1="565.50" x2="496.20" y2="565.50" stroke="#34a634" stroke-width="0.9"/>
<line x1="503.90" y1="563.80" x2="503.90" y2="573.00" stroke="#34a634" stroke-width="0.9"/>
<line x1="502.40" y1="563.80" x2="505.40" y2="563.80" stroke="#34a634" stroke-width="0.9"/>
<line x1="502.40" y1="573.00" x2="505.40" y2="573.00" stroke="#34a634" stroke-width="0.9"/>
<circle cx="419.20" cy="533.10" r="1.8" fill="#34a634"/>
<circle cx="429.20" cy="534.70" r="1.8" fill="#34a634"/>
<circle cx="438.40" cy="540.00" r="1.8" fill="#34a634"/>
<circle cx="447.60" cy="547.60" r="1.8" fill="#34a634"/>
<circle cx="456.80" cy="550.40" r="1.8" fill="#34a634"/>
<circle cx="466.50" cy="556.20" r="1.8" fill="#34a634"/>
<circle cx="475.80" cy="558.50" r="1.8" fill="#34a634"/>
<circle cx="485.00" cy="560.80" r="1.8" fill="#34a634"/>
<circle cx="494.70" cy="563.80" r="1.8" fill="#34a634"/>
<circle cx="503.90" cy="568.40" r="1.8" fill="#34a634"/>
<circle cx="419.20" cy="519.20" r="1.8" fill="#1f4f8c"/>
<circle cx="429.20" cy="519.20" r="1.8" fill="#1f4f8c"/>
<circle cx="438.40" cy="520.40" r="1.8" fill="#1f4f8c"/>
<circle cx="447.60" cy="523.80" r="1.8" fill="#1f4f8c"/>
<circle cx="456.80" cy="527.30" r="1.8" fill="#1f4f8c"/>
<circle cx="466.50" cy="537.20" r="1.8" fill="#1f4f8c"/>
<circle cx="475.80" cy="542.30" r="1.8" fill="#1f4f8c"/>
<circle cx="485.00" cy="550.40" r="1.8" fill="#1f4f8c"/>
<circle cx="494.70" cy="559.60" r="1.8" fill="#1f4f8c"/>
<circle cx="503.90" cy="568.40" r="1.8" fill="#1f4f8c"/>
<circle cx="419.20" cy="515.80" r="1.8" fill="#c8102e"/>
<circle cx="429.20" cy="516.20" r="1.8" fill="#c8102e"/>
<circle cx="438.40" cy="515.30" r="1.8" fill="#c8102e"/>
<circle cx="447.60" cy="516.90" r="1.8" fill="#c8102e"/>
<circle cx="456.80" cy="516.90" r="1.8" fill="#c8102e"/>
<circle cx="466.50" cy="516.90" r="1.8" fill="#c8102e"/>
<circle cx="475.80" cy="517.40" r="1.8" fill="#c8102e"/>
<circle cx="485.00" cy="518.80" r="1.8" fill="#c8102e"/>
<circle cx="494.70" cy="522.00" r="1.8" fill="#c8102e"/>
<circle cx="503.90" cy="528.00" r="1.8" fill="#c8102e"/>
<line x1="407.70" y1="515.00" x2="407.70" y2="520.00" stroke="#c8102e" stroke-width="0.8"/>
<line x1="406.60" y1="515.00" x2="408.80" y2="515.00" stroke="#c8102e" stroke-width="0.8"/>
<line x1="406.60" y1="520.00" x2="408.80" y2="520.00" stroke="#c8102e" stroke-width="0.8"/>
<path d="M406.10,517.50 L407.70,515.90 L409.30,517.50 L407.70,519.10 Z" fill="#c8102e"/>
<line x1="407.70" y1="517.00" x2="407.70" y2="522.00" stroke="#1f4f8c" stroke-width="0.8"/>
<line x1="406.60" y1="517.00" x2="408.80" y2="517.00" stroke="#1f4f8c" stroke-width="0.8"/>
<line x1="406.60" y1="522.00" x2="408.80" y2="522.00" stroke="#1f4f8c" stroke-width="0.8"/>
<path d="M406.10,519.50 L407.70,517.90 L409.30,519.50 L407.70,521.10 Z" fill="#1f4f8c"/>
<line x1="407.70" y1="518.50" x2="407.70" y2="523.50" stroke="#34a634" stroke-width="0.8"/>
<line x1="406.60" y1="518.50" x2="408.80" y2="518.50" stroke="#34a634" stroke-width="0.8"/>
<line x1="406.60" y1="523.50" x2="408.80" y2="523.50" stroke="#34a634" stroke-width="0.8"/>
<path d="M406.10,521.00 L407.70,519.40 L409.30,521.00 L407.70,522.60 Z" fill="#34a634"/>
<line x1="404.00" y1="554.20" x2="410.50" y2="554.20" stroke="#c8102e" stroke-width="0.8"/>
<path d="M405.40,554.20 L407.20,552.40 L409.00,554.20 L407.20,556.00 Z" fill="#c8102e"/>
<line x1="404.00" y1="577.30" x2="410.50" y2="577.30" stroke="#1f4f8c" stroke-width="0.8"/>
<path d="M405.40,577.30 L407.20,575.50 L409.00,577.30 L407.20,579.10 Z" fill="#1f4f8c"/>
<line x1="404.00" y1="584.20" x2="410.50" y2="584.20" stroke="#34a634" stroke-width="0.8"/>
<path d="M405.40,584.20 L407.20,582.40 L409.00,584.20 L407.20,586.00 Z" fill="#34a634"/>
<text x="412.60" y="556.10" font-size="5.9" text-anchor="start" fill="#262626" textLength="16.90" lengthAdjust="spacingAndGlyphs">Parent</text>
<text x="412.60" y="563.90" font-size="5.9" text-anchor="start" fill="#262626" textLength="48.40" lengthAdjust="spacingAndGlyphs">(DR4: 1557 ± 178)</text>
<text x="412.60" y="570.80" font-size="5.9" text-anchor="start" fill="#262626" textLength="40.80" lengthAdjust="spacingAndGlyphs">(DR5: 149 ± 37)</text>
<text x="413.40" y="579.60" font-size="5.9" text-anchor="start" fill="#262626" textLength="56.10" lengthAdjust="spacingAndGlyphs">+huDR4 (5034 ± 462)</text>
<text x="413.40" y="586.20" font-size="5.9" text-anchor="start" fill="#262626" textLength="60.00" lengthAdjust="spacingAndGlyphs">+huDR5 (12494 ± 363)</text>
<rect x="0.5" y="0.5" width="519" height="632" fill="none" stroke="#5a5a5a" stroke-width="1"/>
</svg></body></html>
